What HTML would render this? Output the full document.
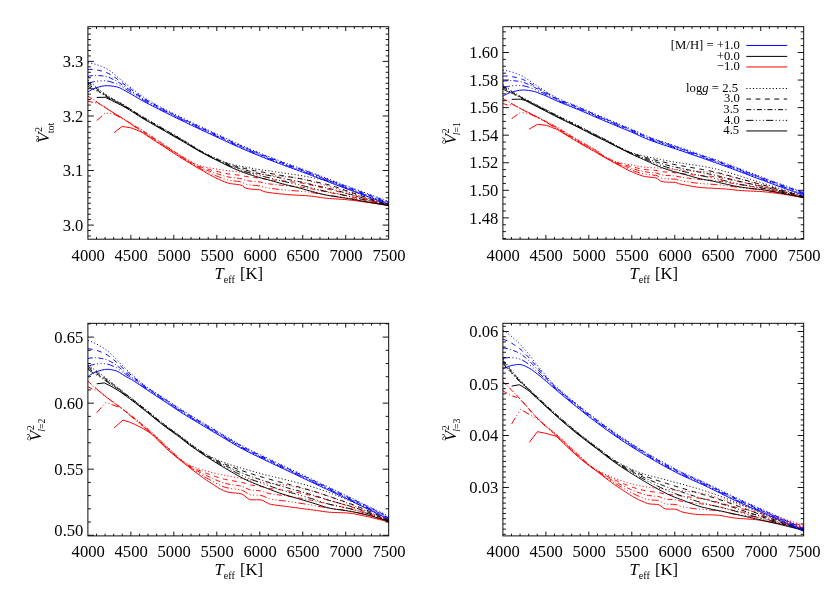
<!DOCTYPE html>
<html><head><meta charset="utf-8"><title>V2</title>
<style>html,body{margin:0;padding:0;background:#fff}svg{display:block;will-change:transform}text{font-family:"Liberation Serif",serif;fill:#000}</style></head><body>
<svg width="830" height="592" viewBox="0 0 830 592">
<rect width="830" height="592" fill="#fff"/>
<defs>
<clipPath id="clip1"><rect x="87.90" y="26.70" width="301.40" height="212.50"/></clipPath>
<clipPath id="clip2"><rect x="502.90" y="26.70" width="301.40" height="212.50"/></clipPath>
<clipPath id="clip3"><rect x="87.90" y="323.30" width="301.40" height="212.60"/></clipPath>
<clipPath id="clip4"><rect x="502.90" y="323.30" width="301.40" height="212.60"/></clipPath>
</defs>
<g clip-path="url(#clip1)" stroke-linejoin="round">
<path d="M87.90 95.93 L89.40 96.94 L90.90 97.94 L92.40 98.94 L93.90 99.94 L95.40 100.93 L96.90 101.92 L98.40 102.90 L99.90 103.88 L101.40 104.86 L102.90 105.83 L104.40 106.80 L105.90 107.76 L107.40 108.72 L108.90 109.68 L110.40 110.63 L111.90 111.58 L113.40 112.53 L114.90 113.47 L116.40 114.41 L117.90 115.34 L119.40 116.28 L120.90 117.21 L122.40 118.14 L123.90 119.06 L125.40 119.98 L126.90 120.89 L128.40 121.80 L129.90 122.69 L131.40 123.59 L132.90 124.48 L134.40 125.38 L135.90 126.27 L137.40 127.18 L138.90 128.08 L140.40 129.00 L141.90 129.93 L143.40 130.86 L144.90 131.81 L146.40 132.77 L147.90 133.75 L149.40 134.72 L150.90 135.71 L152.40 136.70 L153.90 137.69 L155.40 138.69 L156.90 139.68 L158.40 140.68 L159.90 141.67 L161.40 142.65 L162.90 143.63 L164.40 144.61 L165.90 145.60 L167.40 146.58 L168.90 147.57 L170.40 148.56 L171.90 149.55 L173.40 150.53 L174.90 151.51 L176.40 152.48 L177.90 153.44 L179.40 154.39 L180.90 155.32 L182.40 156.25 L183.90 157.19 L185.40 158.14 L186.90 159.09 L188.40 160.03 L189.90 160.94 L191.40 161.80 L192.90 162.60 L194.40 163.33 L195.90 163.98 L197.40 164.60 L198.90 165.17 L200.40 165.69 L201.90 166.16 L203.40 166.57 L204.90 166.93 L206.40 167.26 L207.90 167.56 L209.40 167.84 L210.90 168.10 L212.40 168.36 L213.90 168.60 L215.40 168.84 L216.90 169.08 L218.40 169.33 L219.90 169.57 L221.40 169.82 L222.90 170.05 L224.40 170.28 L225.90 170.50 L227.40 170.71 L228.90 170.90 L230.40 171.09 L231.90 171.26 L233.40 171.41 L234.90 171.56 L236.40 171.70 L237.90 171.83 L239.40 171.97 L240.90 172.10 L242.40 172.24 L243.90 172.39 L245.40 172.54 L246.90 172.70 L248.40 172.86 L249.90 173.02 L251.40 173.19 L252.90 173.35 L254.40 173.52 L255.90 173.69 L257.40 173.86 L258.90 174.03 L260.40 174.20 L261.90 174.37 L263.40 174.54 L264.90 174.71 L266.40 174.88 L267.90 175.05 L269.40 175.22 L270.90 175.39 L272.40 175.55 L273.90 175.71 L275.40 175.86 L276.90 176.00 L278.40 176.14 L279.90 176.28 L281.40 176.42 L282.90 176.56 L284.40 176.70 L285.90 176.84 L287.40 176.99 L288.90 177.15 L290.40 177.31 L291.90 177.48 L293.40 177.66 L294.90 177.85 L296.40 178.05 L297.90 178.27 L299.40 178.50 L300.90 178.76 L302.40 179.09 L303.90 179.47 L305.40 179.88 L306.90 180.29 L308.40 180.68 L309.90 181.08 L311.40 181.48 L312.90 181.88 L314.40 182.28 L315.90 182.69 L317.40 183.10 L318.90 183.52 L320.40 183.94 L321.90 184.36 L323.40 184.78 L324.90 185.21 L326.40 185.64 L327.90 186.07 L329.40 186.51 L330.90 186.94 L332.40 187.38 L333.90 187.82 L335.40 188.27 L336.90 188.71 L338.40 189.16 L339.90 189.61 L341.40 190.06 L342.90 190.51 L344.40 190.96 L345.90 191.42 L347.40 191.87 L348.90 192.33 L350.40 192.79 L351.90 193.25 L353.40 193.72 L354.90 194.18 L356.40 194.65 L357.90 195.12 L359.40 195.60 L360.90 196.07 L362.40 196.55 L363.90 197.03 L365.40 197.51 L366.90 198.00 L368.40 198.48 L369.90 198.97 L371.40 199.46 L372.90 199.95 L374.40 200.45 L375.90 200.95 L377.40 201.44 L378.90 201.95 L380.40 202.45 L381.90 202.95 L383.40 203.46 L384.90 203.97 L386.40 204.48 L387.90 204.99 L388.70 205.27" stroke="#ff0000" stroke-width="1.00" fill="none" stroke-dasharray="1.1 2.2"/>
<path d="M87.90 96.08 L89.40 97.09 L90.90 98.09 L92.40 99.09 L93.90 100.09 L95.40 101.08 L96.90 102.07 L98.40 103.05 L99.90 104.03 L101.40 105.01 L102.90 105.98 L104.40 106.95 L105.90 107.91 L107.40 108.87 L108.90 109.82 L110.40 110.77 L111.90 111.71 L113.40 112.65 L114.90 113.59 L116.40 114.53 L117.90 115.46 L119.40 116.40 L120.90 117.33 L122.40 118.27 L123.90 119.21 L125.40 120.15 L126.90 121.09 L128.40 122.03 L129.90 122.97 L131.40 123.90 L132.90 124.84 L134.40 125.78 L135.90 126.72 L137.40 127.66 L138.90 128.60 L140.40 129.55 L141.90 130.51 L143.40 131.46 L144.90 132.43 L146.40 133.40 L147.90 134.38 L149.40 135.36 L150.90 136.34 L152.40 137.33 L153.90 138.32 L155.40 139.31 L156.90 140.30 L158.40 141.28 L159.90 142.27 L161.40 143.25 L162.90 144.23 L164.40 145.21 L165.90 146.19 L167.40 147.18 L168.90 148.17 L170.40 149.16 L171.90 150.14 L173.40 151.12 L174.90 152.10 L176.40 153.07 L177.90 154.03 L179.40 154.98 L180.90 155.92 L182.40 156.85 L183.90 157.78 L185.40 158.73 L186.90 159.68 L188.40 160.61 L189.90 161.52 L191.40 162.39 L192.90 163.22 L194.40 163.99 L195.90 164.70 L197.40 165.38 L198.90 166.02 L200.40 166.64 L201.90 167.20 L203.40 167.72 L204.90 168.20 L206.40 168.66 L207.90 169.10 L209.40 169.52 L210.90 169.93 L212.40 170.32 L213.90 170.70 L215.40 171.07 L216.90 171.43 L218.40 171.78 L219.90 172.13 L221.40 172.48 L222.90 172.82 L224.40 173.15 L225.90 173.46 L227.40 173.74 L228.90 173.99 L230.40 174.21 L231.90 174.40 L233.40 174.56 L234.90 174.71 L236.40 174.86 L237.90 175.02 L239.40 175.18 L240.90 175.37 L242.40 175.63 L243.90 176.04 L245.40 176.40 L246.90 176.63 L248.40 176.83 L249.90 177.01 L251.40 177.17 L252.90 177.33 L254.40 177.48 L255.90 177.64 L257.40 177.80 L258.90 177.97 L260.40 178.16 L261.90 178.44 L263.40 178.75 L264.90 178.99 L266.40 179.19 L267.90 179.38 L269.40 179.56 L270.90 179.74 L272.40 179.91 L273.90 180.07 L275.40 180.23 L276.90 180.38 L278.40 180.53 L279.90 180.67 L281.40 180.82 L282.90 180.96 L284.40 181.09 L285.90 181.24 L287.40 181.38 L288.90 181.52 L290.40 181.67 L291.90 181.83 L293.40 181.99 L294.90 182.16 L296.40 182.33 L297.90 182.52 L299.40 182.72 L300.90 182.93 L302.40 183.20 L303.90 183.50 L305.40 183.82 L306.90 184.15 L308.40 184.48 L309.90 184.81 L311.40 185.15 L312.90 185.50 L314.40 185.85 L315.90 186.21 L317.40 186.58 L318.90 186.95 L320.40 187.32 L321.90 187.69 L323.40 188.06 L324.90 188.43 L326.40 188.79 L327.90 189.15 L329.40 189.51 L330.90 189.86 L332.40 190.22 L333.90 190.57 L335.40 190.93 L336.90 191.29 L338.40 191.65 L339.90 192.01 L341.40 192.37 L342.90 192.73 L344.40 193.10 L345.90 193.47 L347.40 193.85 L348.90 194.23 L350.40 194.62 L351.90 195.01 L353.40 195.40 L354.90 195.80 L356.40 196.20 L357.90 196.61 L359.40 197.02 L360.90 197.43 L362.40 197.84 L363.90 198.25 L365.40 198.66 L366.90 199.08 L368.40 199.50 L369.90 199.92 L371.40 200.34 L372.90 200.76 L374.40 201.19 L375.90 201.62 L377.40 202.05 L378.90 202.48 L380.40 202.91 L381.90 203.35 L383.40 203.79 L384.90 204.23 L386.40 204.68 L387.90 205.12 L388.70 205.36" stroke="#ff0000" stroke-width="1.00" fill="none" stroke-dasharray="4.8 4.55"/>
<path d="M88.00 101.20 L93.00 102.40 L98.60 103.33 L100.10 104.31 L101.60 105.29 L103.10 106.26 L104.60 107.23 L106.10 108.19 L107.60 109.14 L109.10 110.09 L110.60 111.03 L112.10 111.97 L113.60 112.90 L115.10 113.83 L116.60 114.77 L118.10 115.70 L119.60 116.64 L121.10 117.59 L122.60 118.54 L124.10 119.49 L125.60 120.45 L127.10 121.42 L128.60 122.39 L130.10 123.37 L131.60 124.34 L133.10 125.32 L134.60 126.31 L136.10 127.29 L137.60 128.27 L139.10 129.25 L140.60 130.24 L142.10 131.22 L143.60 132.20 L145.10 133.18 L146.60 134.16 L148.10 135.14 L149.60 136.12 L151.10 137.11 L152.60 138.09 L154.10 139.07 L155.60 140.06 L157.10 141.04 L158.60 142.02 L160.10 143.00 L161.60 143.98 L163.10 144.96 L164.60 145.94 L166.10 146.92 L167.60 147.91 L169.10 148.90 L170.60 149.88 L172.10 150.87 L173.60 151.85 L175.10 152.82 L176.60 153.79 L178.10 154.75 L179.60 155.70 L181.10 156.64 L182.60 157.57 L184.10 158.51 L185.60 159.45 L187.10 160.39 L188.60 161.31 L190.10 162.22 L191.60 163.10 L193.10 163.94 L194.60 164.75 L196.10 165.51 L197.60 166.26 L199.10 166.98 L200.60 167.67 L202.10 168.32 L203.60 168.94 L205.10 169.54 L206.60 170.13 L208.10 170.71 L209.60 171.27 L211.10 171.82 L212.60 172.36 L214.10 172.87 L215.60 173.36 L217.10 173.83 L218.60 174.29 L220.10 174.76 L221.60 175.21 L223.10 175.66 L224.60 176.08 L226.10 176.46 L227.60 176.81 L229.10 177.12 L230.60 177.36 L232.10 177.56 L233.60 177.72 L235.10 177.88 L236.60 178.05 L238.10 178.23 L239.60 178.42 L241.10 178.67 L242.60 179.11 L244.10 179.79 L245.60 180.30 L247.10 180.59 L248.60 180.82 L250.10 181.01 L251.60 181.18 L253.10 181.33 L254.60 181.46 L256.10 181.60 L257.60 181.75 L259.10 181.93 L260.60 182.15 L262.10 182.56 L263.60 183.02 L265.10 183.30 L266.60 183.52 L268.10 183.72 L269.60 183.92 L271.10 184.11 L272.60 184.29 L274.10 184.46 L275.60 184.63 L277.10 184.79 L278.60 184.94 L280.10 185.09 L281.60 185.23 L283.10 185.37 L284.60 185.51 L286.10 185.65 L287.60 185.78 L289.10 185.92 L290.60 186.06 L292.10 186.20 L293.60 186.34 L295.10 186.49 L296.60 186.64 L298.10 186.79 L299.60 186.96 L301.10 187.13 L302.60 187.34 L304.10 187.56 L305.60 187.80 L307.10 188.05 L308.60 188.30 L310.10 188.57 L311.60 188.85 L313.10 189.15 L314.60 189.46 L316.10 189.78 L317.60 190.10 L319.10 190.42 L320.60 190.74 L322.10 191.06 L323.60 191.38 L325.10 191.68 L326.60 191.98 L328.10 192.26 L329.60 192.54 L331.10 192.82 L332.60 193.09 L334.10 193.36 L335.60 193.63 L337.10 193.90 L338.60 194.17 L340.10 194.44 L341.60 194.72 L343.10 195.00 L344.60 195.28 L346.10 195.57 L347.60 195.87 L349.10 196.18 L350.60 196.49 L352.10 196.81 L353.60 197.13 L355.10 197.47 L356.60 197.80 L358.10 198.14 L359.60 198.48 L361.10 198.82 L362.60 199.17 L364.10 199.51 L365.60 199.86 L367.10 200.21 L368.60 200.56 L370.10 200.91 L371.60 201.26 L373.10 201.62 L374.60 201.97 L376.10 202.33 L377.60 202.70 L379.10 203.06 L380.60 203.43 L382.10 203.80 L383.60 204.17 L385.10 204.54 L386.60 204.92 L388.10 205.30 L388.70 205.45" stroke="#ff0000" stroke-width="1.00" fill="none" stroke-dasharray="5 2.3 1 2.3"/>
<path d="M96.70 120.60 L105.40 112.90 L114.00 114.20 L122.00 118.50 L129.70 123.37 L131.20 124.39 L132.70 125.41 L134.20 126.44 L135.70 127.46 L137.20 128.49 L138.70 129.51 L140.20 130.52 L141.70 131.53 L143.20 132.53 L144.70 133.53 L146.20 134.52 L147.70 135.51 L149.20 136.49 L150.70 137.48 L152.20 138.46 L153.70 139.44 L155.20 140.42 L156.70 141.39 L158.20 142.37 L159.70 143.35 L161.20 144.32 L162.70 145.30 L164.20 146.28 L165.70 147.26 L167.20 148.25 L168.70 149.23 L170.20 150.21 L171.70 151.20 L173.20 152.18 L174.70 153.15 L176.20 154.12 L177.70 155.09 L179.20 156.04 L180.70 156.99 L182.20 157.92 L183.70 158.86 L185.20 159.79 L186.70 160.72 L188.20 161.64 L189.70 162.56 L191.20 163.45 L192.70 164.33 L194.20 165.19 L195.70 166.02 L197.20 166.83 L198.70 167.63 L200.20 168.42 L201.70 169.17 L203.20 169.91 L204.70 170.63 L206.20 171.35 L207.70 172.07 L209.20 172.78 L210.70 173.48 L212.20 174.16 L213.70 174.82 L215.20 175.45 L216.70 176.04 L218.20 176.60 L219.70 177.18 L221.20 177.75 L222.70 178.30 L224.20 178.82 L225.70 179.31 L227.20 179.75 L228.70 180.12 L230.20 180.42 L231.70 180.65 L233.20 180.82 L234.70 180.98 L236.20 181.17 L237.70 181.36 L239.20 181.58 L240.70 181.85 L242.20 182.32 L243.70 183.22 L245.20 184.04 L246.70 184.44 L248.20 184.72 L249.70 184.95 L251.20 185.13 L252.70 185.27 L254.20 185.39 L255.70 185.51 L257.20 185.65 L258.70 185.82 L260.20 186.03 L261.70 186.48 L263.20 187.11 L264.70 187.50 L266.20 187.77 L267.70 187.99 L269.20 188.20 L270.70 188.41 L272.20 188.60 L273.70 188.78 L275.20 188.96 L276.70 189.13 L278.20 189.29 L279.70 189.44 L281.20 189.59 L282.70 189.73 L284.20 189.87 L285.70 190.00 L287.20 190.13 L288.70 190.26 L290.20 190.39 L291.70 190.51 L293.20 190.64 L294.70 190.76 L296.20 190.88 L297.70 191.01 L299.20 191.13 L300.70 191.26 L302.20 191.40 L303.70 191.54 L305.20 191.70 L306.70 191.86 L308.20 192.04 L309.70 192.23 L311.20 192.46 L312.70 192.70 L314.20 192.95 L315.70 193.22 L317.20 193.49 L318.70 193.77 L320.20 194.04 L321.70 194.32 L323.20 194.58 L324.70 194.83 L326.20 195.06 L327.70 195.28 L329.20 195.48 L330.70 195.67 L332.20 195.86 L333.70 196.05 L335.20 196.23 L336.70 196.41 L338.20 196.59 L339.70 196.78 L341.20 196.96 L342.70 197.15 L344.20 197.35 L345.70 197.56 L347.20 197.78 L348.70 198.01 L350.20 198.24 L351.70 198.49 L353.20 198.74 L354.70 199.00 L356.20 199.27 L357.70 199.54 L359.20 199.82 L360.70 200.09 L362.20 200.37 L363.70 200.65 L365.20 200.93 L366.70 201.21 L368.20 201.48 L369.70 201.77 L371.20 202.05 L372.70 202.34 L374.20 202.63 L375.70 202.92 L377.20 203.21 L378.70 203.51 L380.20 203.81 L381.70 204.11 L383.20 204.41 L384.70 204.72 L386.20 205.02 L387.70 205.33 L388.70 205.54" stroke="#ff0000" stroke-width="1.00" fill="none" stroke-dasharray="7.2 2.4 1 2.5 1 2.5 1 2.15"/>
<path d="M114.10 132.70 L122.20 126.40 L131.60 128.00 L136.70 130.00 L142.00 132.32 L143.50 133.33 L145.00 134.34 L146.50 135.34 L148.00 136.34 L149.50 137.32 L151.00 138.31 L152.50 139.28 L154.00 140.26 L155.50 141.23 L157.00 142.20 L158.50 143.17 L160.00 144.15 L161.50 145.12 L163.00 146.10 L164.50 147.07 L166.00 148.06 L167.50 149.04 L169.00 150.02 L170.50 151.01 L172.00 151.99 L173.50 152.97 L175.00 153.94 L176.50 154.91 L178.00 155.87 L179.50 156.83 L181.00 157.77 L182.50 158.71 L184.00 159.64 L185.50 160.57 L187.00 161.49 L188.50 162.41 L190.00 163.32 L191.50 164.22 L193.00 165.12 L194.50 166.01 L196.00 166.90 L197.50 167.78 L199.00 168.65 L200.50 169.52 L202.00 170.36 L203.50 171.20 L205.00 172.04 L206.50 172.90 L208.00 173.76 L209.50 174.61 L211.00 175.45 L212.50 176.27 L214.00 177.06 L215.50 177.80 L217.00 178.50 L218.50 179.18 L220.00 179.86 L221.50 180.53 L223.00 181.19 L224.50 181.80 L226.00 182.37 L227.50 182.86 L229.00 183.28 L230.50 183.60 L232.00 183.82 L233.50 184.00 L235.00 184.16 L236.50 184.37 L238.00 184.59 L239.50 184.84 L241.00 185.19 L242.50 185.88 L244.00 187.08 L245.50 188.00 L247.00 188.43 L248.50 188.74 L250.00 188.97 L251.50 189.14 L253.00 189.27 L254.50 189.38 L256.00 189.48 L257.50 189.61 L259.00 189.79 L260.50 190.04 L262.00 190.68 L263.50 191.43 L265.00 191.84 L266.50 192.12 L268.00 192.36 L269.50 192.58 L271.00 192.79 L272.50 193.00 L274.00 193.19 L275.50 193.37 L277.00 193.54 L278.50 193.71 L280.00 193.86 L281.50 194.01 L283.00 194.15 L284.50 194.29 L286.00 194.42 L287.50 194.55 L289.00 194.66 L290.50 194.78 L292.00 194.89 L293.50 194.99 L295.00 195.09 L296.50 195.19 L298.00 195.28 L299.50 195.37 L301.00 195.46 L302.50 195.53 L304.00 195.60 L305.50 195.67 L307.00 195.75 L308.50 195.86 L310.00 196.00 L311.50 196.17 L313.00 196.36 L314.50 196.57 L316.00 196.79 L317.50 197.02 L319.00 197.25 L320.50 197.48 L322.00 197.70 L323.50 197.90 L325.00 198.09 L326.50 198.25 L328.00 198.39 L329.50 198.51 L331.00 198.63 L332.50 198.73 L334.00 198.83 L335.50 198.92 L337.00 199.02 L338.50 199.11 L340.00 199.20 L341.50 199.30 L343.00 199.41 L344.50 199.53 L346.00 199.65 L347.50 199.80 L349.00 199.95 L350.50 200.11 L352.00 200.29 L353.50 200.48 L355.00 200.67 L356.50 200.87 L358.00 201.08 L359.50 201.28 L361.00 201.50 L362.50 201.71 L364.00 201.92 L365.50 202.13 L367.00 202.34 L368.50 202.55 L370.00 202.76 L371.50 202.98 L373.00 203.20 L374.50 203.42 L376.00 203.64 L377.50 203.87 L379.00 204.10 L380.50 204.33 L382.00 204.56 L383.50 204.80 L385.00 205.03 L386.50 205.28 L388.00 205.52 L388.70 205.63" stroke="#ff0000" stroke-width="1.00" fill="none"/>
<path d="M87.90 79.91 L89.40 81.25 L90.90 82.57 L92.40 83.87 L93.90 85.16 L95.40 86.42 L96.90 87.67 L98.40 88.91 L99.90 90.16 L101.40 91.37 L102.90 92.53 L104.40 93.60 L105.90 94.60 L107.40 95.55 L108.90 96.46 L110.40 97.34 L111.90 98.19 L113.40 99.02 L114.90 99.84 L116.40 100.65 L117.90 101.47 L119.40 102.29 L120.90 103.12 L122.40 103.98 L123.90 104.86 L125.40 105.77 L126.90 106.68 L128.40 107.61 L129.90 108.55 L131.40 109.49 L132.90 110.44 L134.40 111.39 L135.90 112.33 L137.40 113.28 L138.90 114.21 L140.40 115.14 L141.90 116.06 L143.40 116.96 L144.90 117.85 L146.40 118.74 L147.90 119.61 L149.40 120.48 L150.90 121.35 L152.40 122.21 L153.90 123.07 L155.40 123.92 L156.90 124.78 L158.40 125.64 L159.90 126.49 L161.40 127.35 L162.90 128.22 L164.40 129.08 L165.90 129.93 L167.40 130.79 L168.90 131.64 L170.40 132.50 L171.90 133.35 L173.40 134.20 L174.90 135.06 L176.40 135.93 L177.90 136.79 L179.40 137.67 L180.90 138.55 L182.40 139.44 L183.90 140.35 L185.40 141.27 L186.90 142.21 L188.40 143.16 L189.90 144.12 L191.40 145.07 L192.90 146.02 L194.40 146.97 L195.90 147.90 L197.40 148.81 L198.90 149.71 L200.40 150.58 L201.90 151.42 L203.40 152.24 L204.90 153.03 L206.40 153.81 L207.90 154.57 L209.40 155.31 L210.90 156.03 L212.40 156.74 L213.90 157.43 L215.40 158.11 L216.90 158.76 L218.40 159.39 L219.90 160.00 L221.40 160.59 L222.90 161.18 L224.40 161.76 L225.90 162.35 L227.40 162.95 L228.90 163.50 L230.40 163.97 L231.90 164.37 L233.40 164.73 L234.90 165.06 L236.40 165.37 L237.90 165.66 L239.40 165.94 L240.90 166.22 L242.40 166.49 L243.90 166.78 L245.40 167.07 L246.90 167.36 L248.40 167.65 L249.90 167.94 L251.40 168.22 L252.90 168.50 L254.40 168.76 L255.90 169.02 L257.40 169.27 L258.90 169.50 L260.40 169.73 L261.90 169.94 L263.40 170.15 L264.90 170.36 L266.40 170.56 L267.90 170.77 L269.40 170.97 L270.90 171.19 L272.40 171.40 L273.90 171.62 L275.40 171.84 L276.90 172.07 L278.40 172.29 L279.90 172.51 L281.40 172.73 L282.90 172.95 L284.40 173.17 L285.90 173.39 L287.40 173.60 L288.90 173.80 L290.40 174.01 L291.90 174.21 L293.40 174.42 L294.90 174.63 L296.40 174.85 L297.90 175.07 L299.40 175.30 L300.90 175.55 L302.40 175.81 L303.90 176.08 L305.40 176.36 L306.90 176.64 L308.40 176.94 L309.90 177.22 L311.40 177.51 L312.90 177.79 L314.40 178.08 L315.90 178.37 L317.40 178.66 L318.90 178.96 L320.40 179.27 L321.90 179.59 L323.40 179.93 L324.90 180.27 L326.40 180.64 L327.90 181.03 L329.40 181.43 L330.90 181.87 L332.40 182.36 L333.90 182.90 L335.40 183.48 L336.90 184.10 L338.40 184.73 L339.90 185.39 L341.40 186.04 L342.90 186.70 L344.40 187.34 L345.90 187.96 L347.40 188.56 L348.90 189.15 L350.40 189.74 L351.90 190.33 L353.40 190.93 L354.90 191.52 L356.40 192.11 L357.90 192.70 L359.40 193.29 L360.90 193.88 L362.40 194.47 L363.90 195.06 L365.40 195.64 L366.90 196.23 L368.40 196.82 L369.90 197.40 L371.40 197.99 L372.90 198.57 L374.40 199.15 L375.90 199.74 L377.40 200.32 L378.90 200.90 L380.40 201.48 L381.90 202.06 L383.40 202.64 L384.90 203.22 L386.40 203.79 L387.90 204.37 L388.70 204.68" stroke="#000000" stroke-width="1.00" fill="none" stroke-dasharray="1.1 2.2"/>
<path d="M87.90 82.05 L89.40 83.20 L90.90 84.35 L92.40 85.48 L93.90 86.60 L95.40 87.72 L96.90 88.82 L98.40 89.93 L99.90 91.04 L101.40 92.13 L102.90 93.19 L104.40 94.20 L105.90 95.17 L107.40 96.13 L108.90 97.05 L110.40 97.93 L111.90 98.78 L113.40 99.60 L114.90 100.40 L116.40 101.20 L117.90 101.99 L119.40 102.79 L120.90 103.60 L122.40 104.44 L123.90 105.31 L125.40 106.20 L126.90 107.11 L128.40 108.04 L129.90 108.97 L131.40 109.92 L132.90 110.86 L134.40 111.82 L135.90 112.77 L137.40 113.71 L138.90 114.65 L140.40 115.59 L141.90 116.51 L143.40 117.41 L144.90 118.30 L146.40 119.19 L147.90 120.06 L149.40 120.93 L150.90 121.80 L152.40 122.66 L153.90 123.52 L155.40 124.37 L156.90 125.23 L158.40 126.09 L159.90 126.94 L161.40 127.80 L162.90 128.67 L164.40 129.53 L165.90 130.39 L167.40 131.24 L168.90 132.10 L170.40 132.95 L171.90 133.81 L173.40 134.67 L174.90 135.52 L176.40 136.39 L177.90 137.25 L179.40 138.13 L180.90 139.00 L182.40 139.89 L183.90 140.79 L185.40 141.70 L186.90 142.63 L188.40 143.56 L189.90 144.50 L191.40 145.44 L192.90 146.38 L194.40 147.31 L195.90 148.22 L197.40 149.13 L198.90 150.02 L200.40 150.88 L201.90 151.72 L203.40 152.54 L204.90 153.34 L206.40 154.12 L207.90 154.88 L209.40 155.63 L210.90 156.36 L212.40 157.08 L213.90 157.79 L215.40 158.48 L216.90 159.16 L218.40 159.82 L219.90 160.46 L221.40 161.10 L222.90 161.72 L224.40 162.34 L225.90 162.98 L227.40 163.60 L228.90 164.19 L230.40 164.72 L231.90 165.18 L233.40 165.62 L234.90 166.03 L236.40 166.42 L237.90 166.80 L239.40 167.16 L240.90 167.52 L242.40 167.87 L243.90 168.23 L245.40 168.58 L246.90 168.93 L248.40 169.27 L249.90 169.61 L251.40 169.94 L252.90 170.27 L254.40 170.58 L255.90 170.89 L257.40 171.19 L258.90 171.47 L260.40 171.74 L261.90 172.01 L263.40 172.26 L264.90 172.52 L266.40 172.77 L267.90 173.02 L269.40 173.27 L270.90 173.53 L272.40 173.80 L273.90 174.07 L275.40 174.34 L276.90 174.61 L278.40 174.89 L279.90 175.16 L281.40 175.43 L282.90 175.70 L284.40 175.97 L285.90 176.22 L287.40 176.48 L288.90 176.72 L290.40 176.97 L291.90 177.21 L293.40 177.46 L294.90 177.70 L296.40 177.96 L297.90 178.22 L299.40 178.49 L300.90 178.77 L302.40 179.07 L303.90 179.37 L305.40 179.69 L306.90 180.01 L308.40 180.32 L309.90 180.64 L311.40 180.96 L312.90 181.27 L314.40 181.59 L315.90 181.91 L317.40 182.23 L318.90 182.55 L320.40 182.88 L321.90 183.21 L323.40 183.55 L324.90 183.90 L326.40 184.25 L327.90 184.61 L329.40 184.99 L330.90 185.38 L332.40 185.81 L333.90 186.27 L335.40 186.77 L336.90 187.28 L338.40 187.82 L339.90 188.36 L341.40 188.91 L342.90 189.46 L344.40 189.99 L345.90 190.52 L347.40 191.03 L348.90 191.54 L350.40 192.05 L351.90 192.56 L353.40 193.07 L354.90 193.57 L356.40 194.08 L357.90 194.59 L359.40 195.10 L360.90 195.61 L362.40 196.12 L363.90 196.62 L365.40 197.13 L366.90 197.64 L368.40 198.14 L369.90 198.65 L371.40 199.15 L372.90 199.65 L374.40 200.16 L375.90 200.66 L377.40 201.16 L378.90 201.66 L380.40 202.16 L381.90 202.66 L383.40 203.16 L384.90 203.66 L386.40 204.15 L387.90 204.65 L388.70 204.92" stroke="#000000" stroke-width="1.00" fill="none" stroke-dasharray="4.8 4.55"/>
<path d="M87.90 84.19 L89.40 85.15 L90.90 86.12 L92.40 87.09 L93.90 88.05 L95.40 89.02 L96.90 89.98 L98.40 90.95 L99.90 91.92 L101.40 92.90 L102.90 93.86 L104.40 94.80 L105.90 95.74 L107.40 96.70 L108.90 97.64 L110.40 98.53 L111.90 99.37 L113.40 100.17 L114.90 100.96 L116.40 101.74 L117.90 102.51 L119.40 103.29 L120.90 104.09 L122.40 104.91 L123.90 105.76 L125.40 106.64 L126.90 107.54 L128.40 108.46 L129.90 109.39 L131.40 110.34 L132.90 111.29 L134.40 112.24 L135.90 113.20 L137.40 114.15 L138.90 115.10 L140.40 116.03 L141.90 116.95 L143.40 117.86 L144.90 118.75 L146.40 119.64 L147.90 120.51 L149.40 121.38 L150.90 122.25 L152.40 123.11 L153.90 123.97 L155.40 124.82 L156.90 125.68 L158.40 126.54 L159.90 127.39 L161.40 128.25 L162.90 129.12 L164.40 129.98 L165.90 130.84 L167.40 131.70 L168.90 132.55 L170.40 133.41 L171.90 134.27 L173.40 135.13 L174.90 135.99 L176.40 136.85 L177.90 137.71 L179.40 138.58 L180.90 139.46 L182.40 140.34 L183.90 141.23 L185.40 142.13 L186.90 143.04 L188.40 143.96 L189.90 144.89 L191.40 145.81 L192.90 146.73 L194.40 147.65 L195.90 148.55 L197.40 149.44 L198.90 150.32 L200.40 151.18 L201.90 152.02 L203.40 152.84 L204.90 153.64 L206.40 154.43 L207.90 155.19 L209.40 155.95 L210.90 156.69 L212.40 157.42 L213.90 158.14 L215.40 158.85 L216.90 159.55 L218.40 160.24 L219.90 160.93 L221.40 161.60 L222.90 162.27 L224.40 162.93 L225.90 163.60 L227.40 164.26 L228.90 164.88 L230.40 165.46 L231.90 166.00 L233.40 166.51 L234.90 167.00 L236.40 167.48 L237.90 167.94 L239.40 168.38 L240.90 168.82 L242.40 169.25 L243.90 169.67 L245.40 170.09 L246.90 170.49 L248.40 170.89 L249.90 171.28 L251.40 171.67 L252.90 172.04 L254.40 172.40 L255.90 172.76 L257.40 173.10 L258.90 173.44 L260.40 173.76 L261.90 174.07 L263.40 174.37 L264.90 174.67 L266.40 174.97 L267.90 175.27 L269.40 175.57 L270.90 175.88 L272.40 176.20 L273.90 176.52 L275.40 176.84 L276.90 177.16 L278.40 177.49 L279.90 177.81 L281.40 178.13 L282.90 178.45 L284.40 178.76 L285.90 179.06 L287.40 179.36 L288.90 179.64 L290.40 179.93 L291.90 180.21 L293.40 180.49 L294.90 180.78 L296.40 181.07 L297.90 181.37 L299.40 181.67 L300.90 181.99 L302.40 182.33 L303.90 182.67 L305.40 183.02 L306.90 183.37 L308.40 183.71 L309.90 184.06 L311.40 184.40 L312.90 184.75 L314.40 185.10 L315.90 185.45 L317.40 185.79 L318.90 186.14 L320.40 186.49 L321.90 186.83 L323.40 187.18 L324.90 187.52 L326.40 187.86 L327.90 188.20 L329.40 188.54 L330.90 188.89 L332.40 189.26 L333.90 189.65 L335.40 190.05 L336.90 190.47 L338.40 190.90 L339.90 191.33 L341.40 191.77 L342.90 192.21 L344.40 192.65 L345.90 193.08 L347.40 193.50 L348.90 193.93 L350.40 194.35 L351.90 194.78 L353.40 195.20 L354.90 195.63 L356.40 196.06 L357.90 196.49 L359.40 196.91 L360.90 197.34 L362.40 197.77 L363.90 198.19 L365.40 198.62 L366.90 199.04 L368.40 199.47 L369.90 199.89 L371.40 200.31 L372.90 200.73 L374.40 201.16 L375.90 201.58 L377.40 202.00 L378.90 202.42 L380.40 202.84 L381.90 203.26 L383.40 203.68 L384.90 204.10 L386.40 204.52 L387.90 204.93 L388.70 205.16" stroke="#000000" stroke-width="1.00" fill="none" stroke-dasharray="5 2.3 1 2.3"/>
<path d="M87.90 86.32 L89.40 87.10 L90.90 87.89 L92.40 88.69 L93.90 89.50 L95.40 90.31 L96.90 91.13 L98.40 91.97 L99.90 92.81 L101.40 93.66 L102.90 94.53 L104.40 95.40 L105.90 96.32 L107.40 97.28 L108.90 98.23 L110.40 99.12 L111.90 99.95 L113.40 100.75 L114.90 101.52 L116.40 102.28 L117.90 103.04 L119.40 103.80 L120.90 104.57 L122.40 105.37 L123.90 106.21 L125.40 107.08 L126.90 107.97 L128.40 108.89 L129.90 109.82 L131.40 110.76 L132.90 111.71 L134.40 112.67 L135.90 113.63 L137.40 114.59 L138.90 115.54 L140.40 116.48 L141.90 117.40 L143.40 118.31 L144.90 119.20 L146.40 120.09 L147.90 120.96 L149.40 121.83 L150.90 122.70 L152.40 123.56 L153.90 124.42 L155.40 125.27 L156.90 126.13 L158.40 126.99 L159.90 127.84 L161.40 128.70 L162.90 129.57 L164.40 130.43 L165.90 131.29 L167.40 132.15 L168.90 133.01 L170.40 133.87 L171.90 134.73 L173.40 135.59 L174.90 136.45 L176.40 137.31 L177.90 138.17 L179.40 139.04 L180.90 139.91 L182.40 140.78 L183.90 141.67 L185.40 142.56 L186.90 143.46 L188.40 144.36 L189.90 145.27 L191.40 146.18 L192.90 147.08 L194.40 147.98 L195.90 148.88 L197.40 149.76 L198.90 150.63 L200.40 151.49 L201.90 152.32 L203.40 153.14 L204.90 153.95 L206.40 154.73 L207.90 155.51 L209.40 156.27 L210.90 157.02 L212.40 157.76 L213.90 158.50 L215.40 159.23 L216.90 159.95 L218.40 160.67 L219.90 161.39 L221.40 162.11 L222.90 162.82 L224.40 163.52 L225.90 164.22 L227.40 164.91 L228.90 165.58 L230.40 166.21 L231.90 166.81 L233.40 167.40 L234.90 167.97 L236.40 168.53 L237.90 169.08 L239.40 169.61 L240.90 170.12 L242.40 170.63 L243.90 171.12 L245.40 171.59 L246.90 172.06 L248.40 172.51 L249.90 172.96 L251.40 173.39 L252.90 173.81 L254.40 174.22 L255.90 174.63 L257.40 175.02 L258.90 175.41 L260.40 175.78 L261.90 176.14 L263.40 176.49 L264.90 176.83 L266.40 177.18 L267.90 177.52 L269.40 177.87 L270.90 178.23 L272.40 178.59 L273.90 178.96 L275.40 179.34 L276.90 179.71 L278.40 180.09 L279.90 180.46 L281.40 180.83 L282.90 181.20 L284.40 181.55 L285.90 181.90 L287.40 182.23 L288.90 182.56 L290.40 182.89 L291.90 183.21 L293.40 183.53 L294.90 183.85 L296.40 184.18 L297.90 184.52 L299.40 184.86 L300.90 185.22 L302.40 185.59 L303.90 185.96 L305.40 186.35 L306.90 186.73 L308.40 187.10 L309.90 187.47 L311.40 187.85 L312.90 188.23 L314.40 188.61 L315.90 188.99 L317.40 189.36 L318.90 189.73 L320.40 190.10 L321.90 190.46 L323.40 190.80 L324.90 191.14 L326.40 191.47 L327.90 191.79 L329.40 192.09 L330.90 192.40 L332.40 192.70 L333.90 193.02 L335.40 193.34 L336.90 193.66 L338.40 193.98 L339.90 194.31 L341.40 194.64 L342.90 194.97 L344.40 195.31 L345.90 195.64 L347.40 195.98 L348.90 196.32 L350.40 196.66 L351.90 197.00 L353.40 197.34 L354.90 197.69 L356.40 198.03 L357.90 198.38 L359.40 198.73 L360.90 199.07 L362.40 199.42 L363.90 199.76 L365.40 200.11 L366.90 200.45 L368.40 200.79 L369.90 201.13 L371.40 201.48 L372.90 201.82 L374.40 202.16 L375.90 202.50 L377.40 202.84 L378.90 203.18 L380.40 203.52 L381.90 203.86 L383.40 204.20 L384.90 204.54 L386.40 204.88 L387.90 205.21 L388.70 205.40" stroke="#000000" stroke-width="1.00" fill="none" stroke-dasharray="7.2 2.4 1 2.5 1 2.5 1 2.15"/>
<path d="M96.70 97.40 L105.20 97.30 L110.20 99.80 L111.50 100.32 L113.00 101.12 L114.50 101.88 L116.00 102.63 L117.50 103.36 L119.00 104.10 L120.50 104.85 L122.00 105.62 L123.50 106.43 L125.00 107.28 L126.50 108.16 L128.00 109.06 L129.50 109.99 L131.00 110.93 L132.50 111.88 L134.00 112.84 L135.50 113.81 L137.00 114.77 L138.50 115.73 L140.00 116.68 L141.50 117.61 L143.00 118.52 L144.50 119.41 L146.00 120.30 L147.50 121.18 L149.00 122.05 L150.50 122.92 L152.00 123.78 L153.50 124.64 L155.00 125.50 L156.50 126.35 L158.00 127.21 L159.50 128.06 L161.00 128.92 L162.50 129.78 L164.00 130.65 L165.50 131.51 L167.00 132.37 L168.50 133.24 L170.00 134.10 L171.50 134.96 L173.00 135.82 L174.50 136.68 L176.00 137.54 L177.50 138.40 L179.00 139.27 L180.50 140.13 L182.00 141.00 L183.50 141.87 L185.00 142.75 L186.50 143.64 L188.00 144.53 L189.50 145.42 L191.00 146.31 L192.50 147.20 L194.00 148.09 L195.50 148.97 L197.00 149.84 L198.50 150.71 L200.00 151.56 L201.50 152.40 L203.00 153.23 L204.50 154.04 L206.00 154.83 L207.50 155.61 L209.00 156.38 L210.50 157.15 L212.00 157.90 L213.50 158.65 L215.00 159.40 L216.50 160.15 L218.00 160.90 L219.50 161.66 L221.00 162.41 L222.50 163.16 L224.00 163.91 L225.50 164.65 L227.00 165.37 L228.50 166.08 L230.00 166.77 L231.50 167.45 L233.00 168.11 L234.50 168.77 L236.00 169.42 L237.50 170.05 L239.00 170.67 L240.50 171.27 L242.00 171.85 L243.50 172.42 L245.00 172.96 L246.50 173.49 L248.00 174.00 L249.50 174.50 L251.00 174.98 L252.50 175.46 L254.00 175.92 L255.50 176.38 L257.00 176.82 L258.50 177.26 L260.00 177.68 L261.50 178.09 L263.00 178.49 L264.50 178.88 L266.00 179.28 L267.50 179.67 L269.00 180.06 L270.50 180.46 L272.00 180.88 L273.50 181.30 L275.00 181.72 L276.50 182.15 L278.00 182.58 L279.50 183.00 L281.00 183.42 L282.50 183.84 L284.00 184.24 L285.50 184.63 L287.00 185.01 L288.50 185.39 L290.00 185.75 L291.50 186.11 L293.00 186.47 L294.50 186.83 L296.00 187.19 L297.50 187.56 L299.00 187.94 L300.50 188.33 L302.00 188.74 L303.50 189.15 L305.00 189.57 L306.50 189.98 L308.00 190.38 L309.50 190.78 L311.00 191.19 L312.50 191.60 L314.00 192.01 L315.50 192.42 L317.00 192.82 L318.50 193.22 L320.00 193.61 L321.50 193.98 L323.00 194.34 L324.50 194.68 L326.00 195.00 L327.50 195.30 L329.00 195.58 L330.50 195.84 L332.00 196.09 L333.50 196.33 L335.00 196.56 L336.50 196.78 L338.00 197.01 L339.50 197.23 L341.00 197.45 L342.50 197.67 L344.00 197.90 L345.50 198.14 L347.00 198.38 L348.50 198.64 L350.00 198.89 L351.50 199.15 L353.00 199.41 L354.50 199.67 L356.00 199.94 L357.50 200.20 L359.00 200.47 L360.50 200.73 L362.00 201.00 L363.50 201.26 L365.00 201.53 L366.50 201.79 L368.00 202.05 L369.50 202.31 L371.00 202.57 L372.50 202.83 L374.00 203.09 L375.50 203.35 L377.00 203.61 L378.50 203.87 L380.00 204.13 L381.50 204.39 L383.00 204.65 L384.50 204.91 L386.00 205.17 L387.50 205.43 L388.70 205.63" stroke="#000000" stroke-width="1.00" fill="none"/>
<path d="M87.90 62.79 L89.40 62.95 L90.90 63.18 L92.40 63.48 L93.90 63.85 L95.40 64.27 L96.90 64.74 L98.40 65.25 L99.90 65.80 L101.40 66.38 L102.90 66.98 L104.40 67.60 L105.90 68.30 L107.40 69.14 L108.90 70.09 L110.40 71.15 L111.90 72.29 L113.40 73.50 L114.90 74.75 L116.40 76.03 L117.90 77.33 L119.40 78.62 L120.90 79.89 L122.40 81.11 L123.90 82.28 L125.40 83.42 L126.90 84.59 L128.40 85.77 L129.90 86.96 L131.40 88.15 L132.90 89.33 L134.40 90.51 L135.90 91.67 L137.40 92.81 L138.90 93.93 L140.40 95.01 L141.90 96.06 L143.40 97.07 L144.90 98.03 L146.40 98.98 L147.90 99.90 L149.40 100.81 L150.90 101.69 L152.40 102.56 L153.90 103.41 L155.40 104.25 L156.90 105.08 L158.40 105.90 L159.90 106.70 L161.40 107.51 L162.90 108.31 L164.40 109.09 L165.90 109.87 L167.40 110.63 L168.90 111.37 L170.40 112.11 L171.90 112.84 L173.40 113.57 L174.90 114.29 L176.40 115.01 L177.90 115.73 L179.40 116.45 L180.90 117.17 L182.40 117.89 L183.90 118.62 L185.40 119.34 L186.90 120.06 L188.40 120.79 L189.90 121.50 L191.40 122.22 L192.90 122.94 L194.40 123.65 L195.90 124.36 L197.40 125.07 L198.90 125.78 L200.40 126.48 L201.90 127.19 L203.40 127.89 L204.90 128.59 L206.40 129.28 L207.90 129.97 L209.40 130.66 L210.90 131.35 L212.40 132.04 L213.90 132.73 L215.40 133.42 L216.90 134.11 L218.40 134.80 L219.90 135.49 L221.40 136.19 L222.90 136.89 L224.40 137.59 L225.90 138.30 L227.40 139.00 L228.90 139.70 L230.40 140.38 L231.90 141.06 L233.40 141.74 L234.90 142.41 L236.40 143.09 L237.90 143.75 L239.40 144.42 L240.90 145.08 L242.40 145.74 L243.90 146.39 L245.40 147.04 L246.90 147.68 L248.40 148.32 L249.90 148.96 L251.40 149.59 L252.90 150.21 L254.40 150.83 L255.90 151.45 L257.40 152.07 L258.90 152.67 L260.40 153.28 L261.90 153.88 L263.40 154.48 L264.90 155.07 L266.40 155.66 L267.90 156.25 L269.40 156.83 L270.90 157.41 L272.40 157.99 L273.90 158.56 L275.40 159.12 L276.90 159.68 L278.40 160.24 L279.90 160.80 L281.40 161.35 L282.90 161.91 L284.40 162.46 L285.90 163.00 L287.40 163.55 L288.90 164.10 L290.40 164.64 L291.90 165.19 L293.40 165.74 L294.90 166.28 L296.40 166.83 L297.90 167.38 L299.40 167.92 L300.90 168.48 L302.40 169.03 L303.90 169.58 L305.40 170.14 L306.90 170.70 L308.40 171.26 L309.90 171.83 L311.40 172.40 L312.90 172.97 L314.40 173.54 L315.90 174.11 L317.40 174.68 L318.90 175.26 L320.40 175.83 L321.90 176.41 L323.40 176.98 L324.90 177.56 L326.40 178.14 L327.90 178.72 L329.40 179.29 L330.90 179.87 L332.40 180.45 L333.90 181.02 L335.40 181.60 L336.90 182.17 L338.40 182.74 L339.90 183.31 L341.40 183.88 L342.90 184.45 L344.40 185.01 L345.90 185.58 L347.40 186.14 L348.90 186.70 L350.40 187.26 L351.90 187.81 L353.40 188.37 L354.90 188.93 L356.40 189.49 L357.90 190.04 L359.40 190.60 L360.90 191.15 L362.40 191.70 L363.90 192.26 L365.40 192.81 L366.90 193.36 L368.40 193.91 L369.90 194.46 L371.40 195.01 L372.90 195.55 L374.40 196.10 L375.90 196.65 L377.40 197.19 L378.90 197.74 L380.40 198.28 L381.90 198.82 L383.40 199.36 L384.90 199.91 L386.40 200.45 L387.90 200.98 L388.70 201.27" stroke="#0000ff" stroke-width="1.00" fill="none" stroke-dasharray="1.1 2.2"/>
<path d="M87.90 69.50 L89.40 69.41 L90.90 69.38 L92.40 69.43 L93.90 69.55 L95.40 69.73 L96.90 69.98 L98.40 70.28 L99.90 70.61 L101.40 70.97 L102.90 71.36 L104.40 71.79 L105.90 72.30 L107.40 72.95 L108.90 73.70 L110.40 74.54 L111.90 75.46 L113.40 76.44 L114.90 77.46 L116.40 78.50 L117.90 79.60 L119.40 80.72 L120.90 81.86 L122.40 82.98 L123.90 84.07 L125.40 85.15 L126.90 86.24 L128.40 87.33 L129.90 88.43 L131.40 89.54 L132.90 90.66 L134.40 91.77 L135.90 92.87 L137.40 93.96 L138.90 95.02 L140.40 96.06 L141.90 97.06 L143.40 98.03 L144.90 98.96 L146.40 99.87 L147.90 100.77 L149.40 101.64 L150.90 102.50 L152.40 103.35 L153.90 104.18 L155.40 105.00 L156.90 105.81 L158.40 106.62 L159.90 107.41 L161.40 108.21 L162.90 108.99 L164.40 109.77 L165.90 110.54 L167.40 111.30 L168.90 112.05 L170.40 112.79 L171.90 113.52 L173.40 114.25 L174.90 114.97 L176.40 115.69 L177.90 116.41 L179.40 117.14 L180.90 117.86 L182.40 118.58 L183.90 119.31 L185.40 120.03 L186.90 120.75 L188.40 121.48 L189.90 122.19 L191.40 122.91 L192.90 123.63 L194.40 124.34 L195.90 125.05 L197.40 125.76 L198.90 126.47 L200.40 127.17 L201.90 127.88 L203.40 128.58 L204.90 129.28 L206.40 129.97 L207.90 130.66 L209.40 131.35 L210.90 132.04 L212.40 132.73 L213.90 133.42 L215.40 134.11 L216.90 134.80 L218.40 135.49 L219.90 136.18 L221.40 136.88 L222.90 137.58 L224.40 138.28 L225.90 138.99 L227.40 139.69 L228.90 140.39 L230.40 141.07 L231.90 141.75 L233.40 142.43 L234.90 143.10 L236.40 143.78 L237.90 144.44 L239.40 145.11 L240.90 145.77 L242.40 146.43 L243.90 147.08 L245.40 147.73 L246.90 148.37 L248.40 149.01 L249.90 149.65 L251.40 150.28 L252.90 150.90 L254.40 151.52 L255.90 152.14 L257.40 152.76 L258.90 153.36 L260.40 153.97 L261.90 154.57 L263.40 155.17 L264.90 155.76 L266.40 156.35 L267.90 156.94 L269.40 157.52 L270.90 158.10 L272.40 158.68 L273.90 159.25 L275.40 159.81 L276.90 160.37 L278.40 160.93 L279.90 161.49 L281.40 162.04 L282.90 162.60 L284.40 163.15 L285.90 163.69 L287.40 164.24 L288.90 164.79 L290.40 165.33 L291.90 165.88 L293.40 166.43 L294.90 166.97 L296.40 167.52 L297.90 168.07 L299.40 168.61 L300.90 169.17 L302.40 169.72 L303.90 170.27 L305.40 170.83 L306.90 171.39 L308.40 171.95 L309.90 172.52 L311.40 173.09 L312.90 173.66 L314.40 174.23 L315.90 174.80 L317.40 175.37 L318.90 175.95 L320.40 176.52 L321.90 177.10 L323.40 177.67 L324.90 178.25 L326.40 178.83 L327.90 179.41 L329.40 179.98 L330.90 180.56 L332.40 181.14 L333.90 181.71 L335.40 182.29 L336.90 182.86 L338.40 183.43 L339.90 184.00 L341.40 184.57 L342.90 185.14 L344.40 185.70 L345.90 186.27 L347.40 186.83 L348.90 187.39 L350.40 187.95 L351.90 188.50 L353.40 189.06 L354.90 189.62 L356.40 190.18 L357.90 190.73 L359.40 191.29 L360.90 191.84 L362.40 192.39 L363.90 192.95 L365.40 193.50 L366.90 194.05 L368.40 194.60 L369.90 195.15 L371.40 195.70 L372.90 196.24 L374.40 196.79 L375.90 197.34 L377.40 197.88 L378.90 198.43 L380.40 198.97 L381.90 199.51 L383.40 200.05 L384.90 200.60 L386.40 201.14 L387.90 201.67 L388.70 201.96" stroke="#0000ff" stroke-width="1.00" fill="none" stroke-dasharray="4.8 4.55"/>
<path d="M87.90 76.50 L89.40 76.15 L90.90 75.86 L92.40 75.64 L93.90 75.49 L95.40 75.43 L96.90 75.46 L98.40 75.53 L99.90 75.63 L101.40 75.76 L102.90 75.94 L104.40 76.16 L105.90 76.48 L107.40 76.93 L108.90 77.47 L110.40 78.09 L111.90 78.77 L113.40 79.51 L114.90 80.28 L116.40 81.08 L117.90 81.96 L119.40 82.91 L120.90 83.91 L122.40 84.93 L123.90 85.94 L125.40 86.96 L126.90 87.97 L128.40 88.96 L129.90 89.97 L131.40 91.00 L132.90 92.04 L134.40 93.08 L135.90 94.12 L137.40 95.15 L138.90 96.16 L140.40 97.15 L141.90 98.11 L143.40 99.03 L144.90 99.93 L146.40 100.81 L147.90 101.67 L149.40 102.52 L150.90 103.35 L152.40 104.17 L153.90 104.99 L155.40 105.79 L156.90 106.58 L158.40 107.37 L159.90 108.16 L161.40 108.94 L162.90 109.71 L164.40 110.48 L165.90 111.25 L167.40 112.00 L168.90 112.75 L170.40 113.49 L171.90 114.22 L173.40 114.95 L174.90 115.68 L176.40 116.41 L177.90 117.13 L179.40 117.85 L180.90 118.58 L182.40 119.30 L183.90 120.03 L185.40 120.75 L186.90 121.47 L188.40 122.20 L189.90 122.91 L191.40 123.63 L192.90 124.35 L194.40 125.06 L195.90 125.77 L197.40 126.48 L198.90 127.19 L200.40 127.89 L201.90 128.60 L203.40 129.30 L204.90 130.00 L206.40 130.69 L207.90 131.38 L209.40 132.07 L210.90 132.76 L212.40 133.45 L213.90 134.14 L215.40 134.83 L216.90 135.52 L218.40 136.21 L219.90 136.90 L221.40 137.60 L222.90 138.30 L224.40 139.00 L225.90 139.71 L227.40 140.41 L228.90 141.11 L230.40 141.79 L231.90 142.47 L233.40 143.15 L234.90 143.82 L236.40 144.50 L237.90 145.16 L239.40 145.83 L240.90 146.49 L242.40 147.15 L243.90 147.80 L245.40 148.45 L246.90 149.09 L248.40 149.73 L249.90 150.37 L251.40 151.00 L252.90 151.62 L254.40 152.24 L255.90 152.86 L257.40 153.48 L258.90 154.08 L260.40 154.69 L261.90 155.29 L263.40 155.89 L264.90 156.48 L266.40 157.07 L267.90 157.66 L269.40 158.24 L270.90 158.82 L272.40 159.40 L273.90 159.97 L275.40 160.53 L276.90 161.09 L278.40 161.65 L279.90 162.21 L281.40 162.76 L282.90 163.32 L284.40 163.87 L285.90 164.41 L287.40 164.96 L288.90 165.51 L290.40 166.05 L291.90 166.60 L293.40 167.15 L294.90 167.69 L296.40 168.24 L297.90 168.79 L299.40 169.33 L300.90 169.89 L302.40 170.44 L303.90 170.99 L305.40 171.55 L306.90 172.11 L308.40 172.67 L309.90 173.24 L311.40 173.81 L312.90 174.38 L314.40 174.95 L315.90 175.52 L317.40 176.09 L318.90 176.67 L320.40 177.24 L321.90 177.82 L323.40 178.39 L324.90 178.97 L326.40 179.55 L327.90 180.13 L329.40 180.70 L330.90 181.28 L332.40 181.86 L333.90 182.43 L335.40 183.01 L336.90 183.58 L338.40 184.15 L339.90 184.72 L341.40 185.29 L342.90 185.86 L344.40 186.42 L345.90 186.99 L347.40 187.55 L348.90 188.11 L350.40 188.67 L351.90 189.22 L353.40 189.78 L354.90 190.34 L356.40 190.90 L357.90 191.45 L359.40 192.01 L360.90 192.56 L362.40 193.11 L363.90 193.67 L365.40 194.22 L366.90 194.77 L368.40 195.32 L369.90 195.87 L371.40 196.42 L372.90 196.96 L374.40 197.51 L375.90 198.06 L377.40 198.60 L378.90 199.15 L380.40 199.69 L381.90 200.23 L383.40 200.77 L384.90 201.32 L386.40 201.86 L387.90 202.39 L388.70 202.68" stroke="#0000ff" stroke-width="1.00" fill="none" stroke-dasharray="5 2.3 1 2.3"/>
<path d="M87.90 83.80 L89.40 83.17 L90.90 82.60 L92.40 82.10 L93.90 81.69 L95.40 81.37 L96.90 81.16 L98.40 81.00 L99.90 80.86 L101.40 80.75 L102.90 80.70 L104.40 80.72 L105.90 80.83 L107.40 81.07 L108.90 81.39 L110.40 81.78 L111.90 82.22 L113.40 82.71 L114.90 83.22 L116.40 83.77 L117.90 84.42 L119.40 85.19 L120.90 86.05 L122.40 86.96 L123.90 87.90 L125.40 88.84 L126.90 89.76 L128.40 90.66 L129.90 91.58 L131.40 92.52 L132.90 93.48 L134.40 94.45 L135.90 95.42 L137.40 96.39 L138.90 97.35 L140.40 98.29 L141.90 99.20 L143.40 100.08 L144.90 100.94 L146.40 101.78 L147.90 102.61 L149.40 103.43 L150.90 104.23 L152.40 105.03 L153.90 105.82 L155.40 106.61 L156.90 107.38 L158.40 108.16 L159.90 108.93 L161.40 109.70 L162.90 110.46 L164.40 111.22 L165.90 111.98 L167.40 112.73 L168.90 113.48 L170.40 114.22 L171.90 114.95 L173.40 115.69 L174.90 116.42 L176.40 117.15 L177.90 117.87 L179.40 118.60 L180.90 119.33 L182.40 120.05 L183.90 120.78 L185.40 121.50 L186.90 122.22 L188.40 122.95 L189.90 123.66 L191.40 124.38 L192.90 125.10 L194.40 125.81 L195.90 126.52 L197.40 127.23 L198.90 127.94 L200.40 128.64 L201.90 129.35 L203.40 130.05 L204.90 130.75 L206.40 131.44 L207.90 132.13 L209.40 132.82 L210.90 133.51 L212.40 134.20 L213.90 134.89 L215.40 135.58 L216.90 136.27 L218.40 136.96 L219.90 137.65 L221.40 138.35 L222.90 139.05 L224.40 139.75 L225.90 140.46 L227.40 141.16 L228.90 141.86 L230.40 142.54 L231.90 143.22 L233.40 143.90 L234.90 144.57 L236.40 145.25 L237.90 145.91 L239.40 146.58 L240.90 147.24 L242.40 147.90 L243.90 148.55 L245.40 149.20 L246.90 149.84 L248.40 150.48 L249.90 151.12 L251.40 151.75 L252.90 152.37 L254.40 152.99 L255.90 153.61 L257.40 154.23 L258.90 154.83 L260.40 155.44 L261.90 156.04 L263.40 156.64 L264.90 157.23 L266.40 157.82 L267.90 158.41 L269.40 158.99 L270.90 159.57 L272.40 160.15 L273.90 160.72 L275.40 161.28 L276.90 161.84 L278.40 162.40 L279.90 162.96 L281.40 163.51 L282.90 164.07 L284.40 164.62 L285.90 165.16 L287.40 165.71 L288.90 166.26 L290.40 166.80 L291.90 167.35 L293.40 167.90 L294.90 168.44 L296.40 168.99 L297.90 169.54 L299.40 170.08 L300.90 170.64 L302.40 171.19 L303.90 171.74 L305.40 172.30 L306.90 172.86 L308.40 173.42 L309.90 173.99 L311.40 174.56 L312.90 175.13 L314.40 175.70 L315.90 176.27 L317.40 176.84 L318.90 177.42 L320.40 177.99 L321.90 178.57 L323.40 179.14 L324.90 179.72 L326.40 180.30 L327.90 180.88 L329.40 181.45 L330.90 182.03 L332.40 182.61 L333.90 183.18 L335.40 183.76 L336.90 184.33 L338.40 184.90 L339.90 185.47 L341.40 186.04 L342.90 186.61 L344.40 187.17 L345.90 187.74 L347.40 188.30 L348.90 188.86 L350.40 189.42 L351.90 189.97 L353.40 190.53 L354.90 191.09 L356.40 191.65 L357.90 192.20 L359.40 192.76 L360.90 193.31 L362.40 193.86 L363.90 194.42 L365.40 194.97 L366.90 195.52 L368.40 196.07 L369.90 196.62 L371.40 197.17 L372.90 197.71 L374.40 198.26 L375.90 198.81 L377.40 199.35 L378.90 199.90 L380.40 200.44 L381.90 200.98 L383.40 201.52 L384.90 202.07 L386.40 202.61 L387.90 203.14 L388.70 203.43" stroke="#0000ff" stroke-width="1.00" fill="none" stroke-dasharray="7.2 2.4 1 2.5 1 2.5 1 2.15"/>
<path d="M87.90 91.96 L89.40 91.03 L90.90 90.15 L92.40 89.34 L93.90 88.63 L95.40 88.02 L96.90 87.54 L98.40 87.12 L99.90 86.71 L101.40 86.34 L102.90 86.04 L104.40 85.82 L105.90 85.71 L107.40 85.71 L108.90 85.79 L110.40 85.91 L111.90 86.08 L113.40 86.29 L114.90 86.52 L116.40 86.77 L117.90 87.18 L119.40 87.75 L120.90 88.45 L122.40 89.24 L123.90 90.08 L125.40 90.94 L126.90 91.78 L128.40 92.57 L129.90 93.38 L131.40 94.22 L132.90 95.09 L134.40 95.98 L135.90 96.88 L137.40 97.78 L138.90 98.68 L140.40 99.56 L141.90 100.42 L143.40 101.25 L144.90 102.07 L146.40 102.87 L147.90 103.66 L149.40 104.45 L150.90 105.22 L152.40 105.99 L153.90 106.76 L155.40 107.52 L156.90 108.28 L158.40 109.04 L159.90 109.79 L161.40 110.55 L162.90 111.30 L164.40 112.05 L165.90 112.80 L167.40 113.55 L168.90 114.29 L170.40 115.04 L171.90 115.77 L173.40 116.51 L174.90 117.25 L176.40 117.98 L177.90 118.71 L179.40 119.44 L180.90 120.17 L182.40 120.89 L183.90 121.62 L185.40 122.34 L186.90 123.06 L188.40 123.79 L189.90 124.50 L191.40 125.22 L192.90 125.94 L194.40 126.65 L195.90 127.36 L197.40 128.07 L198.90 128.78 L200.40 129.48 L201.90 130.19 L203.40 130.89 L204.90 131.59 L206.40 132.28 L207.90 132.97 L209.40 133.66 L210.90 134.35 L212.40 135.04 L213.90 135.73 L215.40 136.42 L216.90 137.11 L218.40 137.80 L219.90 138.49 L221.40 139.19 L222.90 139.89 L224.40 140.59 L225.90 141.30 L227.40 142.00 L228.90 142.70 L230.40 143.38 L231.90 144.06 L233.40 144.74 L234.90 145.41 L236.40 146.09 L237.90 146.75 L239.40 147.42 L240.90 148.08 L242.40 148.74 L243.90 149.39 L245.40 150.04 L246.90 150.68 L248.40 151.32 L249.90 151.96 L251.40 152.59 L252.90 153.21 L254.40 153.83 L255.90 154.45 L257.40 155.07 L258.90 155.67 L260.40 156.28 L261.90 156.88 L263.40 157.48 L264.90 158.07 L266.40 158.66 L267.90 159.25 L269.40 159.83 L270.90 160.41 L272.40 160.99 L273.90 161.56 L275.40 162.12 L276.90 162.68 L278.40 163.24 L279.90 163.80 L281.40 164.35 L282.90 164.91 L284.40 165.46 L285.90 166.00 L287.40 166.55 L288.90 167.10 L290.40 167.64 L291.90 168.19 L293.40 168.74 L294.90 169.28 L296.40 169.83 L297.90 170.38 L299.40 170.92 L300.90 171.48 L302.40 172.03 L303.90 172.58 L305.40 173.14 L306.90 173.70 L308.40 174.26 L309.90 174.83 L311.40 175.40 L312.90 175.97 L314.40 176.54 L315.90 177.11 L317.40 177.68 L318.90 178.26 L320.40 178.83 L321.90 179.41 L323.40 179.98 L324.90 180.56 L326.40 181.14 L327.90 181.72 L329.40 182.29 L330.90 182.87 L332.40 183.45 L333.90 184.02 L335.40 184.60 L336.90 185.17 L338.40 185.74 L339.90 186.31 L341.40 186.88 L342.90 187.45 L344.40 188.01 L345.90 188.58 L347.40 189.14 L348.90 189.70 L350.40 190.26 L351.90 190.81 L353.40 191.37 L354.90 191.93 L356.40 192.49 L357.90 193.04 L359.40 193.60 L360.90 194.15 L362.40 194.70 L363.90 195.26 L365.40 195.81 L366.90 196.36 L368.40 196.91 L369.90 197.46 L371.40 198.01 L372.90 198.55 L374.40 199.10 L375.90 199.65 L377.40 200.19 L378.90 200.74 L380.40 201.28 L381.90 201.82 L383.40 202.36 L384.90 202.91 L386.40 203.45 L387.90 203.98 L388.70 204.27" stroke="#0000ff" stroke-width="1.00" fill="none"/>
</g>
<g clip-path="url(#clip2)" stroke-linejoin="round">
<path d="M502.90 98.34 L504.40 99.24 L505.90 100.14 L507.40 101.02 L508.90 101.90 L510.40 102.76 L511.90 103.63 L513.40 104.48 L514.90 105.33 L516.40 106.16 L517.90 106.99 L519.40 107.80 L520.90 108.60 L522.40 109.38 L523.90 110.16 L525.40 110.93 L526.90 111.69 L528.40 112.45 L529.90 113.20 L531.40 113.96 L532.90 114.71 L534.40 115.46 L535.90 116.22 L537.40 116.98 L538.90 117.75 L540.40 118.52 L541.90 119.28 L543.40 120.04 L544.90 120.79 L546.40 121.55 L547.90 122.31 L549.40 123.07 L550.90 123.84 L552.40 124.62 L553.90 125.41 L555.40 126.21 L556.90 127.02 L558.40 127.86 L559.90 128.71 L561.40 129.59 L562.90 130.48 L564.40 131.40 L565.90 132.32 L567.40 133.25 L568.90 134.19 L570.40 135.13 L571.90 136.07 L573.40 137.00 L574.90 137.92 L576.40 138.83 L577.90 139.72 L579.40 140.58 L580.90 141.43 L582.40 142.25 L583.90 143.06 L585.40 143.87 L586.90 144.68 L588.40 145.50 L589.90 146.33 L591.40 147.18 L592.90 148.05 L594.40 148.95 L595.90 149.89 L597.40 150.87 L598.90 151.98 L600.40 153.18 L601.90 154.40 L603.40 155.54 L604.90 156.54 L606.40 157.39 L607.90 158.16 L609.40 158.87 L610.90 159.53 L612.40 160.17 L613.90 160.79 L615.40 161.38 L616.90 161.92 L618.40 162.37 L619.90 162.76 L621.40 163.12 L622.90 163.44 L624.40 163.74 L625.90 164.03 L627.40 164.30 L628.90 164.56 L630.40 164.82 L631.90 165.08 L633.40 165.35 L634.90 165.62 L636.40 165.88 L637.90 166.14 L639.40 166.39 L640.90 166.63 L642.40 166.84 L643.90 167.03 L645.40 167.19 L646.90 167.32 L648.40 167.44 L649.90 167.54 L651.40 167.63 L652.90 167.72 L654.40 167.80 L655.90 167.89 L657.40 167.99 L658.90 168.09 L660.40 168.21 L661.90 168.33 L663.40 168.45 L664.90 168.58 L666.40 168.71 L667.90 168.85 L669.40 168.98 L670.90 169.12 L672.40 169.26 L673.90 169.40 L675.40 169.54 L676.90 169.68 L678.40 169.82 L679.90 169.96 L681.40 170.10 L682.90 170.23 L684.40 170.36 L685.90 170.49 L687.40 170.61 L688.90 170.73 L690.40 170.83 L691.90 170.94 L693.40 171.03 L694.90 171.13 L696.40 171.22 L697.90 171.31 L699.40 171.41 L700.90 171.51 L702.40 171.61 L703.90 171.71 L705.40 171.83 L706.90 171.95 L708.40 172.08 L709.90 172.22 L711.40 172.37 L712.90 172.54 L714.40 172.72 L715.90 172.94 L717.40 173.24 L718.90 173.60 L720.40 174.00 L721.90 174.40 L723.40 174.77 L724.90 175.14 L726.40 175.51 L727.90 175.89 L729.40 176.26 L730.90 176.64 L732.40 177.02 L733.90 177.41 L735.40 177.80 L736.90 178.18 L738.40 178.57 L739.90 178.97 L741.40 179.36 L742.90 179.76 L744.40 180.16 L745.90 180.56 L747.40 180.96 L748.90 181.36 L750.40 181.77 L751.90 182.17 L753.40 182.58 L754.90 182.99 L756.40 183.40 L757.90 183.81 L759.40 184.22 L760.90 184.63 L762.40 185.05 L763.90 185.46 L765.40 185.88 L766.90 186.30 L768.40 186.72 L769.90 187.14 L771.40 187.57 L772.90 187.99 L774.40 188.42 L775.90 188.85 L777.40 189.27 L778.90 189.71 L780.40 190.14 L781.90 190.57 L783.40 191.01 L784.90 191.45 L786.40 191.89 L787.90 192.33 L789.40 192.77 L790.90 193.21 L792.40 193.66 L793.90 194.10 L795.40 194.55 L796.90 195.00 L798.40 195.45 L799.90 195.91 L801.40 196.36 L802.90 196.82 L803.70 197.06" stroke="#ff0000" stroke-width="1.00" fill="none" stroke-dasharray="1.1 2.2"/>
<path d="M502.90 98.49 L504.40 99.39 L505.90 100.28 L507.40 101.17 L508.90 102.05 L510.40 102.91 L511.90 103.78 L513.40 104.63 L514.90 105.48 L516.40 106.31 L517.90 107.14 L519.40 107.95 L520.90 108.75 L522.40 109.53 L523.90 110.30 L525.40 111.07 L526.90 111.83 L528.40 112.58 L529.90 113.33 L531.40 114.08 L532.90 114.83 L534.40 115.59 L535.90 116.35 L537.40 117.12 L538.90 117.90 L540.40 118.69 L541.90 119.48 L543.40 120.27 L544.90 121.06 L546.40 121.86 L547.90 122.66 L549.40 123.47 L550.90 124.28 L552.40 125.10 L553.90 125.93 L555.40 126.76 L556.90 127.60 L558.40 128.46 L559.90 129.33 L561.40 130.21 L562.90 131.12 L564.40 132.03 L565.90 132.96 L567.40 133.89 L568.90 134.82 L570.40 135.75 L571.90 136.68 L573.40 137.61 L574.90 138.52 L576.40 139.43 L577.90 140.32 L579.40 141.19 L580.90 142.03 L582.40 142.87 L583.90 143.69 L585.40 144.51 L586.90 145.33 L588.40 146.16 L589.90 146.99 L591.40 147.84 L592.90 148.70 L594.40 149.59 L595.90 150.51 L597.40 151.46 L598.90 152.51 L600.40 153.63 L601.90 154.76 L603.40 155.83 L604.90 156.79 L606.40 157.64 L607.90 158.43 L609.40 159.17 L610.90 159.88 L612.40 160.57 L613.90 161.24 L615.40 161.89 L616.90 162.50 L618.40 163.04 L619.90 163.53 L621.40 164.00 L622.90 164.44 L624.40 164.87 L625.90 165.28 L627.40 165.67 L628.90 166.05 L630.40 166.42 L631.90 166.78 L633.40 167.13 L634.90 167.49 L636.40 167.84 L637.90 168.19 L639.40 168.52 L640.90 168.83 L642.40 169.10 L643.90 169.34 L645.40 169.54 L646.90 169.69 L648.40 169.83 L649.90 169.94 L651.40 170.05 L652.90 170.17 L654.40 170.27 L655.90 170.39 L657.40 170.62 L658.90 171.03 L660.40 171.40 L661.90 171.61 L663.40 171.80 L664.90 171.94 L666.40 172.06 L667.90 172.17 L669.40 172.28 L670.90 172.39 L672.40 172.51 L673.90 172.63 L675.40 172.76 L676.90 172.99 L678.40 173.27 L679.90 173.47 L681.40 173.65 L682.90 173.82 L684.40 173.99 L685.90 174.16 L687.40 174.32 L688.90 174.48 L690.40 174.63 L691.90 174.78 L693.40 174.92 L694.90 175.05 L696.40 175.17 L697.90 175.29 L699.40 175.40 L700.90 175.51 L702.40 175.61 L703.90 175.72 L705.40 175.83 L706.90 175.95 L708.40 176.07 L709.90 176.19 L711.40 176.33 L712.90 176.48 L714.40 176.63 L715.90 176.82 L717.40 177.06 L718.90 177.35 L720.40 177.67 L721.90 177.99 L723.40 178.29 L724.90 178.60 L726.40 178.91 L727.90 179.22 L729.40 179.54 L730.90 179.87 L732.40 180.19 L733.90 180.52 L735.40 180.85 L736.90 181.18 L738.40 181.51 L739.90 181.84 L741.40 182.16 L742.90 182.48 L744.40 182.80 L745.90 183.12 L747.40 183.44 L748.90 183.76 L750.40 184.08 L751.90 184.40 L753.40 184.72 L754.90 185.05 L756.40 185.37 L757.90 185.70 L759.40 186.03 L760.90 186.37 L762.40 186.70 L763.90 187.05 L765.40 187.39 L766.90 187.74 L768.40 188.10 L769.90 188.46 L771.40 188.82 L772.90 189.19 L774.40 189.56 L775.90 189.93 L777.40 190.30 L778.90 190.68 L780.40 191.06 L781.90 191.44 L783.40 191.82 L784.90 192.20 L786.40 192.59 L787.90 192.98 L789.40 193.38 L790.90 193.78 L792.40 194.18 L793.90 194.58 L795.40 194.99 L796.90 195.39 L798.40 195.81 L799.90 196.22 L801.40 196.64 L802.90 197.06 L803.70 197.28" stroke="#ff0000" stroke-width="1.00" fill="none" stroke-dasharray="4.8 4.55"/>
<path d="M503.00 103.50 L508.00 105.20 L513.00 104.55 L514.50 105.40 L516.00 106.24 L517.50 107.07 L519.00 107.88 L520.50 108.69 L522.00 109.47 L523.50 110.25 L525.00 111.01 L526.50 111.76 L528.00 112.51 L529.50 113.26 L531.00 114.00 L532.50 114.75 L534.00 115.51 L535.50 116.27 L537.00 117.05 L538.50 117.84 L540.00 118.64 L541.50 119.46 L543.00 120.28 L544.50 121.11 L546.00 121.94 L547.50 122.79 L549.00 123.63 L550.50 124.49 L552.00 125.35 L553.50 126.21 L555.00 127.08 L556.50 127.95 L558.00 128.82 L559.50 129.71 L561.00 130.60 L562.50 131.51 L564.00 132.42 L565.50 133.34 L567.00 134.27 L568.50 135.20 L570.00 136.13 L571.50 137.05 L573.00 137.97 L574.50 138.89 L576.00 139.79 L577.50 140.68 L579.00 141.56 L580.50 142.42 L582.00 143.26 L583.50 144.10 L585.00 144.93 L586.50 145.76 L588.00 146.59 L589.50 147.43 L591.00 148.27 L592.50 149.13 L594.00 150.00 L595.50 150.89 L597.00 151.80 L598.50 152.77 L600.00 153.79 L601.50 154.84 L603.00 155.85 L604.50 156.81 L606.00 157.67 L607.50 158.49 L609.00 159.27 L610.50 160.04 L612.00 160.78 L613.50 161.51 L615.00 162.22 L616.50 162.90 L618.00 163.55 L619.50 164.15 L621.00 164.73 L622.50 165.30 L624.00 165.85 L625.50 166.39 L627.00 166.91 L628.50 167.41 L630.00 167.89 L631.50 168.35 L633.00 168.80 L634.50 169.24 L636.00 169.69 L637.50 170.12 L639.00 170.54 L640.50 170.93 L642.00 171.28 L643.50 171.58 L645.00 171.83 L646.50 172.02 L648.00 172.18 L649.50 172.31 L651.00 172.44 L652.50 172.58 L654.00 172.70 L655.50 172.85 L657.00 173.10 L658.50 173.77 L660.00 174.46 L661.50 174.82 L663.00 175.09 L664.50 175.27 L666.00 175.38 L667.50 175.48 L669.00 175.56 L670.50 175.64 L672.00 175.73 L673.50 175.83 L675.00 175.94 L676.50 176.18 L678.00 176.61 L679.50 176.92 L681.00 177.14 L682.50 177.35 L684.00 177.56 L685.50 177.77 L687.00 177.98 L688.50 178.18 L690.00 178.38 L691.50 178.57 L693.00 178.75 L694.50 178.93 L696.00 179.08 L697.50 179.23 L699.00 179.36 L700.50 179.48 L702.00 179.59 L703.50 179.70 L705.00 179.81 L706.50 179.92 L708.00 180.03 L709.50 180.14 L711.00 180.26 L712.50 180.38 L714.00 180.51 L715.50 180.65 L717.00 180.83 L718.50 181.04 L720.00 181.27 L721.50 181.51 L723.00 181.75 L724.50 181.99 L726.00 182.23 L727.50 182.49 L729.00 182.75 L730.50 183.02 L732.00 183.29 L733.50 183.56 L735.00 183.83 L736.50 184.11 L738.00 184.37 L739.50 184.64 L741.00 184.89 L742.50 185.14 L744.00 185.39 L745.50 185.63 L747.00 185.86 L748.50 186.10 L750.00 186.34 L751.50 186.57 L753.00 186.81 L754.50 187.04 L756.00 187.28 L757.50 187.53 L759.00 187.77 L760.50 188.03 L762.00 188.29 L763.50 188.55 L765.00 188.83 L766.50 189.11 L768.00 189.40 L769.50 189.70 L771.00 190.00 L772.50 190.31 L774.00 190.62 L775.50 190.93 L777.00 191.25 L778.50 191.57 L780.00 191.89 L781.50 192.21 L783.00 192.54 L784.50 192.87 L786.00 193.21 L787.50 193.55 L789.00 193.90 L790.50 194.25 L792.00 194.60 L793.50 194.96 L795.00 195.32 L796.50 195.69 L798.00 196.06 L799.50 196.43 L801.00 196.81 L802.50 197.19 L803.70 197.50" stroke="#ff0000" stroke-width="1.00" fill="none" stroke-dasharray="5 2.3 1 2.3"/>
<path d="M511.70 118.70 L520.40 112.30 L529.00 113.60 L537.00 117.30 L544.50 121.37 L546.00 122.24 L547.50 123.13 L549.00 124.02 L550.50 124.91 L552.00 125.82 L553.50 126.72 L555.00 127.62 L556.50 128.52 L558.00 129.42 L559.50 130.32 L561.00 131.23 L562.50 132.14 L564.00 133.06 L565.50 133.98 L567.00 134.90 L568.50 135.83 L570.00 136.75 L571.50 137.67 L573.00 138.58 L574.50 139.49 L576.00 140.39 L577.50 141.28 L579.00 142.16 L580.50 143.03 L582.00 143.88 L583.50 144.73 L585.00 145.57 L586.50 146.41 L588.00 147.25 L589.50 148.09 L591.00 148.93 L592.50 149.78 L594.00 150.64 L595.50 151.52 L597.00 152.40 L598.50 153.32 L600.00 154.26 L601.50 155.22 L603.00 156.16 L604.50 157.06 L606.00 157.92 L607.50 158.75 L609.00 159.57 L610.50 160.37 L612.00 161.16 L613.50 161.95 L615.00 162.72 L616.50 163.47 L618.00 164.19 L619.50 164.89 L621.00 165.58 L622.50 166.27 L624.00 166.95 L625.50 167.61 L627.00 168.25 L628.50 168.87 L630.00 169.46 L631.50 170.02 L633.00 170.56 L634.50 171.09 L636.00 171.63 L637.50 172.15 L639.00 172.64 L640.50 173.10 L642.00 173.52 L643.50 173.88 L645.00 174.17 L646.50 174.39 L648.00 174.56 L649.50 174.71 L651.00 174.86 L652.50 175.02 L654.00 175.16 L655.50 175.33 L657.00 175.68 L658.50 176.62 L660.00 177.60 L661.50 178.09 L663.00 178.43 L664.50 178.64 L666.00 178.73 L667.50 178.81 L669.00 178.87 L670.50 178.92 L672.00 178.98 L673.50 179.06 L675.00 179.16 L676.50 179.45 L678.00 180.02 L679.50 180.42 L681.00 180.68 L682.50 180.92 L684.00 181.17 L685.50 181.42 L687.00 181.68 L688.50 181.93 L690.00 182.17 L691.50 182.40 L693.00 182.63 L694.50 182.84 L696.00 183.03 L697.50 183.20 L699.00 183.35 L700.50 183.48 L702.00 183.60 L703.50 183.71 L705.00 183.82 L706.50 183.92 L708.00 184.02 L709.50 184.12 L711.00 184.22 L712.50 184.32 L714.00 184.43 L715.50 184.54 L717.00 184.67 L718.50 184.81 L720.00 184.96 L721.50 185.12 L723.00 185.28 L724.50 185.46 L726.00 185.64 L727.50 185.84 L729.00 186.05 L730.50 186.26 L732.00 186.47 L733.50 186.69 L735.00 186.91 L736.50 187.12 L738.00 187.32 L739.50 187.52 L741.00 187.71 L742.50 187.89 L744.00 188.05 L745.50 188.22 L747.00 188.37 L748.50 188.52 L750.00 188.67 L751.50 188.82 L753.00 188.97 L754.50 189.13 L756.00 189.28 L757.50 189.44 L759.00 189.61 L760.50 189.78 L762.00 189.96 L763.50 190.16 L765.00 190.36 L766.50 190.58 L768.00 190.80 L769.50 191.03 L771.00 191.28 L772.50 191.52 L774.00 191.78 L775.50 192.03 L777.00 192.29 L778.50 192.56 L780.00 192.83 L781.50 193.09 L783.00 193.37 L784.50 193.64 L786.00 193.93 L787.50 194.22 L789.00 194.52 L790.50 194.82 L792.00 195.13 L793.50 195.45 L795.00 195.77 L796.50 196.09 L798.00 196.42 L799.50 196.76 L801.00 197.10 L802.50 197.44 L803.70 197.72" stroke="#ff0000" stroke-width="1.00" fill="none" stroke-dasharray="7.2 2.4 1 2.5 1 2.5 1 2.15"/>
<path d="M529.10 129.20 L537.50 124.30 L546.60 125.40 L551.70 127.40 L557.00 129.40 L558.50 130.32 L560.00 131.24 L561.50 132.16 L563.00 133.08 L564.50 134.00 L566.00 134.92 L567.50 135.84 L569.00 136.76 L570.50 137.68 L572.00 138.59 L573.50 139.50 L575.00 140.40 L576.50 141.29 L578.00 142.18 L579.50 143.05 L581.00 143.92 L582.50 144.78 L584.00 145.64 L585.50 146.49 L587.00 147.34 L588.50 148.19 L590.00 149.03 L591.50 149.88 L593.00 150.73 L594.50 151.57 L596.00 152.43 L597.50 153.29 L599.00 154.15 L600.50 155.02 L602.00 155.88 L603.50 156.75 L605.00 157.60 L606.50 158.45 L608.00 159.30 L609.50 160.15 L611.00 160.99 L612.50 161.83 L614.00 162.66 L615.50 163.49 L617.00 164.30 L618.50 165.10 L620.00 165.90 L621.50 166.70 L623.00 167.51 L624.50 168.30 L626.00 169.08 L627.50 169.84 L629.00 170.57 L630.50 171.26 L632.00 171.90 L633.50 172.52 L635.00 173.15 L636.50 173.77 L638.00 174.37 L639.50 174.93 L641.00 175.45 L642.50 175.91 L644.00 176.30 L645.50 176.60 L647.00 176.83 L648.50 177.01 L650.00 177.17 L651.50 177.34 L653.00 177.52 L654.50 177.68 L656.00 177.91 L657.50 178.59 L659.00 179.95 L660.50 181.00 L662.00 181.51 L663.50 181.87 L665.00 182.03 L666.50 182.11 L668.00 182.16 L669.50 182.19 L671.00 182.21 L672.50 182.25 L674.00 182.32 L675.50 182.42 L677.00 182.94 L678.50 183.64 L680.00 184.03 L681.50 184.31 L683.00 184.59 L684.50 184.88 L686.00 185.18 L687.50 185.47 L689.00 185.77 L690.50 186.05 L692.00 186.33 L693.50 186.59 L695.00 186.83 L696.50 187.04 L698.00 187.23 L699.50 187.39 L701.00 187.52 L702.50 187.65 L704.00 187.76 L705.50 187.86 L707.00 187.95 L708.50 188.04 L710.00 188.12 L711.50 188.21 L713.00 188.29 L714.50 188.37 L716.00 188.45 L717.50 188.53 L719.00 188.60 L720.50 188.67 L722.00 188.76 L723.50 188.85 L725.00 188.97 L726.50 189.10 L728.00 189.24 L729.50 189.39 L731.00 189.55 L732.50 189.71 L734.00 189.87 L735.50 190.03 L737.00 190.18 L738.50 190.32 L740.00 190.45 L741.50 190.57 L743.00 190.66 L744.50 190.75 L746.00 190.83 L747.50 190.90 L749.00 190.97 L750.50 191.03 L752.00 191.10 L753.50 191.16 L755.00 191.23 L756.50 191.30 L758.00 191.38 L759.50 191.47 L761.00 191.56 L762.50 191.67 L764.00 191.80 L765.50 191.94 L767.00 192.09 L768.50 192.25 L770.00 192.43 L771.50 192.61 L773.00 192.80 L774.50 193.00 L776.00 193.20 L777.50 193.41 L779.00 193.62 L780.50 193.83 L782.00 194.04 L783.50 194.26 L785.00 194.49 L786.50 194.73 L788.00 194.97 L789.50 195.23 L791.00 195.49 L792.50 195.75 L794.00 196.02 L795.50 196.30 L797.00 196.59 L798.50 196.88 L800.00 197.18 L801.50 197.49 L803.00 197.80 L803.70 197.94" stroke="#ff0000" stroke-width="1.00" fill="none"/>
<path d="M502.90 84.42 L504.40 85.62 L505.90 86.80 L507.40 87.93 L508.90 89.04 L510.40 90.10 L511.90 91.14 L513.40 92.13 L514.90 93.09 L516.40 94.02 L517.90 94.93 L519.40 95.80 L520.90 96.65 L522.40 97.48 L523.90 98.29 L525.40 99.08 L526.90 99.86 L528.40 100.63 L529.90 101.40 L531.40 102.15 L532.90 102.91 L534.40 103.66 L535.90 104.42 L537.40 105.18 L538.90 105.95 L540.40 106.73 L541.90 107.50 L543.40 108.28 L544.90 109.05 L546.40 109.83 L547.90 110.60 L549.40 111.38 L550.90 112.15 L552.40 112.91 L553.90 113.68 L555.40 114.44 L556.90 115.20 L558.40 115.95 L559.90 116.70 L561.40 117.44 L562.90 118.18 L564.40 118.91 L565.90 119.64 L567.40 120.37 L568.90 121.09 L570.40 121.82 L571.90 122.55 L573.40 123.28 L574.90 124.01 L576.40 124.75 L577.90 125.50 L579.40 126.25 L580.90 127.01 L582.40 127.77 L583.90 128.54 L585.40 129.31 L586.90 130.08 L588.40 130.84 L589.90 131.61 L591.40 132.38 L592.90 133.14 L594.40 133.90 L595.90 134.65 L597.40 135.40 L598.90 136.12 L600.40 136.84 L601.90 137.56 L603.40 138.29 L604.90 139.05 L606.40 139.85 L607.90 140.68 L609.40 141.54 L610.90 142.41 L612.40 143.29 L613.90 144.17 L615.40 145.03 L616.90 145.86 L618.40 146.65 L619.90 147.40 L621.40 148.13 L622.90 148.84 L624.40 149.53 L625.90 150.21 L627.40 150.90 L628.90 151.58 L630.40 152.21 L631.90 152.77 L633.40 153.26 L634.90 153.72 L636.40 154.15 L637.90 154.56 L639.40 154.95 L640.90 155.32 L642.40 155.68 L643.90 156.03 L645.40 156.38 L646.90 156.71 L648.40 157.03 L649.90 157.34 L651.40 157.63 L652.90 157.92 L654.40 158.21 L655.90 158.50 L657.40 158.79 L658.90 159.08 L660.40 159.38 L661.90 159.69 L663.40 160.00 L664.90 160.31 L666.40 160.62 L667.90 160.92 L669.40 161.22 L670.90 161.50 L672.40 161.77 L673.90 162.02 L675.40 162.26 L676.90 162.48 L678.40 162.71 L679.90 162.92 L681.40 163.14 L682.90 163.35 L684.40 163.57 L685.90 163.79 L687.40 164.00 L688.90 164.22 L690.40 164.43 L691.90 164.64 L693.40 164.85 L694.90 165.07 L696.40 165.29 L697.90 165.52 L699.40 165.77 L700.90 166.02 L702.40 166.28 L703.90 166.55 L705.40 166.82 L706.90 167.11 L708.40 167.40 L709.90 167.70 L711.40 168.01 L712.90 168.33 L714.40 168.67 L715.90 169.01 L717.40 169.38 L718.90 169.76 L720.40 170.17 L721.90 170.58 L723.40 170.99 L724.90 171.42 L726.40 171.85 L727.90 172.28 L729.40 172.72 L730.90 173.17 L732.40 173.62 L733.90 174.08 L735.40 174.54 L736.90 175.00 L738.40 175.47 L739.90 175.94 L741.40 176.41 L742.90 176.89 L744.40 177.36 L745.90 177.84 L747.40 178.32 L748.90 178.80 L750.40 179.28 L751.90 179.76 L753.40 180.24 L754.90 180.72 L756.40 181.19 L757.90 181.67 L759.40 182.14 L760.90 182.61 L762.40 183.08 L763.90 183.55 L765.40 184.02 L766.90 184.49 L768.40 184.95 L769.90 185.42 L771.40 185.89 L772.90 186.36 L774.40 186.83 L775.90 187.30 L777.40 187.77 L778.90 188.24 L780.40 188.71 L781.90 189.18 L783.40 189.66 L784.90 190.13 L786.40 190.60 L787.90 191.07 L789.40 191.54 L790.90 192.02 L792.40 192.49 L793.90 192.96 L795.40 193.44 L796.90 193.91 L798.40 194.39 L799.90 194.86 L801.40 195.33 L802.90 195.81 L803.70 196.06" stroke="#000000" stroke-width="1.00" fill="none" stroke-dasharray="1.1 2.2"/>
<path d="M502.90 85.93 L504.40 87.01 L505.90 88.07 L507.40 89.10 L508.90 90.10 L510.40 91.06 L511.90 92.00 L513.40 92.89 L514.90 93.75 L516.40 94.59 L517.90 95.41 L519.40 96.22 L520.90 97.04 L522.40 97.86 L523.90 98.67 L525.40 99.46 L526.90 100.25 L528.40 101.02 L529.90 101.79 L531.40 102.55 L532.90 103.31 L534.40 104.07 L535.90 104.84 L537.40 105.60 L538.90 106.38 L540.40 107.15 L541.90 107.93 L543.40 108.70 L544.90 109.48 L546.40 110.26 L547.90 111.03 L549.40 111.80 L550.90 112.57 L552.40 113.34 L553.90 114.10 L555.40 114.86 L556.90 115.62 L558.40 116.38 L559.90 117.12 L561.40 117.86 L562.90 118.60 L564.40 119.33 L565.90 120.06 L567.40 120.79 L568.90 121.52 L570.40 122.24 L571.90 122.97 L573.40 123.70 L574.90 124.44 L576.40 125.18 L577.90 125.92 L579.40 126.68 L580.90 127.43 L582.40 128.20 L583.90 128.96 L585.40 129.73 L586.90 130.50 L588.40 131.27 L589.90 132.04 L591.40 132.80 L592.90 133.57 L594.40 134.32 L595.90 135.08 L597.40 135.82 L598.90 136.55 L600.40 137.27 L601.90 137.99 L603.40 138.72 L604.90 139.47 L606.40 140.26 L607.90 141.07 L609.40 141.91 L610.90 142.75 L612.40 143.60 L613.90 144.45 L615.40 145.28 L616.90 146.09 L618.40 146.87 L619.90 147.63 L621.40 148.36 L622.90 149.08 L624.40 149.79 L625.90 150.49 L627.40 151.19 L628.90 151.88 L630.40 152.54 L631.90 153.14 L633.40 153.68 L634.90 154.20 L636.40 154.70 L637.90 155.17 L639.40 155.63 L640.90 156.08 L642.40 156.51 L643.90 156.94 L645.40 157.37 L646.90 157.79 L648.40 158.21 L649.90 158.61 L651.40 159.01 L652.90 159.41 L654.40 159.79 L655.90 160.18 L657.40 160.55 L658.90 160.93 L660.40 161.30 L661.90 161.67 L663.40 162.04 L664.90 162.41 L666.40 162.77 L667.90 163.12 L669.40 163.46 L670.90 163.79 L672.40 164.11 L673.90 164.41 L675.40 164.69 L676.90 164.97 L678.40 165.23 L679.90 165.49 L681.40 165.75 L682.90 166.01 L684.40 166.27 L685.90 166.53 L687.40 166.80 L688.90 167.07 L690.40 167.34 L691.90 167.61 L693.40 167.88 L694.90 168.15 L696.40 168.42 L697.90 168.69 L699.40 168.96 L700.90 169.24 L702.40 169.51 L703.90 169.79 L705.40 170.06 L706.90 170.35 L708.40 170.63 L709.90 170.93 L711.40 171.23 L712.90 171.54 L714.40 171.87 L715.90 172.21 L717.40 172.57 L718.90 172.95 L720.40 173.34 L721.90 173.74 L723.40 174.13 L724.90 174.53 L726.40 174.94 L727.90 175.35 L729.40 175.76 L730.90 176.18 L732.40 176.60 L733.90 177.02 L735.40 177.44 L736.90 177.86 L738.40 178.28 L739.90 178.69 L741.40 179.11 L742.90 179.52 L744.40 179.93 L745.90 180.34 L747.40 180.74 L748.90 181.14 L750.40 181.54 L751.90 181.94 L753.40 182.34 L754.90 182.74 L756.40 183.14 L757.90 183.54 L759.40 183.94 L760.90 184.34 L762.40 184.74 L763.90 185.15 L765.40 185.56 L766.90 185.98 L768.40 186.40 L769.90 186.81 L771.40 187.24 L772.90 187.66 L774.40 188.08 L775.90 188.51 L777.40 188.93 L778.90 189.36 L780.40 189.78 L781.90 190.21 L783.40 190.63 L784.90 191.05 L786.40 191.48 L787.90 191.91 L789.40 192.33 L790.90 192.76 L792.40 193.19 L793.90 193.62 L795.40 194.05 L796.90 194.48 L798.40 194.91 L799.90 195.34 L801.40 195.77 L802.90 196.20 L803.70 196.43" stroke="#000000" stroke-width="1.00" fill="none" stroke-dasharray="4.8 4.55"/>
<path d="M502.90 87.43 L504.40 88.41 L505.90 89.35 L507.40 90.27 L508.90 91.16 L510.40 92.02 L511.90 92.86 L513.40 93.65 L514.90 94.41 L516.40 95.16 L517.90 95.90 L519.40 96.65 L520.90 97.44 L522.40 98.24 L523.90 99.05 L525.40 99.85 L526.90 100.63 L528.40 101.40 L529.90 102.18 L531.40 102.95 L532.90 103.72 L534.40 104.49 L535.90 105.26 L537.40 106.03 L538.90 106.80 L540.40 107.58 L541.90 108.35 L543.40 109.13 L544.90 109.91 L546.40 110.68 L547.90 111.45 L549.40 112.23 L550.90 113.00 L552.40 113.76 L553.90 114.53 L555.40 115.29 L556.90 116.05 L558.40 116.80 L559.90 117.55 L561.40 118.29 L562.90 119.03 L564.40 119.76 L565.90 120.49 L567.40 121.22 L568.90 121.94 L570.40 122.67 L571.90 123.40 L573.40 124.13 L574.90 124.86 L576.40 125.60 L577.90 126.35 L579.40 127.10 L580.90 127.86 L582.40 128.62 L583.90 129.39 L585.40 130.16 L586.90 130.93 L588.40 131.69 L589.90 132.46 L591.40 133.23 L592.90 133.99 L594.40 134.75 L595.90 135.50 L597.40 136.25 L598.90 136.98 L600.40 137.70 L601.90 138.42 L603.40 139.15 L604.90 139.90 L606.40 140.67 L607.90 141.46 L609.40 142.27 L610.90 143.09 L612.40 143.91 L613.90 144.72 L615.40 145.53 L616.90 146.33 L618.40 147.10 L619.90 147.85 L621.40 148.59 L622.90 149.33 L624.40 150.05 L625.90 150.77 L627.40 151.48 L628.90 152.19 L630.40 152.87 L631.90 153.51 L633.40 154.11 L634.90 154.68 L636.40 155.24 L637.90 155.78 L639.40 156.31 L640.90 156.83 L642.40 157.35 L643.90 157.86 L645.40 158.37 L646.90 158.88 L648.40 159.39 L649.90 159.89 L651.40 160.39 L652.90 160.89 L654.40 161.38 L655.90 161.85 L657.40 162.32 L658.90 162.77 L660.40 163.21 L661.90 163.65 L663.40 164.08 L664.90 164.50 L666.40 164.91 L667.90 165.32 L669.40 165.71 L670.90 166.09 L672.40 166.45 L673.90 166.80 L675.40 167.13 L676.90 167.45 L678.40 167.76 L679.90 168.06 L681.40 168.36 L682.90 168.66 L684.40 168.97 L685.90 169.28 L687.40 169.60 L688.90 169.92 L690.40 170.25 L691.90 170.57 L693.40 170.90 L694.90 171.22 L696.40 171.54 L697.90 171.86 L699.40 172.16 L700.90 172.45 L702.40 172.74 L703.90 173.02 L705.40 173.30 L706.90 173.58 L708.40 173.87 L709.90 174.15 L711.40 174.45 L712.90 174.75 L714.40 175.07 L715.90 175.40 L717.40 175.76 L718.90 176.14 L720.40 176.52 L721.90 176.90 L723.40 177.27 L724.90 177.65 L726.40 178.03 L727.90 178.42 L729.40 178.80 L730.90 179.19 L732.40 179.57 L733.90 179.96 L735.40 180.34 L736.90 180.72 L738.40 181.09 L739.90 181.45 L741.40 181.81 L742.90 182.16 L744.40 182.50 L745.90 182.83 L747.40 183.16 L748.90 183.48 L750.40 183.80 L751.90 184.12 L753.40 184.44 L754.90 184.76 L756.40 185.08 L757.90 185.40 L759.40 185.73 L760.90 186.06 L762.40 186.41 L763.90 186.75 L765.40 187.11 L766.90 187.47 L768.40 187.84 L769.90 188.21 L771.40 188.58 L772.90 188.96 L774.40 189.34 L775.90 189.71 L777.40 190.09 L778.90 190.47 L780.40 190.85 L781.90 191.23 L783.40 191.60 L784.90 191.98 L786.40 192.36 L787.90 192.74 L789.40 193.12 L790.90 193.50 L792.40 193.89 L793.90 194.27 L795.40 194.65 L796.90 195.04 L798.40 195.43 L799.90 195.82 L801.40 196.20 L802.90 196.59 L803.70 196.80" stroke="#000000" stroke-width="1.00" fill="none" stroke-dasharray="5 2.3 1 2.3"/>
<path d="M502.90 88.94 L504.40 89.80 L505.90 90.63 L507.40 91.44 L508.90 92.22 L510.40 92.98 L511.90 93.72 L513.40 94.42 L514.90 95.08 L516.40 95.72 L517.90 96.38 L519.40 97.08 L520.90 97.83 L522.40 98.63 L523.90 99.44 L525.40 100.23 L526.90 101.01 L528.40 101.79 L529.90 102.57 L531.40 103.34 L532.90 104.12 L534.40 104.90 L535.90 105.67 L537.40 106.45 L538.90 107.23 L540.40 108.00 L541.90 108.78 L543.40 109.56 L544.90 110.33 L546.40 111.11 L547.90 111.88 L549.40 112.65 L550.90 113.42 L552.40 114.19 L553.90 114.95 L555.40 115.71 L556.90 116.47 L558.40 117.23 L559.90 117.97 L561.40 118.71 L562.90 119.45 L564.40 120.18 L565.90 120.91 L567.40 121.64 L568.90 122.37 L570.40 123.09 L571.90 123.82 L573.40 124.55 L574.90 125.29 L576.40 126.03 L577.90 126.77 L579.40 127.53 L580.90 128.28 L582.40 129.05 L583.90 129.81 L585.40 130.58 L586.90 131.35 L588.40 132.12 L589.90 132.89 L591.40 133.65 L592.90 134.42 L594.40 135.17 L595.90 135.93 L597.40 136.67 L598.90 137.41 L600.40 138.13 L601.90 138.85 L603.40 139.58 L604.90 140.32 L606.40 141.08 L607.90 141.85 L609.40 142.64 L610.90 143.42 L612.40 144.21 L613.90 145.00 L615.40 145.79 L616.90 146.56 L618.40 147.32 L619.90 148.08 L621.40 148.83 L622.90 149.57 L624.40 150.31 L625.90 151.04 L627.40 151.78 L628.90 152.50 L630.40 153.20 L631.90 153.88 L633.40 154.53 L634.90 155.17 L636.40 155.79 L637.90 156.39 L639.40 156.99 L640.90 157.59 L642.40 158.18 L643.90 158.77 L645.40 159.36 L646.90 159.96 L648.40 160.56 L649.90 161.17 L651.40 161.77 L652.90 162.37 L654.40 162.96 L655.90 163.53 L657.40 164.09 L658.90 164.62 L660.40 165.13 L661.90 165.63 L663.40 166.12 L664.90 166.60 L666.40 167.06 L667.90 167.52 L669.40 167.96 L670.90 168.38 L672.40 168.80 L673.90 169.19 L675.40 169.57 L676.90 169.93 L678.40 170.29 L679.90 170.63 L681.40 170.98 L682.90 171.32 L684.40 171.67 L685.90 172.03 L687.40 172.39 L688.90 172.77 L690.40 173.16 L691.90 173.54 L693.40 173.93 L694.90 174.30 L696.40 174.67 L697.90 175.02 L699.40 175.36 L700.90 175.67 L702.40 175.97 L703.90 176.26 L705.40 176.54 L706.90 176.82 L708.40 177.10 L709.90 177.38 L711.40 177.66 L712.90 177.96 L714.40 178.27 L715.90 178.60 L717.40 178.95 L718.90 179.32 L720.40 179.69 L721.90 180.06 L723.40 180.41 L724.90 180.77 L726.40 181.13 L727.90 181.48 L729.40 181.84 L730.90 182.20 L732.40 182.55 L733.90 182.90 L735.40 183.24 L736.90 183.57 L738.40 183.90 L739.90 184.21 L741.40 184.51 L742.90 184.79 L744.40 185.07 L745.90 185.33 L747.40 185.58 L748.90 185.82 L750.40 186.06 L751.90 186.30 L753.40 186.54 L754.90 186.78 L756.40 187.02 L757.90 187.27 L759.40 187.52 L760.90 187.79 L762.40 188.07 L763.90 188.36 L765.40 188.66 L766.90 188.96 L768.40 189.28 L769.90 189.60 L771.40 189.92 L772.90 190.25 L774.40 190.59 L775.90 190.92 L777.40 191.25 L778.90 191.59 L780.40 191.92 L781.90 192.25 L783.40 192.58 L784.90 192.91 L786.40 193.24 L787.90 193.57 L789.40 193.91 L790.90 194.25 L792.40 194.58 L793.90 194.92 L795.40 195.26 L796.90 195.60 L798.40 195.95 L799.90 196.29 L801.40 196.64 L802.90 196.99 L803.70 197.17" stroke="#000000" stroke-width="1.00" fill="none" stroke-dasharray="7.2 2.4 1 2.5 1 2.5 1 2.15"/>
<path d="M511.70 99.30 L520.40 99.20 L525.00 100.30 L526.50 101.18 L528.00 101.96 L529.50 102.75 L531.00 103.53 L532.50 104.32 L534.00 105.10 L535.50 105.89 L537.00 106.67 L538.50 107.44 L540.00 108.22 L541.50 109.00 L543.00 109.77 L544.50 110.55 L546.00 111.33 L547.50 112.10 L549.00 112.87 L550.50 113.64 L552.00 114.41 L553.50 115.17 L555.00 115.94 L556.50 116.70 L558.00 117.45 L559.50 118.20 L561.00 118.94 L562.50 119.68 L564.00 120.41 L565.50 121.14 L567.00 121.87 L568.50 122.60 L570.00 123.33 L571.50 124.05 L573.00 124.78 L574.50 125.52 L576.00 126.26 L577.50 127.00 L579.00 127.75 L580.50 128.51 L582.00 129.27 L583.50 130.03 L585.00 130.80 L586.50 131.57 L588.00 132.34 L589.50 133.11 L591.00 133.87 L592.50 134.64 L594.00 135.40 L595.50 136.15 L597.00 136.90 L598.50 137.64 L600.00 138.37 L601.50 139.09 L603.00 139.82 L604.50 140.55 L606.00 141.30 L607.50 142.05 L609.00 142.80 L610.50 143.56 L612.00 144.32 L613.50 145.08 L615.00 145.84 L616.50 146.60 L618.00 147.35 L619.50 148.10 L621.00 148.86 L622.50 149.61 L624.00 150.37 L625.50 151.12 L627.00 151.87 L628.50 152.61 L630.00 153.34 L631.50 154.06 L633.00 154.77 L634.50 155.46 L636.00 156.15 L637.50 156.83 L639.00 157.50 L640.50 158.17 L642.00 158.83 L643.50 159.50 L645.00 160.17 L646.50 160.86 L648.00 161.55 L649.50 162.26 L651.00 162.97 L652.50 163.67 L654.00 164.36 L655.50 165.03 L657.00 165.68 L658.50 166.30 L660.00 166.89 L661.50 167.46 L663.00 168.01 L664.50 168.55 L666.00 169.07 L667.50 169.58 L669.00 170.07 L670.50 170.55 L672.00 171.02 L673.50 171.47 L675.00 171.90 L676.50 172.31 L678.00 172.71 L679.50 173.10 L681.00 173.49 L682.50 173.87 L684.00 174.26 L685.50 174.66 L687.00 175.08 L688.50 175.51 L690.00 175.95 L691.50 176.39 L693.00 176.83 L694.50 177.27 L696.00 177.69 L697.50 178.09 L699.00 178.46 L700.50 178.80 L702.00 179.12 L703.50 179.42 L705.00 179.71 L706.50 179.99 L708.00 180.26 L709.50 180.53 L711.00 180.80 L712.50 181.09 L714.00 181.39 L715.50 181.71 L717.00 182.05 L718.50 182.41 L720.00 182.77 L721.50 183.13 L723.00 183.47 L724.50 183.80 L726.00 184.13 L727.50 184.46 L729.00 184.80 L730.50 185.12 L732.00 185.44 L733.50 185.76 L735.00 186.06 L736.50 186.36 L738.00 186.64 L739.50 186.90 L741.00 187.15 L742.50 187.37 L744.00 187.58 L745.50 187.77 L747.00 187.95 L748.50 188.12 L750.00 188.28 L751.50 188.44 L753.00 188.60 L754.50 188.75 L756.00 188.92 L757.50 189.09 L759.00 189.27 L760.50 189.46 L762.00 189.67 L763.50 189.90 L765.00 190.14 L766.50 190.39 L768.00 190.65 L769.50 190.92 L771.00 191.19 L772.50 191.48 L774.00 191.76 L775.50 192.05 L777.00 192.34 L778.50 192.63 L780.00 192.91 L781.50 193.19 L783.00 193.48 L784.50 193.76 L786.00 194.04 L787.50 194.33 L789.00 194.62 L790.50 194.91 L792.00 195.20 L793.50 195.50 L795.00 195.79 L796.50 196.09 L798.00 196.39 L799.50 196.69 L801.00 196.99 L802.50 197.30 L803.70 197.54" stroke="#000000" stroke-width="1.00" fill="none"/>
<path d="M502.90 70.09 L504.40 70.29 L505.90 70.54 L507.40 70.85 L508.90 71.21 L510.40 71.61 L511.90 72.04 L513.40 72.51 L514.90 73.01 L516.40 73.54 L517.90 74.09 L519.40 74.66 L520.90 75.31 L522.40 76.07 L523.90 76.91 L525.40 77.83 L526.90 78.80 L528.40 79.83 L529.90 80.88 L531.40 81.95 L532.90 83.03 L534.40 84.09 L535.90 85.12 L537.40 86.12 L538.90 87.06 L540.40 87.98 L541.90 88.92 L543.40 89.86 L544.90 90.80 L546.40 91.73 L547.90 92.66 L549.40 93.58 L550.90 94.48 L552.40 95.36 L553.90 96.21 L555.40 97.02 L556.90 97.81 L558.40 98.55 L559.90 99.25 L561.40 99.92 L562.90 100.56 L564.40 101.18 L565.90 101.78 L567.40 102.37 L568.90 102.95 L570.40 103.52 L571.90 104.10 L573.40 104.68 L574.90 105.26 L576.40 105.86 L577.90 106.48 L579.40 107.12 L580.90 107.75 L582.40 108.39 L583.90 109.04 L585.40 109.69 L586.90 110.34 L588.40 110.99 L589.90 111.64 L591.40 112.29 L592.90 112.94 L594.40 113.59 L595.90 114.23 L597.40 114.87 L598.90 115.51 L600.40 116.14 L601.90 116.77 L603.40 117.40 L604.90 118.04 L606.40 118.66 L607.90 119.29 L609.40 119.92 L610.90 120.55 L612.40 121.18 L613.90 121.81 L615.40 122.44 L616.90 123.07 L618.40 123.70 L619.90 124.32 L621.40 124.94 L622.90 125.56 L624.40 126.19 L625.90 126.81 L627.40 127.43 L628.90 128.06 L630.40 128.69 L631.90 129.33 L633.40 129.97 L634.90 130.62 L636.40 131.28 L637.90 131.96 L639.40 132.67 L640.90 133.38 L642.40 134.07 L643.90 134.74 L645.40 135.36 L646.90 135.96 L648.40 136.55 L649.90 137.12 L651.40 137.68 L652.90 138.24 L654.40 138.78 L655.90 139.32 L657.40 139.84 L658.90 140.37 L660.40 140.88 L661.90 141.39 L663.40 141.89 L664.90 142.39 L666.40 142.89 L667.90 143.39 L669.40 143.88 L670.90 144.37 L672.40 144.87 L673.90 145.36 L675.40 145.86 L676.90 146.35 L678.40 146.86 L679.90 147.36 L681.40 147.87 L682.90 148.39 L684.40 148.91 L685.90 149.43 L687.40 149.95 L688.90 150.47 L690.40 150.99 L691.90 151.51 L693.40 152.03 L694.90 152.55 L696.40 153.06 L697.90 153.58 L699.40 154.10 L700.90 154.62 L702.40 155.14 L703.90 155.66 L705.40 156.18 L706.90 156.70 L708.40 157.22 L709.90 157.75 L711.40 158.27 L712.90 158.80 L714.40 159.33 L715.90 159.86 L717.40 160.40 L718.90 160.93 L720.40 161.47 L721.90 162.01 L723.40 162.55 L724.90 163.10 L726.40 163.65 L727.90 164.21 L729.40 164.76 L730.90 165.32 L732.40 165.89 L733.90 166.45 L735.40 167.02 L736.90 167.58 L738.40 168.15 L739.90 168.72 L741.40 169.30 L742.90 169.87 L744.40 170.44 L745.90 171.01 L747.40 171.58 L748.90 172.16 L750.40 172.73 L751.90 173.30 L753.40 173.86 L754.90 174.43 L756.40 175.00 L757.90 175.56 L759.40 176.12 L760.90 176.68 L762.40 177.23 L763.90 177.79 L765.40 178.34 L766.90 178.90 L768.40 179.45 L769.90 180.00 L771.40 180.55 L772.90 181.10 L774.40 181.65 L775.90 182.20 L777.40 182.75 L778.90 183.30 L780.40 183.85 L781.90 184.40 L783.40 184.94 L784.90 185.49 L786.40 186.03 L787.90 186.58 L789.40 187.12 L790.90 187.66 L792.40 188.21 L793.90 188.75 L795.40 189.29 L796.90 189.83 L798.40 190.37 L799.90 190.91 L801.40 191.45 L802.90 191.99 L803.70 192.27" stroke="#0000ff" stroke-width="1.00" fill="none" stroke-dasharray="1.1 2.2"/>
<path d="M502.90 76.11 L504.40 76.06 L505.90 76.06 L507.40 76.11 L508.90 76.23 L510.40 76.41 L511.90 76.64 L513.40 76.91 L514.90 77.21 L516.40 77.53 L517.90 77.88 L519.40 78.26 L520.90 78.72 L522.40 79.27 L523.90 79.92 L525.40 80.65 L526.90 81.43 L528.40 82.26 L529.90 83.13 L531.40 84.01 L532.90 84.90 L534.40 85.80 L535.90 86.71 L537.40 87.59 L538.90 88.45 L540.40 89.30 L541.90 90.15 L543.40 91.01 L544.90 91.87 L546.40 92.75 L547.90 93.62 L549.40 94.48 L550.90 95.34 L552.40 96.17 L553.90 96.99 L555.40 97.78 L556.90 98.54 L558.40 99.26 L559.90 99.95 L561.40 100.60 L562.90 101.24 L564.40 101.85 L565.90 102.45 L567.40 103.04 L568.90 103.62 L570.40 104.20 L571.90 104.78 L573.40 105.36 L574.90 105.95 L576.40 106.55 L577.90 107.17 L579.40 107.80 L580.90 108.44 L582.40 109.08 L583.90 109.73 L585.40 110.38 L586.90 111.03 L588.40 111.68 L589.90 112.33 L591.40 112.98 L592.90 113.63 L594.40 114.28 L595.90 114.92 L597.40 115.56 L598.90 116.20 L600.40 116.83 L601.90 117.46 L603.40 118.09 L604.90 118.73 L606.40 119.35 L607.90 119.98 L609.40 120.61 L610.90 121.24 L612.40 121.87 L613.90 122.50 L615.40 123.13 L616.90 123.76 L618.40 124.39 L619.90 125.01 L621.40 125.63 L622.90 126.25 L624.40 126.88 L625.90 127.50 L627.40 128.12 L628.90 128.75 L630.40 129.38 L631.90 130.02 L633.40 130.66 L634.90 131.31 L636.40 131.97 L637.90 132.65 L639.40 133.36 L640.90 134.07 L642.40 134.76 L643.90 135.43 L645.40 136.05 L646.90 136.65 L648.40 137.24 L649.90 137.81 L651.40 138.37 L652.90 138.93 L654.40 139.47 L655.90 140.01 L657.40 140.53 L658.90 141.06 L660.40 141.57 L661.90 142.08 L663.40 142.58 L664.90 143.08 L666.40 143.58 L667.90 144.08 L669.40 144.57 L670.90 145.06 L672.40 145.56 L673.90 146.05 L675.40 146.55 L676.90 147.04 L678.40 147.55 L679.90 148.05 L681.40 148.56 L682.90 149.08 L684.40 149.60 L685.90 150.12 L687.40 150.64 L688.90 151.16 L690.40 151.68 L691.90 152.20 L693.40 152.72 L694.90 153.24 L696.40 153.75 L697.90 154.27 L699.40 154.79 L700.90 155.31 L702.40 155.83 L703.90 156.35 L705.40 156.87 L706.90 157.39 L708.40 157.91 L709.90 158.44 L711.40 158.96 L712.90 159.49 L714.40 160.02 L715.90 160.55 L717.40 161.09 L718.90 161.62 L720.40 162.16 L721.90 162.70 L723.40 163.24 L724.90 163.79 L726.40 164.34 L727.90 164.90 L729.40 165.45 L730.90 166.01 L732.40 166.58 L733.90 167.14 L735.40 167.71 L736.90 168.27 L738.40 168.84 L739.90 169.41 L741.40 169.99 L742.90 170.56 L744.40 171.13 L745.90 171.70 L747.40 172.27 L748.90 172.85 L750.40 173.42 L751.90 173.99 L753.40 174.55 L754.90 175.12 L756.40 175.69 L757.90 176.25 L759.40 176.81 L760.90 177.37 L762.40 177.92 L763.90 178.48 L765.40 179.03 L766.90 179.59 L768.40 180.14 L769.90 180.69 L771.40 181.24 L772.90 181.79 L774.40 182.34 L775.90 182.89 L777.40 183.44 L778.90 183.99 L780.40 184.54 L781.90 185.09 L783.40 185.63 L784.90 186.18 L786.40 186.72 L787.90 187.27 L789.40 187.81 L790.90 188.35 L792.40 188.90 L793.90 189.44 L795.40 189.98 L796.90 190.52 L798.40 191.06 L799.90 191.60 L801.40 192.14 L802.90 192.68 L803.70 192.96" stroke="#0000ff" stroke-width="1.00" fill="none" stroke-dasharray="4.8 4.55"/>
<path d="M502.90 81.34 L504.40 81.07 L505.90 80.85 L507.40 80.69 L508.90 80.59 L510.40 80.58 L511.90 80.65 L513.40 80.74 L514.90 80.85 L516.40 81.00 L517.90 81.18 L519.40 81.39 L520.90 81.68 L522.40 82.07 L523.90 82.54 L525.40 83.10 L526.90 83.72 L528.40 84.38 L529.90 85.08 L531.40 85.80 L532.90 86.53 L534.40 87.29 L535.90 88.08 L537.40 88.88 L538.90 89.66 L540.40 90.44 L541.90 91.23 L543.40 92.01 L544.90 92.81 L546.40 93.62 L547.90 94.44 L549.40 95.26 L550.90 96.08 L552.40 96.89 L553.90 97.67 L555.40 98.44 L556.90 99.18 L558.40 99.88 L559.90 100.55 L561.40 101.20 L562.90 101.83 L564.40 102.44 L565.90 103.04 L567.40 103.63 L568.90 104.21 L570.40 104.79 L571.90 105.37 L573.40 105.96 L574.90 106.55 L576.40 107.15 L577.90 107.77 L579.40 108.40 L580.90 109.04 L582.40 109.68 L583.90 110.33 L585.40 110.97 L586.90 111.63 L588.40 112.28 L589.90 112.93 L591.40 113.58 L592.90 114.23 L594.40 114.88 L595.90 115.52 L597.40 116.16 L598.90 116.80 L600.40 117.43 L601.90 118.06 L603.40 118.69 L604.90 119.33 L606.40 119.95 L607.90 120.58 L609.40 121.21 L610.90 121.84 L612.40 122.47 L613.90 123.10 L615.40 123.73 L616.90 124.36 L618.40 124.99 L619.90 125.61 L621.40 126.23 L622.90 126.85 L624.40 127.48 L625.90 128.10 L627.40 128.72 L628.90 129.35 L630.40 129.98 L631.90 130.62 L633.40 131.26 L634.90 131.91 L636.40 132.57 L637.90 133.25 L639.40 133.96 L640.90 134.67 L642.40 135.36 L643.90 136.03 L645.40 136.65 L646.90 137.25 L648.40 137.84 L649.90 138.41 L651.40 138.97 L652.90 139.53 L654.40 140.07 L655.90 140.61 L657.40 141.13 L658.90 141.66 L660.40 142.17 L661.90 142.68 L663.40 143.18 L664.90 143.68 L666.40 144.18 L667.90 144.68 L669.40 145.17 L670.90 145.66 L672.40 146.16 L673.90 146.65 L675.40 147.15 L676.90 147.64 L678.40 148.15 L679.90 148.65 L681.40 149.16 L682.90 149.68 L684.40 150.20 L685.90 150.72 L687.40 151.24 L688.90 151.76 L690.40 152.28 L691.90 152.80 L693.40 153.32 L694.90 153.84 L696.40 154.35 L697.90 154.87 L699.40 155.39 L700.90 155.91 L702.40 156.43 L703.90 156.95 L705.40 157.47 L706.90 157.99 L708.40 158.51 L709.90 159.04 L711.40 159.56 L712.90 160.09 L714.40 160.62 L715.90 161.15 L717.40 161.69 L718.90 162.22 L720.40 162.76 L721.90 163.30 L723.40 163.84 L724.90 164.39 L726.40 164.94 L727.90 165.50 L729.40 166.05 L730.90 166.61 L732.40 167.18 L733.90 167.74 L735.40 168.31 L736.90 168.87 L738.40 169.44 L739.90 170.01 L741.40 170.59 L742.90 171.16 L744.40 171.73 L745.90 172.30 L747.40 172.87 L748.90 173.45 L750.40 174.02 L751.90 174.59 L753.40 175.15 L754.90 175.72 L756.40 176.29 L757.90 176.85 L759.40 177.41 L760.90 177.97 L762.40 178.52 L763.90 179.08 L765.40 179.63 L766.90 180.19 L768.40 180.74 L769.90 181.29 L771.40 181.84 L772.90 182.39 L774.40 182.94 L775.90 183.49 L777.40 184.04 L778.90 184.59 L780.40 185.14 L781.90 185.69 L783.40 186.23 L784.90 186.78 L786.40 187.32 L787.90 187.87 L789.40 188.41 L790.90 188.95 L792.40 189.50 L793.90 190.04 L795.40 190.58 L796.90 191.12 L798.40 191.66 L799.90 192.20 L801.40 192.74 L802.90 193.28 L803.70 193.56" stroke="#0000ff" stroke-width="1.00" fill="none" stroke-dasharray="5 2.3 1 2.3"/>
<path d="M502.90 88.15 L504.40 87.59 L505.90 87.08 L507.40 86.63 L508.90 86.27 L510.40 86.01 L511.90 85.85 L513.40 85.71 L514.90 85.59 L516.40 85.51 L517.90 85.46 L519.40 85.46 L520.90 85.53 L522.40 85.69 L523.90 85.95 L525.40 86.28 L526.90 86.68 L528.40 87.14 L529.90 87.62 L531.40 88.13 L532.90 88.65 L534.40 89.23 L535.90 89.87 L537.40 90.55 L538.90 91.23 L540.40 91.93 L541.90 92.62 L543.40 93.32 L544.90 94.03 L546.40 94.77 L547.90 95.52 L549.40 96.28 L550.90 97.05 L552.40 97.81 L553.90 98.56 L555.40 99.29 L556.90 100.00 L558.40 100.68 L559.90 101.34 L561.40 101.97 L562.90 102.59 L564.40 103.20 L565.90 103.79 L567.40 104.38 L568.90 104.97 L570.40 105.55 L571.90 106.14 L573.40 106.73 L574.90 107.33 L576.40 107.93 L577.90 108.55 L579.40 109.18 L580.90 109.82 L582.40 110.46 L583.90 111.10 L585.40 111.75 L586.90 112.40 L588.40 113.06 L589.90 113.71 L591.40 114.36 L592.90 115.01 L594.40 115.66 L595.90 116.30 L597.40 116.94 L598.90 117.58 L600.40 118.21 L601.90 118.84 L603.40 119.47 L604.90 120.11 L606.40 120.73 L607.90 121.36 L609.40 121.99 L610.90 122.62 L612.40 123.25 L613.90 123.88 L615.40 124.51 L616.90 125.14 L618.40 125.77 L619.90 126.39 L621.40 127.01 L622.90 127.63 L624.40 128.26 L625.90 128.88 L627.40 129.50 L628.90 130.13 L630.40 130.76 L631.90 131.40 L633.40 132.04 L634.90 132.69 L636.40 133.35 L637.90 134.03 L639.40 134.74 L640.90 135.45 L642.40 136.14 L643.90 136.81 L645.40 137.43 L646.90 138.03 L648.40 138.62 L649.90 139.19 L651.40 139.75 L652.90 140.31 L654.40 140.85 L655.90 141.39 L657.40 141.91 L658.90 142.44 L660.40 142.95 L661.90 143.46 L663.40 143.96 L664.90 144.46 L666.40 144.96 L667.90 145.46 L669.40 145.95 L670.90 146.44 L672.40 146.94 L673.90 147.43 L675.40 147.93 L676.90 148.42 L678.40 148.93 L679.90 149.43 L681.40 149.94 L682.90 150.46 L684.40 150.98 L685.90 151.50 L687.40 152.02 L688.90 152.54 L690.40 153.06 L691.90 153.58 L693.40 154.10 L694.90 154.62 L696.40 155.13 L697.90 155.65 L699.40 156.17 L700.90 156.69 L702.40 157.21 L703.90 157.73 L705.40 158.25 L706.90 158.77 L708.40 159.29 L709.90 159.82 L711.40 160.34 L712.90 160.87 L714.40 161.40 L715.90 161.93 L717.40 162.47 L718.90 163.00 L720.40 163.54 L721.90 164.08 L723.40 164.62 L724.90 165.17 L726.40 165.72 L727.90 166.28 L729.40 166.83 L730.90 167.39 L732.40 167.96 L733.90 168.52 L735.40 169.09 L736.90 169.65 L738.40 170.22 L739.90 170.79 L741.40 171.37 L742.90 171.94 L744.40 172.51 L745.90 173.08 L747.40 173.65 L748.90 174.23 L750.40 174.80 L751.90 175.37 L753.40 175.93 L754.90 176.50 L756.40 177.07 L757.90 177.63 L759.40 178.19 L760.90 178.75 L762.40 179.30 L763.90 179.86 L765.40 180.41 L766.90 180.97 L768.40 181.52 L769.90 182.07 L771.40 182.62 L772.90 183.17 L774.40 183.72 L775.90 184.27 L777.40 184.82 L778.90 185.37 L780.40 185.92 L781.90 186.47 L783.40 187.01 L784.90 187.56 L786.40 188.10 L787.90 188.65 L789.40 189.19 L790.90 189.73 L792.40 190.28 L793.90 190.82 L795.40 191.36 L796.90 191.90 L798.40 192.44 L799.90 192.98 L801.40 193.52 L802.90 194.06 L803.70 194.34" stroke="#0000ff" stroke-width="1.00" fill="none" stroke-dasharray="7.2 2.4 1 2.5 1 2.5 1 2.15"/>
<path d="M502.90 96.26 L504.40 95.36 L505.90 94.51 L507.40 93.72 L508.90 93.04 L510.40 92.48 L511.90 92.05 L513.40 91.64 L514.90 91.25 L516.40 90.89 L517.90 90.57 L519.40 90.31 L520.90 90.12 L522.40 90.02 L523.90 90.01 L525.40 90.08 L526.90 90.22 L528.40 90.42 L529.90 90.65 L531.40 90.90 L532.90 91.17 L534.40 91.55 L535.90 92.01 L537.40 92.53 L538.90 93.10 L540.40 93.70 L541.90 94.29 L543.40 94.87 L544.90 95.48 L546.40 96.13 L547.90 96.80 L549.40 97.50 L550.90 98.20 L552.40 98.91 L553.90 99.62 L555.40 100.31 L556.90 100.99 L558.40 101.64 L559.90 102.27 L561.40 102.89 L562.90 103.50 L564.40 104.10 L565.90 104.70 L567.40 105.29 L568.90 105.88 L570.40 106.47 L571.90 107.06 L573.40 107.65 L574.90 108.25 L576.40 108.86 L577.90 109.48 L579.40 110.11 L580.90 110.75 L582.40 111.39 L583.90 112.03 L585.40 112.68 L586.90 113.33 L588.40 113.98 L589.90 114.64 L591.40 115.29 L592.90 115.94 L594.40 116.59 L595.90 117.23 L597.40 117.87 L598.90 118.51 L600.40 119.14 L601.90 119.77 L603.40 120.40 L604.90 121.04 L606.40 121.66 L607.90 122.29 L609.40 122.92 L610.90 123.55 L612.40 124.18 L613.90 124.81 L615.40 125.44 L616.90 126.07 L618.40 126.70 L619.90 127.32 L621.40 127.94 L622.90 128.56 L624.40 129.19 L625.90 129.81 L627.40 130.43 L628.90 131.06 L630.40 131.69 L631.90 132.33 L633.40 132.97 L634.90 133.62 L636.40 134.28 L637.90 134.96 L639.40 135.67 L640.90 136.38 L642.40 137.07 L643.90 137.74 L645.40 138.36 L646.90 138.96 L648.40 139.55 L649.90 140.12 L651.40 140.68 L652.90 141.24 L654.40 141.78 L655.90 142.32 L657.40 142.84 L658.90 143.37 L660.40 143.88 L661.90 144.39 L663.40 144.89 L664.90 145.39 L666.40 145.89 L667.90 146.39 L669.40 146.88 L670.90 147.37 L672.40 147.87 L673.90 148.36 L675.40 148.86 L676.90 149.35 L678.40 149.86 L679.90 150.36 L681.40 150.87 L682.90 151.39 L684.40 151.91 L685.90 152.43 L687.40 152.95 L688.90 153.47 L690.40 153.99 L691.90 154.51 L693.40 155.03 L694.90 155.55 L696.40 156.06 L697.90 156.58 L699.40 157.10 L700.90 157.62 L702.40 158.14 L703.90 158.66 L705.40 159.18 L706.90 159.70 L708.40 160.22 L709.90 160.75 L711.40 161.27 L712.90 161.80 L714.40 162.33 L715.90 162.86 L717.40 163.40 L718.90 163.93 L720.40 164.47 L721.90 165.01 L723.40 165.55 L724.90 166.10 L726.40 166.65 L727.90 167.21 L729.40 167.76 L730.90 168.32 L732.40 168.89 L733.90 169.45 L735.40 170.02 L736.90 170.58 L738.40 171.15 L739.90 171.72 L741.40 172.30 L742.90 172.87 L744.40 173.44 L745.90 174.01 L747.40 174.58 L748.90 175.16 L750.40 175.73 L751.90 176.30 L753.40 176.86 L754.90 177.43 L756.40 178.00 L757.90 178.56 L759.40 179.12 L760.90 179.68 L762.40 180.23 L763.90 180.79 L765.40 181.34 L766.90 181.90 L768.40 182.45 L769.90 183.00 L771.40 183.55 L772.90 184.10 L774.40 184.65 L775.90 185.20 L777.40 185.75 L778.90 186.30 L780.40 186.85 L781.90 187.40 L783.40 187.94 L784.90 188.49 L786.40 189.03 L787.90 189.58 L789.40 190.12 L790.90 190.66 L792.40 191.21 L793.90 191.75 L795.40 192.29 L796.90 192.83 L798.40 193.37 L799.90 193.91 L801.40 194.45 L802.90 194.99 L803.70 195.27" stroke="#0000ff" stroke-width="1.00" fill="none"/>
</g>
<g clip-path="url(#clip3)" stroke-linejoin="round">
<path d="M87.90 381.01 L89.40 382.39 L90.90 383.75 L92.40 385.10 L93.90 386.43 L95.40 387.74 L96.90 389.04 L98.40 390.33 L99.90 391.60 L101.40 392.86 L102.90 394.09 L104.40 395.30 L105.90 396.48 L107.40 397.63 L108.90 398.77 L110.40 399.89 L111.90 401.01 L113.40 402.11 L114.90 403.21 L116.40 404.30 L117.90 405.40 L119.40 406.51 L120.90 407.62 L122.40 408.74 L123.90 409.88 L125.40 411.02 L126.90 412.16 L128.40 413.29 L129.90 414.43 L131.40 415.58 L132.90 416.72 L134.40 417.88 L135.90 419.04 L137.40 420.22 L138.90 421.41 L140.40 422.62 L141.90 423.84 L143.40 425.08 L144.90 426.35 L146.40 427.63 L147.90 428.93 L149.40 430.25 L150.90 431.59 L152.40 432.93 L153.90 434.29 L155.40 435.66 L156.90 437.04 L158.40 438.43 L159.90 439.82 L161.40 441.22 L162.90 442.62 L164.40 444.02 L165.90 445.43 L167.40 446.83 L168.90 448.23 L170.40 449.65 L171.90 451.13 L173.40 452.63 L174.90 454.14 L176.40 455.61 L177.90 457.01 L179.40 458.31 L180.90 459.51 L182.40 460.67 L183.90 461.78 L185.40 462.83 L186.90 463.77 L188.40 464.60 L189.90 465.32 L191.40 465.99 L192.90 466.62 L194.40 467.22 L195.90 467.78 L197.40 468.32 L198.90 468.83 L200.40 469.31 L201.90 469.78 L203.40 470.23 L204.90 470.66 L206.40 471.08 L207.90 471.49 L209.40 471.89 L210.90 472.28 L212.40 472.65 L213.90 473.01 L215.40 473.35 L216.90 473.68 L218.40 474.01 L219.90 474.33 L221.40 474.64 L222.90 474.94 L224.40 475.24 L225.90 475.54 L227.40 475.84 L228.90 476.14 L230.40 476.43 L231.90 476.71 L233.40 476.99 L234.90 477.26 L236.40 477.53 L237.90 477.79 L239.40 478.06 L240.90 478.32 L242.40 478.58 L243.90 478.85 L245.40 479.11 L246.90 479.38 L248.40 479.66 L249.90 479.94 L251.40 480.22 L252.90 480.51 L254.40 480.80 L255.90 481.08 L257.40 481.36 L258.90 481.64 L260.40 481.91 L261.90 482.17 L263.40 482.43 L264.90 482.66 L266.40 482.89 L267.90 483.09 L269.40 483.28 L270.90 483.46 L272.40 483.62 L273.90 483.78 L275.40 483.94 L276.90 484.09 L278.40 484.25 L279.90 484.41 L281.40 484.59 L282.90 484.77 L284.40 484.97 L285.90 485.18 L287.40 485.42 L288.90 485.67 L290.40 485.94 L291.90 486.22 L293.40 486.51 L294.90 486.82 L296.40 487.14 L297.90 487.47 L299.40 487.81 L300.90 488.17 L302.40 488.53 L303.90 488.90 L305.40 489.28 L306.90 489.66 L308.40 490.05 L309.90 490.45 L311.40 490.85 L312.90 491.25 L314.40 491.67 L315.90 492.09 L317.40 492.53 L318.90 492.98 L320.40 493.45 L321.90 493.92 L323.40 494.42 L324.90 494.92 L326.40 495.43 L327.90 495.95 L329.40 496.48 L330.90 497.02 L332.40 497.56 L333.90 498.11 L335.40 498.67 L336.90 499.23 L338.40 499.80 L339.90 500.37 L341.40 500.94 L342.90 501.51 L344.40 502.08 L345.90 502.65 L347.40 503.22 L348.90 503.80 L350.40 504.37 L351.90 504.95 L353.40 505.54 L354.90 506.13 L356.40 506.73 L357.90 507.32 L359.40 507.93 L360.90 508.54 L362.40 509.15 L363.90 509.77 L365.40 510.39 L366.90 511.01 L368.40 511.64 L369.90 512.28 L371.40 512.92 L372.90 513.56 L374.40 514.21 L375.90 514.86 L377.40 515.51 L378.90 516.17 L380.40 516.84 L381.90 517.51 L383.40 518.18 L384.90 518.86 L386.40 519.54 L387.90 520.22 L388.70 520.59" stroke="#ff0000" stroke-width="1.00" fill="none" stroke-dasharray="1.1 2.2"/>
<path d="M87.90 381.16 L89.40 382.54 L90.90 383.90 L92.40 385.24 L93.90 386.57 L95.40 387.89 L96.90 389.19 L98.40 390.48 L99.90 391.75 L101.40 393.01 L102.90 394.24 L104.40 395.45 L105.90 396.63 L107.40 397.78 L108.90 398.92 L110.40 400.04 L111.90 401.14 L113.40 402.24 L114.90 403.33 L116.40 404.43 L117.90 405.52 L119.40 406.63 L120.90 407.74 L122.40 408.88 L123.90 410.03 L125.40 411.19 L126.90 412.36 L128.40 413.54 L129.90 414.73 L131.40 415.92 L132.90 417.12 L134.40 418.33 L135.90 419.54 L137.40 420.76 L138.90 421.99 L140.40 423.22 L141.90 424.46 L143.40 425.71 L144.90 426.96 L146.40 428.21 L147.90 429.47 L149.40 430.76 L150.90 432.08 L152.40 433.43 L153.90 434.79 L155.40 436.18 L156.90 437.57 L158.40 438.98 L159.90 440.40 L161.40 441.82 L162.90 443.24 L164.40 444.66 L165.90 446.07 L167.40 447.47 L168.90 448.86 L170.40 450.26 L171.90 451.69 L173.40 453.14 L174.90 454.58 L176.40 455.99 L177.90 457.35 L179.40 458.63 L180.90 459.83 L182.40 461.00 L183.90 462.13 L185.40 463.21 L186.90 464.21 L188.40 465.12 L189.90 465.95 L191.40 466.74 L192.90 467.51 L194.40 468.25 L195.90 468.96 L197.40 469.65 L198.90 470.31 L200.40 470.95 L201.90 471.57 L203.40 472.18 L204.90 472.76 L206.40 473.33 L207.90 473.88 L209.40 474.42 L210.90 474.96 L212.40 475.48 L213.90 476.00 L215.40 476.51 L216.90 477.00 L218.40 477.48 L219.90 477.94 L221.40 478.38 L222.90 478.79 L224.40 479.18 L225.90 479.54 L227.40 479.86 L228.90 480.16 L230.40 480.44 L231.90 480.69 L233.40 480.94 L234.90 481.18 L236.40 481.42 L237.90 481.67 L239.40 481.92 L240.90 482.19 L242.40 482.52 L243.90 482.95 L245.40 483.46 L246.90 483.98 L248.40 484.46 L249.90 484.86 L251.40 485.12 L252.90 485.33 L254.40 485.55 L255.90 485.76 L257.40 485.97 L258.90 486.18 L260.40 486.40 L261.90 486.68 L263.40 487.03 L264.90 487.40 L266.40 487.78 L267.90 488.14 L269.40 488.44 L270.90 488.67 L272.40 488.87 L273.90 489.05 L275.40 489.22 L276.90 489.39 L278.40 489.56 L279.90 489.72 L281.40 489.90 L282.90 490.08 L284.40 490.27 L285.90 490.49 L287.40 490.71 L288.90 490.95 L290.40 491.21 L291.90 491.47 L293.40 491.74 L294.90 492.02 L296.40 492.31 L297.90 492.61 L299.40 492.92 L300.90 493.23 L302.40 493.55 L303.90 493.88 L305.40 494.21 L306.90 494.55 L308.40 494.89 L309.90 495.23 L311.40 495.58 L312.90 495.94 L314.40 496.29 L315.90 496.66 L317.40 497.05 L318.90 497.44 L320.40 497.85 L321.90 498.27 L323.40 498.69 L324.90 499.12 L326.40 499.55 L327.90 499.98 L329.40 500.41 L330.90 500.84 L332.40 501.27 L333.90 501.70 L335.40 502.13 L336.90 502.57 L338.40 503.00 L339.90 503.44 L341.40 503.88 L342.90 504.32 L344.40 504.77 L345.90 505.21 L347.40 505.66 L348.90 506.12 L350.40 506.60 L351.90 507.08 L353.40 507.58 L354.90 508.09 L356.40 508.61 L357.90 509.14 L359.40 509.67 L360.90 510.21 L362.40 510.75 L363.90 511.29 L365.40 511.84 L366.90 512.39 L368.40 512.94 L369.90 513.50 L371.40 514.06 L372.90 514.63 L374.40 515.21 L375.90 515.79 L377.40 516.38 L378.90 516.97 L380.40 517.56 L381.90 518.17 L383.40 518.77 L384.90 519.39 L386.40 520.00 L387.90 520.62 L388.70 520.96" stroke="#ff0000" stroke-width="1.00" fill="none" stroke-dasharray="4.8 4.55"/>
<path d="M88.00 386.70 L93.00 389.50 L98.60 390.80 L100.10 392.07 L101.60 393.32 L103.10 394.55 L104.60 395.76 L106.10 396.94 L107.60 398.09 L109.10 399.22 L110.60 400.33 L112.10 401.43 L113.60 402.52 L115.10 403.61 L116.60 404.70 L118.10 405.79 L119.60 406.90 L121.10 408.02 L122.60 409.17 L124.10 410.34 L125.60 411.53 L127.10 412.73 L128.60 413.96 L130.10 415.19 L131.60 416.43 L133.10 417.69 L134.60 418.95 L136.10 420.21 L137.60 421.47 L139.10 422.74 L140.60 424.00 L142.10 425.25 L143.60 426.50 L145.10 427.73 L146.60 428.95 L148.10 430.18 L149.60 431.45 L151.10 432.76 L152.60 434.10 L154.10 435.48 L155.60 436.88 L157.10 438.30 L158.60 439.73 L160.10 441.17 L161.60 442.61 L163.10 444.05 L164.60 445.48 L166.10 446.90 L167.60 448.30 L169.10 449.68 L170.60 451.04 L172.10 452.43 L173.60 453.82 L175.10 455.20 L176.60 456.56 L178.10 457.87 L179.60 459.12 L181.10 460.31 L182.60 461.49 L184.10 462.63 L185.60 463.74 L187.10 464.79 L188.60 465.77 L190.10 466.71 L191.60 467.62 L193.10 468.52 L194.60 469.39 L196.10 470.25 L197.60 471.09 L199.10 471.90 L200.60 472.70 L202.10 473.47 L203.60 474.23 L205.10 474.96 L206.60 475.67 L208.10 476.36 L209.60 477.04 L211.10 477.72 L212.60 478.41 L214.10 479.09 L215.60 479.76 L217.10 480.41 L218.60 481.04 L220.10 481.63 L221.60 482.19 L223.10 482.70 L224.60 483.17 L226.10 483.58 L227.60 483.93 L229.10 484.22 L230.60 484.48 L232.10 484.71 L233.60 484.93 L235.10 485.13 L236.60 485.35 L238.10 485.57 L239.60 485.82 L241.10 486.10 L242.60 486.52 L244.10 487.15 L245.60 487.91 L247.10 488.67 L248.60 489.35 L250.10 489.82 L251.60 490.03 L253.10 490.17 L254.60 490.32 L256.10 490.46 L257.60 490.60 L259.10 490.74 L260.60 490.91 L262.10 491.24 L263.60 491.69 L265.10 492.22 L266.60 492.75 L268.10 493.24 L269.60 493.64 L271.10 493.91 L272.60 494.14 L274.10 494.34 L275.60 494.53 L277.10 494.71 L278.60 494.89 L280.10 495.06 L281.60 495.23 L283.10 495.41 L284.60 495.60 L286.10 495.81 L287.60 496.04 L289.10 496.27 L290.60 496.51 L292.10 496.75 L293.60 497.00 L295.10 497.26 L296.60 497.52 L298.10 497.79 L299.60 498.06 L301.10 498.34 L302.60 498.61 L304.10 498.90 L305.60 499.18 L307.10 499.47 L308.60 499.77 L310.10 500.06 L311.60 500.36 L313.10 500.66 L314.60 500.96 L316.10 501.28 L317.60 501.61 L319.10 501.95 L320.60 502.30 L322.10 502.65 L323.60 503.01 L325.10 503.36 L326.60 503.71 L328.10 504.05 L329.60 504.39 L331.10 504.71 L332.60 505.02 L334.10 505.33 L335.60 505.64 L337.10 505.94 L338.60 506.25 L340.10 506.56 L341.60 506.86 L343.10 507.18 L344.60 507.49 L346.10 507.82 L347.60 508.15 L349.10 508.50 L350.60 508.87 L352.10 509.27 L353.60 509.68 L355.10 510.12 L356.60 510.56 L358.10 511.02 L359.60 511.48 L361.10 511.95 L362.60 512.42 L364.10 512.88 L365.60 513.35 L367.10 513.82 L368.60 514.30 L370.10 514.79 L371.60 515.28 L373.10 515.78 L374.60 516.28 L376.10 516.79 L377.60 517.31 L379.10 517.83 L380.60 518.36 L382.10 518.90 L383.60 519.44 L385.10 519.99 L386.60 520.54 L388.10 521.10 L388.70 521.33" stroke="#ff0000" stroke-width="1.00" fill="none" stroke-dasharray="5 2.3 1 2.3"/>
<path d="M96.70 412.80 L105.40 402.70 L113.00 405.00 L121.00 408.08 L122.50 409.23 L124.00 410.41 L125.50 411.62 L127.00 412.86 L128.50 414.13 L130.00 415.41 L131.50 416.70 L133.00 418.01 L134.50 419.32 L136.00 420.63 L137.50 421.93 L139.00 423.23 L140.50 424.52 L142.00 425.79 L143.50 427.04 L145.00 428.25 L146.50 429.44 L148.00 430.64 L149.50 431.87 L151.00 433.17 L152.50 434.51 L154.00 435.89 L155.50 437.30 L157.00 438.74 L158.50 440.19 L160.00 441.65 L161.50 443.12 L163.00 444.58 L164.50 446.02 L166.00 447.45 L167.50 448.85 L169.00 450.22 L170.50 451.56 L172.00 452.89 L173.50 454.23 L175.00 455.55 L176.50 456.85 L178.00 458.12 L179.50 459.36 L181.00 460.56 L182.50 461.74 L184.00 462.91 L185.50 464.05 L187.00 465.16 L188.50 466.24 L190.00 467.29 L191.50 468.33 L193.00 469.36 L194.50 470.37 L196.00 471.38 L197.50 472.37 L199.00 473.34 L200.50 474.29 L202.00 475.23 L203.50 476.14 L205.00 477.02 L206.50 477.88 L208.00 478.71 L209.50 479.53 L211.00 480.37 L212.50 481.21 L214.00 482.05 L215.50 482.89 L217.00 483.70 L218.50 484.48 L220.00 485.22 L221.50 485.90 L223.00 486.53 L224.50 487.08 L226.00 487.55 L227.50 487.93 L229.00 488.23 L230.50 488.47 L232.00 488.68 L233.50 488.87 L235.00 489.04 L236.50 489.23 L238.00 489.43 L239.50 489.67 L241.00 489.96 L242.50 490.42 L244.00 491.23 L245.50 492.22 L247.00 493.23 L248.50 494.12 L250.00 494.72 L251.50 494.91 L253.00 494.98 L254.50 495.05 L256.00 495.13 L257.50 495.20 L259.00 495.27 L260.50 495.38 L262.00 495.73 L263.50 496.27 L265.00 496.93 L266.50 497.62 L268.00 498.27 L269.50 498.78 L271.00 499.11 L272.50 499.37 L274.00 499.60 L275.50 499.81 L277.00 500.00 L278.50 500.18 L280.00 500.36 L281.50 500.53 L283.00 500.71 L284.50 500.90 L286.00 501.10 L287.50 501.32 L289.00 501.54 L290.50 501.76 L292.00 501.98 L293.50 502.21 L295.00 502.44 L296.50 502.68 L298.00 502.91 L299.50 503.14 L301.00 503.38 L302.50 503.62 L304.00 503.86 L305.50 504.10 L307.00 504.34 L308.50 504.58 L310.00 504.82 L311.50 505.07 L313.00 505.32 L314.50 505.57 L316.00 505.83 L317.50 506.11 L319.00 506.39 L320.50 506.68 L322.00 506.97 L323.50 507.25 L325.00 507.53 L326.50 507.80 L328.00 508.05 L329.50 508.29 L331.00 508.50 L332.50 508.70 L334.00 508.89 L335.50 509.07 L337.00 509.25 L338.50 509.42 L340.00 509.60 L341.50 509.78 L343.00 509.96 L344.50 510.15 L346.00 510.35 L347.50 510.56 L349.00 510.80 L350.50 511.07 L352.00 511.37 L353.50 511.70 L355.00 512.05 L356.50 512.41 L358.00 512.80 L359.50 513.19 L361.00 513.58 L362.50 513.98 L364.00 514.37 L365.50 514.76 L367.00 515.16 L368.50 515.56 L370.00 515.97 L371.50 516.39 L373.00 516.81 L374.50 517.25 L376.00 517.69 L377.50 518.13 L379.00 518.59 L380.50 519.05 L382.00 519.52 L383.50 519.99 L385.00 520.47 L386.50 520.96 L388.00 521.46 L388.70 521.69" stroke="#ff0000" stroke-width="1.00" fill="none" stroke-dasharray="7.2 2.4 1 2.5 1 2.5 1 2.15"/>
<path d="M114.10 427.90 L122.90 420.10 L129.40 422.00 L135.30 424.60 L143.60 428.90 L150.00 432.80 L151.50 434.10 L153.00 435.46 L154.50 436.86 L156.00 438.30 L157.50 439.76 L159.00 441.24 L160.50 442.73 L162.00 444.21 L163.50 445.69 L165.00 447.14 L166.50 448.56 L168.00 449.95 L169.50 451.29 L171.00 452.59 L172.50 453.88 L174.00 455.15 L175.50 456.40 L177.00 457.64 L178.50 458.87 L180.00 460.08 L181.50 461.28 L183.00 462.47 L184.50 463.65 L186.00 464.83 L187.50 465.99 L189.00 467.15 L190.50 468.32 L192.00 469.48 L193.50 470.64 L195.00 471.80 L196.50 472.95 L198.00 474.08 L199.50 475.21 L201.00 476.31 L202.50 477.39 L204.00 478.45 L205.50 479.47 L207.00 480.47 L208.50 481.43 L210.00 482.39 L211.50 483.39 L213.00 484.39 L214.50 485.40 L216.00 486.38 L217.50 487.34 L219.00 488.26 L220.50 489.12 L222.00 489.90 L223.50 490.61 L225.00 491.21 L226.50 491.70 L228.00 492.06 L229.50 492.33 L231.00 492.55 L232.50 492.72 L234.00 492.87 L235.50 493.01 L237.00 493.18 L238.50 493.37 L240.00 493.63 L241.50 493.95 L243.00 494.65 L244.50 495.74 L246.00 497.01 L247.50 498.24 L249.00 499.23 L250.50 499.76 L252.00 499.80 L253.50 499.80 L255.00 499.80 L256.50 499.80 L258.00 499.80 L259.50 499.80 L261.00 499.95 L262.50 500.43 L264.00 501.14 L265.50 501.97 L267.00 502.81 L268.50 503.55 L270.00 504.10 L271.50 504.43 L273.00 504.70 L274.50 504.95 L276.00 505.17 L277.50 505.36 L279.00 505.55 L280.50 505.72 L282.00 505.90 L283.50 506.08 L285.00 506.27 L286.50 506.47 L288.00 506.68 L289.50 506.89 L291.00 507.09 L292.50 507.30 L294.00 507.51 L295.50 507.71 L297.00 507.91 L298.50 508.11 L300.00 508.31 L301.50 508.51 L303.00 508.70 L304.50 508.90 L306.00 509.09 L307.50 509.29 L309.00 509.48 L310.50 509.67 L312.00 509.87 L313.50 510.06 L315.00 510.26 L316.50 510.48 L318.00 510.70 L319.50 510.93 L321.00 511.16 L322.50 511.38 L324.00 511.59 L325.50 511.79 L327.00 511.97 L328.50 512.13 L330.00 512.25 L331.50 512.35 L333.00 512.43 L334.50 512.49 L336.00 512.54 L337.50 512.59 L339.00 512.64 L340.50 512.68 L342.00 512.73 L343.50 512.79 L345.00 512.85 L346.50 512.93 L348.00 513.03 L349.50 513.17 L351.00 513.35 L352.50 513.57 L354.00 513.82 L355.50 514.10 L357.00 514.40 L358.50 514.71 L360.00 515.04 L361.50 515.36 L363.00 515.69 L364.50 516.00 L366.00 516.31 L367.50 516.63 L369.00 516.96 L370.50 517.30 L372.00 517.65 L373.50 518.00 L375.00 518.37 L376.50 518.74 L378.00 519.12 L379.50 519.51 L381.00 519.90 L382.50 520.31 L384.00 520.72 L385.50 521.14 L387.00 521.57 L388.50 522.00 L388.70 522.06" stroke="#ff0000" stroke-width="1.00" fill="none"/>
<path d="M87.90 364.93 L89.40 365.96 L90.90 367.01 L92.40 368.06 L93.90 369.12 L95.40 370.19 L96.90 371.26 L98.40 372.35 L99.90 373.45 L101.40 374.56 L102.90 375.67 L104.40 376.80 L105.90 377.94 L107.40 379.10 L108.90 380.27 L110.40 381.46 L111.90 382.65 L113.40 383.86 L114.90 385.07 L116.40 386.28 L117.90 387.49 L119.40 388.70 L120.90 389.90 L122.40 391.09 L123.90 392.28 L125.40 393.46 L126.90 394.63 L128.40 395.79 L129.90 396.96 L131.40 398.12 L132.90 399.28 L134.40 400.45 L135.90 401.61 L137.40 402.78 L138.90 403.94 L140.40 405.12 L141.90 406.29 L143.40 407.48 L144.90 408.67 L146.40 409.88 L147.90 411.10 L149.40 412.32 L150.90 413.54 L152.40 414.77 L153.90 415.99 L155.40 417.21 L156.90 418.42 L158.40 419.63 L159.90 420.82 L161.40 421.99 L162.90 423.15 L164.40 424.30 L165.90 425.42 L167.40 426.54 L168.90 427.64 L170.40 428.74 L171.90 429.83 L173.40 430.92 L174.90 432.00 L176.40 433.09 L177.90 434.18 L179.40 435.28 L180.90 436.38 L182.40 437.50 L183.90 438.64 L185.40 439.79 L186.90 440.95 L188.40 442.11 L189.90 443.26 L191.40 444.40 L192.90 445.51 L194.40 446.58 L195.90 447.62 L197.40 448.66 L198.90 449.69 L200.40 450.71 L201.90 451.70 L203.40 452.66 L204.90 453.59 L206.40 454.47 L207.90 455.29 L209.40 456.06 L210.90 456.81 L212.40 457.54 L213.90 458.24 L215.40 458.92 L216.90 459.57 L218.40 460.21 L219.90 460.83 L221.40 461.44 L222.90 462.02 L224.40 462.59 L225.90 463.15 L227.40 463.69 L228.90 464.22 L230.40 464.73 L231.90 465.23 L233.40 465.70 L234.90 466.17 L236.40 466.63 L237.90 467.07 L239.40 467.51 L240.90 467.95 L242.40 468.38 L243.90 468.81 L245.40 469.24 L246.90 469.67 L248.40 470.11 L249.90 470.54 L251.40 470.97 L252.90 471.40 L254.40 471.82 L255.90 472.24 L257.40 472.66 L258.90 473.07 L260.40 473.48 L261.90 473.89 L263.40 474.29 L264.90 474.68 L266.40 475.07 L267.90 475.46 L269.40 475.83 L270.90 476.19 L272.40 476.55 L273.90 476.91 L275.40 477.26 L276.90 477.61 L278.40 477.96 L279.90 478.31 L281.40 478.67 L282.90 479.03 L284.40 479.40 L285.90 479.77 L287.40 480.15 L288.90 480.53 L290.40 480.91 L291.90 481.29 L293.40 481.67 L294.90 482.05 L296.40 482.44 L297.90 482.82 L299.40 483.21 L300.90 483.61 L302.40 484.01 L303.90 484.42 L305.40 484.83 L306.90 485.25 L308.40 485.68 L309.90 486.12 L311.40 486.56 L312.90 487.02 L314.40 487.49 L315.90 487.97 L317.40 488.46 L318.90 488.95 L320.40 489.46 L321.90 489.98 L323.40 490.51 L324.90 491.05 L326.40 491.59 L327.90 492.14 L329.40 492.70 L330.90 493.27 L332.40 493.85 L333.90 494.43 L335.40 495.02 L336.90 495.61 L338.40 496.21 L339.90 496.82 L341.40 497.43 L342.90 498.05 L344.40 498.67 L345.90 499.29 L347.40 499.92 L348.90 500.55 L350.40 501.19 L351.90 501.83 L353.40 502.48 L354.90 503.14 L356.40 503.81 L357.90 504.48 L359.40 505.16 L360.90 505.85 L362.40 506.54 L363.90 507.24 L365.40 507.94 L366.90 508.66 L368.40 509.37 L369.90 510.10 L371.40 510.83 L372.90 511.57 L374.40 512.31 L375.90 513.06 L377.40 513.82 L378.90 514.58 L380.40 515.35 L381.90 516.12 L383.40 516.90 L384.90 517.69 L386.40 518.48 L387.90 519.28 L388.70 519.71" stroke="#000000" stroke-width="1.00" fill="none" stroke-dasharray="1.1 2.2"/>
<path d="M87.90 366.43 L89.40 367.45 L90.90 368.47 L92.40 369.50 L93.90 370.53 L95.40 371.57 L96.90 372.60 L98.40 373.64 L99.90 374.68 L101.40 375.72 L102.90 376.78 L104.40 377.85 L105.90 378.95 L107.40 380.08 L108.90 381.23 L110.40 382.39 L111.90 383.55 L113.40 384.71 L114.90 385.87 L116.40 387.03 L117.90 388.19 L119.40 389.35 L120.90 390.51 L122.40 391.67 L123.90 392.83 L125.40 393.98 L126.90 395.13 L128.40 396.29 L129.90 397.44 L131.40 398.59 L132.90 399.75 L134.40 400.91 L135.90 402.07 L137.40 403.23 L138.90 404.40 L140.40 405.57 L141.90 406.75 L143.40 407.93 L144.90 409.12 L146.40 410.32 L147.90 411.54 L149.40 412.76 L150.90 413.98 L152.40 415.21 L153.90 416.43 L155.40 417.66 L156.90 418.87 L158.40 420.07 L159.90 421.27 L161.40 422.44 L162.90 423.60 L164.40 424.74 L165.90 425.87 L167.40 426.98 L168.90 428.08 L170.40 429.18 L171.90 430.27 L173.40 431.35 L174.90 432.44 L176.40 433.52 L177.90 434.62 L179.40 435.72 L180.90 436.83 L182.40 437.95 L183.90 439.10 L185.40 440.27 L186.90 441.44 L188.40 442.61 L189.90 443.75 L191.40 444.88 L192.90 445.98 L194.40 447.05 L195.90 448.10 L197.40 449.13 L198.90 450.16 L200.40 451.18 L201.90 452.18 L203.40 453.15 L204.90 454.09 L206.40 454.99 L207.90 455.85 L209.40 456.68 L210.90 457.48 L212.40 458.26 L213.90 459.02 L215.40 459.76 L216.90 460.49 L218.40 461.20 L219.90 461.89 L221.40 462.57 L222.90 463.24 L224.40 463.89 L225.90 464.52 L227.40 465.15 L228.90 465.77 L230.40 466.37 L231.90 466.96 L233.40 467.53 L234.90 468.10 L236.40 468.65 L237.90 469.20 L239.40 469.74 L240.90 470.27 L242.40 470.79 L243.90 471.30 L245.40 471.81 L246.90 472.32 L248.40 472.81 L249.90 473.30 L251.40 473.79 L252.90 474.26 L254.40 474.73 L255.90 475.20 L257.40 475.65 L258.90 476.11 L260.40 476.56 L261.90 477.00 L263.40 477.45 L264.90 477.88 L266.40 478.32 L267.90 478.75 L269.40 479.18 L270.90 479.60 L272.40 480.02 L273.90 480.43 L275.40 480.83 L276.90 481.24 L278.40 481.63 L279.90 482.03 L281.40 482.42 L282.90 482.81 L284.40 483.20 L285.90 483.60 L287.40 484.00 L288.90 484.39 L290.40 484.78 L291.90 485.18 L293.40 485.57 L294.90 485.97 L296.40 486.37 L297.90 486.77 L299.40 487.17 L300.90 487.58 L302.40 487.99 L303.90 488.41 L305.40 488.83 L306.90 489.25 L308.40 489.68 L309.90 490.12 L311.40 490.57 L312.90 491.02 L314.40 491.49 L315.90 491.96 L317.40 492.45 L318.90 492.95 L320.40 493.46 L321.90 493.97 L323.40 494.49 L324.90 495.01 L326.40 495.53 L327.90 496.05 L329.40 496.56 L330.90 497.06 L332.40 497.57 L333.90 498.07 L335.40 498.56 L336.90 499.06 L338.40 499.56 L339.90 500.07 L341.40 500.57 L342.90 501.08 L344.40 501.60 L345.90 502.12 L347.40 502.65 L348.90 503.19 L350.40 503.74 L351.90 504.29 L353.40 504.85 L354.90 505.42 L356.40 505.99 L357.90 506.57 L359.40 507.16 L360.90 507.75 L362.40 508.36 L363.90 508.97 L365.40 509.59 L366.90 510.21 L368.40 510.85 L369.90 511.49 L371.40 512.14 L372.90 512.80 L374.40 513.46 L375.90 514.14 L377.40 514.82 L378.90 515.50 L380.40 516.20 L381.90 516.90 L383.40 517.61 L384.90 518.33 L386.40 519.05 L387.90 519.78 L388.70 520.17" stroke="#000000" stroke-width="1.00" fill="none" stroke-dasharray="4.8 4.55"/>
<path d="M87.90 367.93 L89.40 368.94 L90.90 369.94 L92.40 370.95 L93.90 371.95 L95.40 372.95 L96.90 373.94 L98.40 374.93 L99.90 375.90 L101.40 376.88 L102.90 377.88 L104.40 378.90 L105.90 379.96 L107.40 381.06 L108.90 382.18 L110.40 383.32 L111.90 384.44 L113.40 385.56 L114.90 386.67 L116.40 387.79 L117.90 388.90 L119.40 390.01 L120.90 391.13 L122.40 392.25 L123.90 393.38 L125.40 394.51 L126.90 395.64 L128.40 396.78 L129.90 397.92 L131.40 399.07 L132.90 400.22 L134.40 401.37 L135.90 402.53 L137.40 403.69 L138.90 404.86 L140.40 406.03 L141.90 407.20 L143.40 408.38 L144.90 409.57 L146.40 410.77 L147.90 411.98 L149.40 413.20 L150.90 414.43 L152.40 415.65 L153.90 416.88 L155.40 418.10 L156.90 419.32 L158.40 420.52 L159.90 421.72 L161.40 422.89 L162.90 424.05 L164.40 425.19 L165.90 426.32 L167.40 427.43 L168.90 428.53 L170.40 429.62 L171.90 430.70 L173.40 431.79 L174.90 432.87 L176.40 433.96 L177.90 435.05 L179.40 436.16 L180.90 437.27 L182.40 438.40 L183.90 439.57 L185.40 440.75 L186.90 441.94 L188.40 443.10 L189.90 444.24 L191.40 445.35 L192.90 446.45 L194.40 447.52 L195.90 448.57 L197.40 449.61 L198.90 450.63 L200.40 451.65 L201.90 452.65 L203.40 453.63 L204.90 454.59 L206.40 455.52 L207.90 456.42 L209.40 457.29 L210.90 458.14 L212.40 458.98 L213.90 459.80 L215.40 460.61 L216.90 461.41 L218.40 462.19 L219.90 462.95 L221.40 463.71 L222.90 464.45 L224.40 465.18 L225.90 465.90 L227.40 466.61 L228.90 467.31 L230.40 468.00 L231.90 468.69 L233.40 469.36 L234.90 470.03 L236.40 470.68 L237.90 471.33 L239.40 471.97 L240.90 472.59 L242.40 473.20 L243.90 473.80 L245.40 474.39 L246.90 474.96 L248.40 475.52 L249.90 476.07 L251.40 476.60 L252.90 477.13 L254.40 477.64 L255.90 478.15 L257.40 478.65 L258.90 479.14 L260.40 479.63 L261.90 480.12 L263.40 480.60 L264.90 481.08 L266.40 481.57 L267.90 482.05 L269.40 482.53 L270.90 483.01 L272.40 483.48 L273.90 483.95 L275.40 484.41 L276.90 484.86 L278.40 485.31 L279.90 485.74 L281.40 486.17 L282.90 486.59 L284.40 487.01 L285.90 487.42 L287.40 487.84 L288.90 488.25 L290.40 488.66 L291.90 489.06 L293.40 489.47 L294.90 489.88 L296.40 490.29 L297.90 490.71 L299.40 491.13 L300.90 491.55 L302.40 491.97 L303.90 492.40 L305.40 492.82 L306.90 493.25 L308.40 493.69 L309.90 494.13 L311.40 494.57 L312.90 495.03 L314.40 495.48 L315.90 495.96 L317.40 496.45 L318.90 496.95 L320.40 497.46 L321.90 497.96 L323.40 498.47 L324.90 498.98 L326.40 499.47 L327.90 499.95 L329.40 500.41 L330.90 500.86 L332.40 501.28 L333.90 501.70 L335.40 502.11 L336.90 502.51 L338.40 502.91 L339.90 503.31 L341.40 503.71 L342.90 504.12 L344.40 504.53 L345.90 504.96 L347.40 505.39 L348.90 505.84 L350.40 506.29 L351.90 506.75 L353.40 507.21 L354.90 507.69 L356.40 508.17 L357.90 508.66 L359.40 509.16 L360.90 509.66 L362.40 510.18 L363.90 510.70 L365.40 511.23 L366.90 511.77 L368.40 512.32 L369.90 512.88 L371.40 513.45 L372.90 514.03 L374.40 514.61 L375.90 515.21 L377.40 515.81 L378.90 516.43 L380.40 517.05 L381.90 517.68 L383.40 518.32 L384.90 518.96 L386.40 519.62 L387.90 520.28 L388.70 520.64" stroke="#000000" stroke-width="1.00" fill="none" stroke-dasharray="5 2.3 1 2.3"/>
<path d="M87.90 369.43 L89.40 370.43 L90.90 371.41 L92.40 372.39 L93.90 373.36 L95.40 374.33 L96.90 375.28 L98.40 376.21 L99.90 377.13 L101.40 378.04 L102.90 378.98 L104.40 379.95 L105.90 380.98 L107.40 382.05 L108.90 383.14 L110.40 384.24 L111.90 385.34 L113.40 386.41 L114.90 387.48 L116.40 388.54 L117.90 389.61 L119.40 390.67 L120.90 391.74 L122.40 392.83 L123.90 393.92 L125.40 395.03 L126.90 396.15 L128.40 397.27 L129.90 398.40 L131.40 399.54 L132.90 400.68 L134.40 401.83 L135.90 402.99 L137.40 404.15 L138.90 405.31 L140.40 406.48 L141.90 407.65 L143.40 408.83 L144.90 410.01 L146.40 411.21 L147.90 412.42 L149.40 413.64 L150.90 414.87 L152.40 416.10 L153.90 417.32 L155.40 418.55 L156.90 419.76 L158.40 420.97 L159.90 422.16 L161.40 423.34 L162.90 424.50 L164.40 425.64 L165.90 426.77 L167.40 427.87 L168.90 428.97 L170.40 430.06 L171.90 431.14 L173.40 432.22 L174.90 433.30 L176.40 434.39 L177.90 435.49 L179.40 436.59 L180.90 437.72 L182.40 438.86 L183.90 440.04 L185.40 441.24 L186.90 442.43 L188.40 443.60 L189.90 444.73 L191.40 445.83 L192.90 446.92 L194.40 447.99 L195.90 449.04 L197.40 450.08 L198.90 451.10 L200.40 452.12 L201.90 453.12 L203.40 454.11 L204.90 455.08 L206.40 456.04 L207.90 456.98 L209.40 457.90 L210.90 458.81 L212.40 459.70 L213.90 460.59 L215.40 461.46 L216.90 462.32 L218.40 463.17 L219.90 464.01 L221.40 464.84 L222.90 465.66 L224.40 466.47 L225.90 467.28 L227.40 468.07 L228.90 468.85 L230.40 469.64 L231.90 470.42 L233.40 471.19 L234.90 471.96 L236.40 472.71 L237.90 473.46 L239.40 474.19 L240.90 474.91 L242.40 475.62 L243.90 476.30 L245.40 476.97 L246.90 477.61 L248.40 478.23 L249.90 478.83 L251.40 479.42 L252.90 479.99 L254.40 480.55 L255.90 481.10 L257.40 481.64 L258.90 482.17 L260.40 482.70 L261.90 483.23 L263.40 483.76 L264.90 484.28 L266.40 484.81 L267.90 485.35 L269.40 485.88 L270.90 486.42 L272.40 486.94 L273.90 487.47 L275.40 487.98 L276.90 488.49 L278.40 488.98 L279.90 489.45 L281.40 489.92 L282.90 490.37 L284.40 490.81 L285.90 491.25 L287.40 491.68 L288.90 492.11 L290.40 492.53 L291.90 492.95 L293.40 493.37 L294.90 493.79 L296.40 494.22 L297.90 494.65 L299.40 495.09 L300.90 495.52 L302.40 495.95 L303.90 496.38 L305.40 496.82 L306.90 497.26 L308.40 497.69 L309.90 498.14 L311.40 498.58 L312.90 499.03 L314.40 499.48 L315.90 499.96 L317.40 500.45 L318.90 500.95 L320.40 501.45 L321.90 501.96 L323.40 502.45 L324.90 502.94 L326.40 503.41 L327.90 503.85 L329.40 504.27 L330.90 504.65 L332.40 505.00 L333.90 505.33 L335.40 505.65 L336.90 505.96 L338.40 506.26 L339.90 506.56 L341.40 506.86 L342.90 507.16 L344.40 507.47 L345.90 507.79 L347.40 508.13 L348.90 508.48 L350.40 508.84 L351.90 509.20 L353.40 509.58 L354.90 509.96 L356.40 510.35 L357.90 510.75 L359.40 511.15 L360.90 511.57 L362.40 511.99 L363.90 512.43 L365.40 512.87 L366.90 513.33 L368.40 513.80 L369.90 514.27 L371.40 514.76 L372.90 515.26 L374.40 515.77 L375.90 516.29 L377.40 516.81 L378.90 517.35 L380.40 517.90 L381.90 518.46 L383.40 519.03 L384.90 519.60 L386.40 520.19 L387.90 520.78 L388.70 521.11" stroke="#000000" stroke-width="1.00" fill="none" stroke-dasharray="7.2 2.4 1 2.5 1 2.5 1 2.15"/>
<path d="M96.70 383.80 L104.40 382.90 L112.00 386.80 L120.00 391.60 L125.00 395.27 L126.50 396.36 L128.00 397.47 L129.50 398.58 L131.00 399.71 L132.50 400.85 L134.00 401.99 L135.50 403.14 L137.00 404.30 L138.50 405.46 L140.00 406.63 L141.50 407.80 L143.00 408.97 L144.50 410.14 L146.00 411.34 L147.50 412.54 L149.00 413.76 L150.50 414.98 L152.00 416.21 L153.50 417.44 L155.00 418.67 L156.50 419.89 L158.00 421.10 L159.50 422.30 L161.00 423.48 L162.50 424.65 L164.00 425.79 L165.50 426.92 L167.00 428.02 L168.50 429.12 L170.00 430.21 L171.50 431.29 L173.00 432.37 L174.50 433.45 L176.00 434.53 L177.50 435.63 L179.00 436.74 L180.50 437.86 L182.00 439.00 L183.50 440.18 L185.00 441.39 L186.50 442.61 L188.00 443.79 L189.50 444.92 L191.00 446.02 L192.50 447.11 L194.00 448.18 L195.50 449.23 L197.00 450.27 L198.50 451.30 L200.00 452.32 L201.50 453.33 L203.00 454.33 L204.50 455.32 L206.00 456.30 L207.50 457.28 L209.00 458.25 L210.50 459.22 L212.00 460.17 L213.50 461.12 L215.00 462.06 L216.50 462.99 L218.00 463.92 L219.50 464.83 L221.00 465.74 L222.50 466.64 L224.00 467.53 L225.50 468.42 L227.00 469.29 L228.50 470.16 L230.00 471.04 L231.50 471.91 L233.00 472.79 L234.50 473.65 L236.00 474.52 L237.50 475.37 L239.00 476.20 L240.50 477.02 L242.00 477.82 L243.50 478.60 L245.00 479.35 L246.50 480.07 L248.00 480.76 L249.50 481.42 L251.00 482.07 L252.50 482.69 L254.00 483.30 L255.50 483.90 L257.00 484.48 L258.50 485.06 L260.00 485.63 L261.50 486.19 L263.00 486.76 L264.50 487.33 L266.00 487.91 L267.50 488.49 L269.00 489.08 L270.50 489.67 L272.00 490.25 L273.50 490.83 L275.00 491.40 L276.50 491.96 L278.00 492.51 L279.50 493.03 L281.00 493.53 L282.50 494.02 L284.00 494.49 L285.50 494.95 L287.00 495.40 L288.50 495.85 L290.00 496.28 L291.50 496.72 L293.00 497.15 L294.50 497.59 L296.00 498.03 L297.50 498.48 L299.00 498.93 L300.50 499.37 L302.00 499.81 L303.50 500.26 L305.00 500.70 L306.50 501.14 L308.00 501.58 L309.50 502.02 L311.00 502.47 L312.50 502.91 L314.00 503.36 L315.50 503.82 L317.00 504.31 L318.50 504.81 L320.00 505.31 L321.50 505.81 L323.00 506.31 L324.50 506.78 L326.00 507.23 L327.50 507.65 L329.00 508.03 L330.50 508.36 L332.00 508.65 L333.50 508.90 L335.00 509.14 L336.50 509.36 L338.00 509.56 L339.50 509.75 L341.00 509.95 L342.50 510.14 L344.00 510.35 L345.50 510.56 L347.00 510.80 L348.50 511.05 L350.00 511.32 L351.50 511.59 L353.00 511.87 L354.50 512.15 L356.00 512.45 L357.50 512.75 L359.00 513.06 L360.50 513.39 L362.00 513.72 L363.50 514.06 L365.00 514.42 L366.50 514.79 L368.00 515.17 L369.50 515.56 L371.00 515.96 L372.50 516.38 L374.00 516.80 L375.50 517.24 L377.00 517.69 L378.50 518.15 L380.00 518.62 L381.50 519.11 L383.00 519.60 L384.50 520.10 L386.00 520.62 L387.50 521.14 L388.70 521.57" stroke="#000000" stroke-width="1.00" fill="none"/>
<path d="M87.90 340.47 L89.40 340.93 L90.90 341.46 L92.40 342.05 L93.90 342.71 L95.40 343.42 L96.90 344.18 L98.40 344.98 L99.90 345.84 L101.40 346.72 L102.90 347.65 L104.40 348.60 L105.90 349.64 L107.40 350.80 L108.90 352.08 L110.40 353.45 L111.90 354.90 L113.40 356.40 L114.90 357.95 L116.40 359.52 L117.90 361.09 L119.40 362.65 L120.90 364.19 L122.40 365.67 L123.90 367.09 L125.40 368.48 L126.90 369.86 L128.40 371.23 L129.90 372.59 L131.40 373.95 L132.90 375.29 L134.40 376.63 L135.90 377.95 L137.40 379.29 L138.90 380.63 L140.40 381.94 L141.90 383.19 L143.40 384.38 L144.90 385.49 L146.40 386.57 L147.90 387.60 L149.40 388.61 L150.90 389.59 L152.40 390.56 L153.90 391.51 L155.40 392.45 L156.90 393.39 L158.40 394.33 L159.90 395.28 L161.40 396.25 L162.90 397.23 L164.40 398.23 L165.90 399.23 L167.40 400.24 L168.90 401.25 L170.40 402.26 L171.90 403.27 L173.40 404.27 L174.90 405.27 L176.40 406.27 L177.90 407.26 L179.40 408.23 L180.90 409.20 L182.40 410.15 L183.90 411.09 L185.40 412.02 L186.90 412.95 L188.40 413.86 L189.90 414.77 L191.40 415.67 L192.90 416.57 L194.40 417.46 L195.90 418.36 L197.40 419.25 L198.90 420.15 L200.40 421.04 L201.90 421.94 L203.40 422.84 L204.90 423.74 L206.40 424.63 L207.90 425.53 L209.40 426.42 L210.90 427.31 L212.40 428.20 L213.90 429.09 L215.40 429.98 L216.90 430.87 L218.40 431.76 L219.90 432.65 L221.40 433.54 L222.90 434.43 L224.40 435.33 L225.90 436.24 L227.40 437.15 L228.90 438.05 L230.40 438.96 L231.90 439.86 L233.40 440.75 L234.90 441.62 L236.40 442.49 L237.90 443.34 L239.40 444.17 L240.90 444.99 L242.40 445.79 L243.90 446.58 L245.40 447.35 L246.90 448.12 L248.40 448.88 L249.90 449.64 L251.40 450.38 L252.90 451.12 L254.40 451.86 L255.90 452.59 L257.40 453.31 L258.90 454.04 L260.40 454.76 L261.90 455.48 L263.40 456.20 L264.90 456.93 L266.40 457.65 L267.90 458.38 L269.40 459.09 L270.90 459.81 L272.40 460.52 L273.90 461.22 L275.40 461.93 L276.90 462.63 L278.40 463.33 L279.90 464.03 L281.40 464.74 L282.90 465.44 L284.40 466.14 L285.90 466.85 L287.40 467.56 L288.90 468.27 L290.40 468.98 L291.90 469.70 L293.40 470.41 L294.90 471.12 L296.40 471.83 L297.90 472.55 L299.40 473.26 L300.90 473.97 L302.40 474.69 L303.90 475.40 L305.40 476.11 L306.90 476.82 L308.40 477.54 L309.90 478.25 L311.40 478.96 L312.90 479.67 L314.40 480.38 L315.90 481.09 L317.40 481.80 L318.90 482.51 L320.40 483.22 L321.90 483.93 L323.40 484.63 L324.90 485.34 L326.40 486.05 L327.90 486.75 L329.40 487.46 L330.90 488.17 L332.40 488.87 L333.90 489.58 L335.40 490.29 L336.90 491.00 L338.40 491.71 L339.90 492.42 L341.40 493.14 L342.90 493.85 L344.40 494.57 L345.90 495.28 L347.40 496.00 L348.90 496.73 L350.40 497.45 L351.90 498.17 L353.40 498.90 L354.90 499.62 L356.40 500.35 L357.90 501.07 L359.40 501.80 L360.90 502.53 L362.40 503.26 L363.90 503.99 L365.40 504.72 L366.90 505.45 L368.40 506.19 L369.90 506.92 L371.40 507.65 L372.90 508.39 L374.40 509.13 L375.90 509.87 L377.40 510.60 L378.90 511.34 L380.40 512.08 L381.90 512.83 L383.40 513.57 L384.90 514.31 L386.40 515.06 L387.90 515.80 L388.70 516.20" stroke="#0000ff" stroke-width="1.00" fill="none" stroke-dasharray="1.1 2.2"/>
<path d="M87.90 348.77 L89.40 348.89 L90.90 349.06 L92.40 349.31 L93.90 349.62 L95.40 350.01 L96.90 350.47 L98.40 350.98 L99.90 351.53 L101.40 352.12 L102.90 352.75 L104.40 353.42 L105.90 354.17 L107.40 355.06 L108.90 356.06 L110.40 357.15 L111.90 358.33 L113.40 359.56 L114.90 360.84 L116.40 362.14 L117.90 363.50 L119.40 364.90 L120.90 366.31 L122.40 367.69 L123.90 368.99 L125.40 370.25 L126.90 371.51 L128.40 372.75 L129.90 373.99 L131.40 375.24 L132.90 376.48 L134.40 377.72 L135.90 378.97 L137.40 380.23 L138.90 381.49 L140.40 382.74 L141.90 383.95 L143.40 385.09 L144.90 386.17 L146.40 387.23 L147.90 388.26 L149.40 389.26 L150.90 390.25 L152.40 391.22 L153.90 392.17 L155.40 393.13 L156.90 394.08 L158.40 395.03 L159.90 395.99 L161.40 396.96 L162.90 397.95 L164.40 398.94 L165.90 399.94 L167.40 400.95 L168.90 401.96 L170.40 402.97 L171.90 403.98 L173.40 404.99 L174.90 405.99 L176.40 406.98 L177.90 407.97 L179.40 408.95 L180.90 409.91 L182.40 410.87 L183.90 411.81 L185.40 412.74 L186.90 413.66 L188.40 414.57 L189.90 415.48 L191.40 416.38 L192.90 417.28 L194.40 418.18 L195.90 419.07 L197.40 419.96 L198.90 420.86 L200.40 421.75 L201.90 422.65 L203.40 423.55 L204.90 424.45 L206.40 425.34 L207.90 426.24 L209.40 427.13 L210.90 428.02 L212.40 428.92 L213.90 429.81 L215.40 430.70 L216.90 431.58 L218.40 432.47 L219.90 433.36 L221.40 434.25 L222.90 435.15 L224.40 436.05 L225.90 436.95 L227.40 437.86 L228.90 438.77 L230.40 439.67 L231.90 440.57 L233.40 441.46 L234.90 442.34 L236.40 443.20 L237.90 444.05 L239.40 444.89 L240.90 445.70 L242.40 446.50 L243.90 447.29 L245.40 448.07 L246.90 448.84 L248.40 449.60 L249.90 450.35 L251.40 451.10 L252.90 451.84 L254.40 452.57 L255.90 453.30 L257.40 454.03 L258.90 454.75 L260.40 455.47 L261.90 456.20 L263.40 456.92 L264.90 457.64 L266.40 458.36 L267.90 459.09 L269.40 459.81 L270.90 460.52 L272.40 461.23 L273.90 461.94 L275.40 462.64 L276.90 463.34 L278.40 464.05 L279.90 464.75 L281.40 465.45 L282.90 466.15 L284.40 466.86 L285.90 467.57 L287.40 468.28 L288.90 468.99 L290.40 469.70 L291.90 470.41 L293.40 471.12 L294.90 471.83 L296.40 472.55 L297.90 473.26 L299.40 473.97 L300.90 474.69 L302.40 475.40 L303.90 476.11 L305.40 476.82 L306.90 477.54 L308.40 478.25 L309.90 478.96 L311.40 479.67 L312.90 480.39 L314.40 481.10 L315.90 481.81 L317.40 482.52 L318.90 483.23 L320.40 483.93 L321.90 484.64 L323.40 485.35 L324.90 486.05 L326.40 486.76 L327.90 487.47 L329.40 488.17 L330.90 488.88 L332.40 489.59 L333.90 490.29 L335.40 491.00 L336.90 491.71 L338.40 492.42 L339.90 493.13 L341.40 493.85 L342.90 494.56 L344.40 495.28 L345.90 496.00 L347.40 496.72 L348.90 497.44 L350.40 498.16 L351.90 498.88 L353.40 499.61 L354.90 500.33 L356.40 501.06 L357.90 501.79 L359.40 502.51 L360.90 503.24 L362.40 503.97 L363.90 504.70 L365.40 505.43 L366.90 506.17 L368.40 506.90 L369.90 507.63 L371.40 508.37 L372.90 509.10 L374.40 509.84 L375.90 510.58 L377.40 511.32 L378.90 512.06 L380.40 512.80 L381.90 513.54 L383.40 514.28 L384.90 515.02 L386.40 515.77 L387.90 516.51 L388.70 516.91" stroke="#0000ff" stroke-width="1.00" fill="none" stroke-dasharray="4.8 4.55"/>
<path d="M87.90 358.52 L89.40 358.22 L90.90 357.99 L92.40 357.83 L93.90 357.75 L95.40 357.75 L96.90 357.85 L98.40 358.02 L99.90 358.22 L101.40 358.46 L102.90 358.74 L104.40 359.07 L105.90 359.50 L107.40 360.05 L108.90 360.72 L110.40 361.50 L111.90 362.35 L113.40 363.27 L114.90 364.23 L116.40 365.22 L117.90 366.33 L119.40 367.54 L120.90 368.81 L122.40 370.05 L123.90 371.22 L125.40 372.34 L126.90 373.44 L128.40 374.54 L129.90 375.64 L131.40 376.75 L132.90 377.87 L134.40 379.00 L135.90 380.16 L137.40 381.33 L138.90 382.51 L140.40 383.68 L141.90 384.83 L143.40 385.92 L144.90 386.98 L146.40 388.01 L147.90 389.03 L149.40 390.02 L150.90 391.01 L152.40 391.99 L153.90 392.96 L155.40 393.92 L156.90 394.88 L158.40 395.85 L159.90 396.82 L161.40 397.79 L162.90 398.78 L164.40 399.78 L165.90 400.78 L167.40 401.79 L168.90 402.80 L170.40 403.81 L171.90 404.82 L173.40 405.82 L174.90 406.82 L176.40 407.82 L177.90 408.81 L179.40 409.78 L180.90 410.75 L182.40 411.70 L183.90 412.64 L185.40 413.57 L186.90 414.50 L188.40 415.41 L189.90 416.32 L191.40 417.22 L192.90 418.12 L194.40 419.01 L195.90 419.91 L197.40 420.80 L198.90 421.70 L200.40 422.59 L201.90 423.49 L203.40 424.39 L204.90 425.29 L206.40 426.18 L207.90 427.08 L209.40 427.97 L210.90 428.86 L212.40 429.75 L213.90 430.64 L215.40 431.53 L216.90 432.42 L218.40 433.31 L219.90 434.20 L221.40 435.09 L222.90 435.98 L224.40 436.88 L225.90 437.79 L227.40 438.70 L228.90 439.60 L230.40 440.51 L231.90 441.41 L233.40 442.30 L234.90 443.17 L236.40 444.04 L237.90 444.89 L239.40 445.72 L240.90 446.54 L242.40 447.34 L243.90 448.13 L245.40 448.90 L246.90 449.67 L248.40 450.43 L249.90 451.19 L251.40 451.93 L252.90 452.67 L254.40 453.41 L255.90 454.14 L257.40 454.86 L258.90 455.59 L260.40 456.31 L261.90 457.03 L263.40 457.75 L264.90 458.48 L266.40 459.20 L267.90 459.93 L269.40 460.64 L270.90 461.36 L272.40 462.07 L273.90 462.77 L275.40 463.48 L276.90 464.18 L278.40 464.88 L279.90 465.58 L281.40 466.29 L282.90 466.99 L284.40 467.69 L285.90 468.40 L287.40 469.11 L288.90 469.82 L290.40 470.53 L291.90 471.25 L293.40 471.96 L294.90 472.67 L296.40 473.38 L297.90 474.10 L299.40 474.81 L300.90 475.52 L302.40 476.24 L303.90 476.95 L305.40 477.66 L306.90 478.37 L308.40 479.09 L309.90 479.80 L311.40 480.51 L312.90 481.22 L314.40 481.93 L315.90 482.64 L317.40 483.35 L318.90 484.06 L320.40 484.77 L321.90 485.48 L323.40 486.18 L324.90 486.89 L326.40 487.60 L327.90 488.30 L329.40 489.01 L330.90 489.72 L332.40 490.42 L333.90 491.13 L335.40 491.84 L336.90 492.55 L338.40 493.26 L339.90 493.97 L341.40 494.69 L342.90 495.40 L344.40 496.12 L345.90 496.83 L347.40 497.55 L348.90 498.28 L350.40 499.00 L351.90 499.72 L353.40 500.45 L354.90 501.17 L356.40 501.90 L357.90 502.62 L359.40 503.35 L360.90 504.08 L362.40 504.81 L363.90 505.54 L365.40 506.27 L366.90 507.00 L368.40 507.74 L369.90 508.47 L371.40 509.20 L372.90 509.94 L374.40 510.68 L375.90 511.42 L377.40 512.15 L378.90 512.89 L380.40 513.63 L381.90 514.38 L383.40 515.12 L384.90 515.86 L386.40 516.61 L387.90 517.35 L388.70 517.75" stroke="#0000ff" stroke-width="1.00" fill="none" stroke-dasharray="5 2.3 1 2.3"/>
<path d="M87.90 366.46 L89.40 365.83 L90.90 365.26 L92.40 364.77 L93.90 364.36 L95.40 364.06 L96.90 363.87 L98.40 363.76 L99.90 363.67 L101.40 363.62 L102.90 363.62 L104.40 363.68 L105.90 363.84 L107.40 364.12 L108.90 364.53 L110.40 365.04 L111.90 365.63 L113.40 366.29 L114.90 366.99 L116.40 367.73 L117.90 368.63 L119.40 369.69 L120.90 370.84 L122.40 371.98 L123.90 373.04 L125.40 374.04 L126.90 375.02 L128.40 376.00 L129.90 376.98 L131.40 377.98 L132.90 379.00 L134.40 380.05 L135.90 381.13 L137.40 382.23 L138.90 383.34 L140.40 384.45 L141.90 385.54 L143.40 386.60 L144.90 387.63 L146.40 388.65 L147.90 389.65 L149.40 390.65 L150.90 391.63 L152.40 392.61 L153.90 393.59 L155.40 394.57 L156.90 395.54 L158.40 396.51 L159.90 397.49 L161.40 398.47 L162.90 399.46 L164.40 400.46 L165.90 401.46 L167.40 402.47 L168.90 403.48 L170.40 404.49 L171.90 405.50 L173.40 406.50 L174.90 407.51 L176.40 408.50 L177.90 409.49 L179.40 410.47 L180.90 411.43 L182.40 412.38 L183.90 413.33 L185.40 414.26 L186.90 415.18 L188.40 416.09 L189.90 417.00 L191.40 417.90 L192.90 418.80 L194.40 419.70 L195.90 420.59 L197.40 421.48 L198.90 422.38 L200.40 423.27 L201.90 424.17 L203.40 425.07 L204.90 425.97 L206.40 426.86 L207.90 427.76 L209.40 428.65 L210.90 429.54 L212.40 430.43 L213.90 431.32 L215.40 432.21 L216.90 433.10 L218.40 433.99 L219.90 434.88 L221.40 435.77 L222.90 436.66 L224.40 437.57 L225.90 438.47 L227.40 439.38 L228.90 440.29 L230.40 441.19 L231.90 442.09 L233.40 442.98 L234.90 443.86 L236.40 444.72 L237.90 445.57 L239.40 446.40 L240.90 447.22 L242.40 448.02 L243.90 448.81 L245.40 449.59 L246.90 450.36 L248.40 451.12 L249.90 451.87 L251.40 452.61 L252.90 453.35 L254.40 454.09 L255.90 454.82 L257.40 455.55 L258.90 456.27 L260.40 456.99 L261.90 457.71 L263.40 458.44 L264.90 459.16 L266.40 459.88 L267.90 460.61 L269.40 461.33 L270.90 462.04 L272.40 462.75 L273.90 463.46 L275.40 464.16 L276.90 464.86 L278.40 465.56 L279.90 466.27 L281.40 466.97 L282.90 467.67 L284.40 468.38 L285.90 469.08 L287.40 469.79 L288.90 470.51 L290.40 471.22 L291.90 471.93 L293.40 472.64 L294.90 473.35 L296.40 474.07 L297.90 474.78 L299.40 475.49 L300.90 476.20 L302.40 476.92 L303.90 477.63 L305.40 478.34 L306.90 479.06 L308.40 479.77 L309.90 480.48 L311.40 481.19 L312.90 481.91 L314.40 482.62 L315.90 483.33 L317.40 484.04 L318.90 484.74 L320.40 485.45 L321.90 486.16 L323.40 486.87 L324.90 487.57 L326.40 488.28 L327.90 488.98 L329.40 489.69 L330.90 490.40 L332.40 491.11 L333.90 491.81 L335.40 492.52 L336.90 493.23 L338.40 493.94 L339.90 494.65 L341.40 495.37 L342.90 496.08 L344.40 496.80 L345.90 497.52 L347.40 498.24 L348.90 498.96 L350.40 499.68 L351.90 500.40 L353.40 501.13 L354.90 501.85 L356.40 502.58 L357.90 503.30 L359.40 504.03 L360.90 504.76 L362.40 505.49 L363.90 506.22 L365.40 506.95 L366.90 507.68 L368.40 508.42 L369.90 509.15 L371.40 509.89 L372.90 510.62 L374.40 511.36 L375.90 512.10 L377.40 512.84 L378.90 513.58 L380.40 514.32 L381.90 515.06 L383.40 515.80 L384.90 516.54 L386.40 517.29 L387.90 518.03 L388.70 518.43" stroke="#0000ff" stroke-width="1.00" fill="none" stroke-dasharray="7.2 2.4 1 2.5 1 2.5 1 2.15"/>
<path d="M87.90 376.57 L89.40 375.52 L90.90 374.52 L92.40 373.60 L93.90 372.79 L95.40 372.09 L96.90 371.53 L98.40 371.06 L99.90 370.61 L101.40 370.19 L102.90 369.83 L104.40 369.54 L105.90 369.36 L107.40 369.30 L108.90 369.37 L110.40 369.54 L111.90 369.81 L113.40 370.14 L114.90 370.51 L116.40 370.92 L117.90 371.56 L119.40 372.43 L120.90 373.42 L122.40 374.43 L123.90 375.36 L125.40 376.20 L126.90 377.03 L128.40 377.85 L129.90 378.69 L131.40 379.55 L132.90 380.44 L134.40 381.38 L135.90 382.36 L137.40 383.37 L138.90 384.40 L140.40 385.43 L141.90 386.46 L143.40 387.47 L144.90 388.46 L146.40 389.46 L147.90 390.45 L149.40 391.44 L150.90 392.43 L152.40 393.41 L153.90 394.40 L155.40 395.39 L156.90 396.38 L158.40 397.36 L159.90 398.35 L161.40 399.34 L162.90 400.33 L164.40 401.33 L165.90 402.33 L167.40 403.34 L168.90 404.35 L170.40 405.36 L171.90 406.37 L173.40 407.37 L174.90 408.37 L176.40 409.37 L177.90 410.36 L179.40 411.33 L180.90 412.30 L182.40 413.25 L183.90 414.19 L185.40 415.12 L186.90 416.05 L188.40 416.96 L189.90 417.87 L191.40 418.77 L192.90 419.67 L194.40 420.56 L195.90 421.46 L197.40 422.35 L198.90 423.25 L200.40 424.14 L201.90 425.04 L203.40 425.94 L204.90 426.84 L206.40 427.73 L207.90 428.63 L209.40 429.52 L210.90 430.41 L212.40 431.30 L213.90 432.19 L215.40 433.08 L216.90 433.97 L218.40 434.86 L219.90 435.75 L221.40 436.64 L222.90 437.53 L224.40 438.43 L225.90 439.34 L227.40 440.25 L228.90 441.15 L230.40 442.06 L231.90 442.96 L233.40 443.85 L234.90 444.72 L236.40 445.59 L237.90 446.44 L239.40 447.27 L240.90 448.09 L242.40 448.89 L243.90 449.68 L245.40 450.45 L246.90 451.22 L248.40 451.98 L249.90 452.74 L251.40 453.48 L252.90 454.22 L254.40 454.96 L255.90 455.69 L257.40 456.41 L258.90 457.14 L260.40 457.86 L261.90 458.58 L263.40 459.30 L264.90 460.03 L266.40 460.75 L267.90 461.48 L269.40 462.19 L270.90 462.91 L272.40 463.62 L273.90 464.32 L275.40 465.03 L276.90 465.73 L278.40 466.43 L279.90 467.13 L281.40 467.84 L282.90 468.54 L284.40 469.24 L285.90 469.95 L287.40 470.66 L288.90 471.37 L290.40 472.08 L291.90 472.80 L293.40 473.51 L294.90 474.22 L296.40 474.93 L297.90 475.65 L299.40 476.36 L300.90 477.07 L302.40 477.79 L303.90 478.50 L305.40 479.21 L306.90 479.92 L308.40 480.64 L309.90 481.35 L311.40 482.06 L312.90 482.77 L314.40 483.48 L315.90 484.19 L317.40 484.90 L318.90 485.61 L320.40 486.32 L321.90 487.03 L323.40 487.73 L324.90 488.44 L326.40 489.15 L327.90 489.85 L329.40 490.56 L330.90 491.27 L332.40 491.97 L333.90 492.68 L335.40 493.39 L336.90 494.10 L338.40 494.81 L339.90 495.52 L341.40 496.24 L342.90 496.95 L344.40 497.67 L345.90 498.38 L347.40 499.10 L348.90 499.83 L350.40 500.55 L351.90 501.27 L353.40 502.00 L354.90 502.72 L356.40 503.45 L357.90 504.17 L359.40 504.90 L360.90 505.63 L362.40 506.36 L363.90 507.09 L365.40 507.82 L366.90 508.55 L368.40 509.29 L369.90 510.02 L371.40 510.75 L372.90 511.49 L374.40 512.23 L375.90 512.97 L377.40 513.70 L378.90 514.44 L380.40 515.18 L381.90 515.93 L383.40 516.67 L384.90 517.41 L386.40 518.16 L387.90 518.90 L388.70 519.30" stroke="#0000ff" stroke-width="1.00" fill="none"/>
</g>
<g clip-path="url(#clip4)" stroke-linejoin="round">
<path d="M502.90 381.50 L504.40 382.95 L505.90 384.41 L507.40 385.89 L508.90 387.37 L510.40 388.87 L511.90 390.38 L513.40 391.89 L514.90 393.42 L516.40 394.96 L517.90 396.52 L519.40 398.10 L520.90 399.72 L522.40 401.38 L523.90 403.07 L525.40 404.79 L526.90 406.52 L528.40 408.25 L529.90 409.98 L531.40 411.69 L532.90 413.36 L534.40 415.01 L535.90 416.60 L537.40 418.13 L538.90 419.60 L540.40 420.99 L541.90 422.34 L543.40 423.64 L544.90 424.90 L546.40 426.14 L547.90 427.35 L549.40 428.55 L550.90 429.75 L552.40 430.95 L553.90 432.16 L555.40 433.39 L556.90 434.65 L558.40 435.95 L559.90 437.28 L561.40 438.63 L562.90 440.00 L564.40 441.38 L565.90 442.78 L567.40 444.19 L568.90 445.60 L570.40 447.02 L571.90 448.45 L573.40 449.87 L574.90 451.29 L576.40 452.71 L577.90 454.12 L579.40 455.55 L580.90 457.02 L582.40 458.52 L583.90 460.01 L585.40 461.48 L586.90 462.89 L588.40 464.21 L589.90 465.42 L591.40 466.53 L592.90 467.58 L594.40 468.56 L595.90 469.48 L597.40 470.33 L598.90 471.15 L600.40 471.94 L601.90 472.71 L603.40 473.46 L604.90 474.18 L606.40 474.88 L607.90 475.56 L609.40 476.22 L610.90 476.86 L612.40 477.47 L613.90 478.06 L615.40 478.62 L616.90 479.16 L618.40 479.69 L619.90 480.21 L621.40 480.72 L622.90 481.22 L624.40 481.72 L625.90 482.19 L627.40 482.66 L628.90 483.10 L630.40 483.54 L631.90 483.95 L633.40 484.34 L634.90 484.71 L636.40 485.06 L637.90 485.39 L639.40 485.69 L640.90 485.96 L642.40 486.22 L643.90 486.47 L645.40 486.71 L646.90 486.94 L648.40 487.16 L649.90 487.37 L651.40 487.57 L652.90 487.77 L654.40 487.96 L655.90 488.14 L657.40 488.32 L658.90 488.49 L660.40 488.67 L661.90 488.84 L663.40 489.01 L664.90 489.17 L666.40 489.34 L667.90 489.51 L669.40 489.68 L670.90 489.86 L672.40 490.02 L673.90 490.18 L675.40 490.33 L676.90 490.47 L678.40 490.61 L679.90 490.74 L681.40 490.87 L682.90 491.00 L684.40 491.13 L685.90 491.26 L687.40 491.40 L688.90 491.54 L690.40 491.69 L691.90 491.85 L693.40 492.01 L694.90 492.19 L696.40 492.38 L697.90 492.59 L699.40 492.81 L700.90 493.05 L702.40 493.34 L703.90 493.67 L705.40 494.03 L706.90 494.43 L708.40 494.86 L709.90 495.32 L711.40 495.79 L712.90 496.28 L714.40 496.78 L715.90 497.29 L717.40 497.81 L718.90 498.32 L720.40 498.83 L721.90 499.32 L723.40 499.81 L724.90 500.27 L726.40 500.72 L727.90 501.17 L729.40 501.63 L730.90 502.08 L732.40 502.53 L733.90 502.99 L735.40 503.44 L736.90 503.90 L738.40 504.36 L739.90 504.82 L741.40 505.27 L742.90 505.73 L744.40 506.20 L745.90 506.66 L747.40 507.12 L748.90 507.59 L750.40 508.06 L751.90 508.53 L753.40 509.00 L754.90 509.47 L756.40 509.94 L757.90 510.42 L759.40 510.90 L760.90 511.38 L762.40 511.87 L763.90 512.36 L765.40 512.84 L766.90 513.33 L768.40 513.82 L769.90 514.31 L771.40 514.80 L772.90 515.29 L774.40 515.78 L775.90 516.27 L777.40 516.76 L778.90 517.25 L780.40 517.75 L781.90 518.24 L783.40 518.73 L784.90 519.22 L786.40 519.72 L787.90 520.21 L789.40 520.71 L790.90 521.21 L792.40 521.70 L793.90 522.20 L795.40 522.70 L796.90 523.20 L798.40 523.70 L799.90 524.20 L801.40 524.70 L802.90 525.20 L803.70 525.47" stroke="#ff0000" stroke-width="1.00" fill="none" stroke-dasharray="1.1 2.2"/>
<path d="M502.90 381.65 L504.40 383.10 L505.90 384.56 L507.40 386.04 L508.90 387.52 L510.40 389.02 L511.90 390.52 L513.40 392.04 L514.90 393.57 L516.40 395.11 L517.90 396.67 L519.40 398.25 L520.90 399.86 L522.40 401.52 L523.90 403.20 L525.40 404.91 L526.90 406.64 L528.40 408.36 L529.90 410.08 L531.40 411.79 L532.90 413.47 L534.40 415.12 L535.90 416.72 L537.40 418.26 L538.90 419.75 L540.40 421.17 L541.90 422.55 L543.40 423.88 L544.90 425.19 L546.40 426.46 L547.90 427.72 L549.40 428.96 L550.90 430.20 L552.40 431.45 L553.90 432.70 L555.40 433.96 L556.90 435.25 L558.40 436.57 L559.90 437.92 L561.40 439.29 L562.90 440.67 L564.40 442.07 L565.90 443.48 L567.40 444.89 L568.90 446.31 L570.40 447.74 L571.90 449.16 L573.40 450.57 L574.90 451.98 L576.40 453.38 L577.90 454.76 L579.40 456.14 L580.90 457.55 L582.40 458.98 L583.90 460.40 L585.40 461.79 L586.90 463.14 L588.40 464.41 L589.90 465.61 L591.40 466.72 L592.90 467.78 L594.40 468.80 L595.90 469.77 L597.40 470.69 L598.90 471.59 L600.40 472.47 L601.90 473.33 L603.40 474.18 L604.90 475.01 L606.40 475.82 L607.90 476.62 L609.40 477.39 L610.90 478.14 L612.40 478.87 L613.90 479.58 L615.40 480.27 L616.90 480.93 L618.40 481.58 L619.90 482.22 L621.40 482.86 L622.90 483.49 L624.40 484.11 L625.90 484.71 L627.40 485.30 L628.90 485.88 L630.40 486.44 L631.90 486.97 L633.40 487.49 L634.90 487.98 L636.40 488.44 L637.90 488.87 L639.40 489.27 L640.90 489.65 L642.40 490.02 L643.90 490.38 L645.40 490.71 L646.90 491.02 L648.40 491.29 L649.90 491.52 L651.40 491.71 L652.90 491.87 L654.40 492.03 L655.90 492.19 L657.40 492.36 L658.90 492.58 L660.40 492.93 L661.90 493.34 L663.40 493.74 L664.90 494.08 L666.40 494.28 L667.90 494.41 L669.40 494.54 L670.90 494.67 L672.40 494.79 L673.90 494.91 L675.40 495.04 L676.90 495.26 L678.40 495.53 L679.90 495.82 L681.40 496.09 L682.90 496.29 L684.40 496.47 L685.90 496.64 L687.40 496.82 L688.90 496.99 L690.40 497.17 L691.90 497.34 L693.40 497.52 L694.90 497.69 L696.40 497.88 L697.90 498.06 L699.40 498.25 L700.90 498.45 L702.40 498.67 L703.90 498.93 L705.40 499.21 L706.90 499.52 L708.40 499.85 L709.90 500.20 L711.40 500.56 L712.90 500.94 L714.40 501.33 L715.90 501.73 L717.40 502.14 L718.90 502.57 L720.40 503.00 L721.90 503.43 L723.40 503.86 L724.90 504.28 L726.40 504.69 L727.90 505.10 L729.40 505.51 L730.90 505.92 L732.40 506.32 L733.90 506.72 L735.40 507.11 L736.90 507.48 L738.40 507.86 L739.90 508.23 L741.40 508.60 L742.90 508.97 L744.40 509.34 L745.90 509.71 L747.40 510.09 L748.90 510.46 L750.40 510.84 L751.90 511.22 L753.40 511.61 L754.90 512.00 L756.40 512.40 L757.90 512.81 L759.40 513.23 L760.90 513.65 L762.40 514.08 L763.90 514.52 L765.40 514.95 L766.90 515.39 L768.40 515.83 L769.90 516.27 L771.40 516.70 L772.90 517.13 L774.40 517.56 L775.90 518.00 L777.40 518.43 L778.90 518.86 L780.40 519.30 L781.90 519.73 L783.40 520.17 L784.90 520.60 L786.40 521.04 L787.90 521.48 L789.40 521.91 L790.90 522.35 L792.40 522.79 L793.90 523.23 L795.40 523.67 L796.90 524.11 L798.40 524.55 L799.90 524.99 L801.40 525.43 L802.90 525.87 L803.70 526.11" stroke="#ff0000" stroke-width="1.00" fill="none" stroke-dasharray="4.8 4.55"/>
<path d="M503.00 390.90 L510.00 395.20 L519.40 398.40 L520.90 400.01 L522.40 401.66 L523.90 403.34 L525.40 405.04 L526.90 406.75 L528.40 408.47 L529.90 410.19 L531.40 411.89 L532.90 413.57 L534.40 415.22 L535.90 416.83 L537.40 418.40 L538.90 419.90 L540.40 421.35 L541.90 422.75 L543.40 424.13 L544.90 425.47 L546.40 426.79 L547.90 428.09 L549.40 429.37 L550.90 430.66 L552.40 431.94 L553.90 433.23 L555.40 434.53 L556.90 435.85 L558.40 437.19 L559.90 438.56 L561.40 439.94 L562.90 441.34 L564.40 442.76 L565.90 444.18 L567.40 445.60 L568.90 447.03 L570.40 448.45 L571.90 449.86 L573.40 451.27 L574.90 452.66 L576.40 454.04 L577.90 455.39 L579.40 456.74 L580.90 458.09 L582.40 459.44 L583.90 460.78 L585.40 462.10 L586.90 463.38 L588.40 464.62 L589.90 465.79 L591.40 466.90 L592.90 467.99 L594.40 469.04 L595.90 470.06 L597.40 471.05 L598.90 472.03 L600.40 473.00 L601.90 473.96 L603.40 474.90 L604.90 475.84 L606.40 476.76 L607.90 477.67 L609.40 478.56 L610.90 479.43 L612.40 480.28 L613.90 481.11 L615.40 481.92 L616.90 482.70 L618.40 483.47 L619.90 484.23 L621.40 485.00 L622.90 485.75 L624.40 486.50 L625.90 487.23 L627.40 487.95 L628.90 488.66 L630.40 489.34 L631.90 490.00 L633.40 490.63 L634.90 491.24 L636.40 491.81 L637.90 492.35 L639.40 492.86 L640.90 493.33 L642.40 493.81 L643.90 494.28 L645.40 494.71 L646.90 495.10 L648.40 495.43 L649.90 495.67 L651.40 495.84 L652.90 495.98 L654.40 496.11 L655.90 496.24 L657.40 496.39 L658.90 496.67 L660.40 497.19 L661.90 497.84 L663.40 498.48 L664.90 498.99 L666.40 499.22 L667.90 499.31 L669.40 499.39 L670.90 499.48 L672.40 499.56 L673.90 499.64 L675.40 499.76 L676.90 500.05 L678.40 500.45 L679.90 500.90 L681.40 501.30 L682.90 501.58 L684.40 501.81 L685.90 502.03 L687.40 502.24 L688.90 502.44 L690.40 502.64 L691.90 502.83 L693.40 503.02 L694.90 503.20 L696.40 503.37 L697.90 503.53 L699.40 503.69 L700.90 503.84 L702.40 504.01 L703.90 504.20 L705.40 504.40 L706.90 504.61 L708.40 504.84 L709.90 505.08 L711.40 505.33 L712.90 505.60 L714.40 505.87 L715.90 506.16 L717.40 506.48 L718.90 506.82 L720.40 507.17 L721.90 507.54 L723.40 507.91 L724.90 508.29 L726.40 508.66 L727.90 509.03 L729.40 509.40 L730.90 509.76 L732.40 510.11 L733.90 510.45 L735.40 510.77 L736.90 511.07 L738.40 511.36 L739.90 511.65 L741.40 511.93 L742.90 512.21 L744.40 512.49 L745.90 512.77 L747.40 513.05 L748.90 513.33 L750.40 513.62 L751.90 513.92 L753.40 514.22 L754.90 514.53 L756.40 514.85 L757.90 515.20 L759.40 515.55 L760.90 515.92 L762.40 516.29 L763.90 516.68 L765.40 517.06 L766.90 517.45 L768.40 517.84 L769.90 518.22 L771.40 518.60 L772.90 518.97 L774.40 519.35 L775.90 519.72 L777.40 520.10 L778.90 520.47 L780.40 520.85 L781.90 521.23 L783.40 521.60 L784.90 521.98 L786.40 522.36 L787.90 522.74 L789.40 523.12 L790.90 523.49 L792.40 523.87 L793.90 524.25 L795.40 524.64 L796.90 525.02 L798.40 525.40 L799.90 525.78 L801.40 526.16 L802.90 526.55 L803.70 526.75" stroke="#ff0000" stroke-width="1.00" fill="none" stroke-dasharray="5 2.3 1 2.3"/>
<path d="M511.70 423.90 L520.40 409.40 L529.50 414.50 L538.80 419.95 L540.30 421.43 L541.80 422.87 L543.30 424.28 L544.80 425.66 L546.30 427.02 L547.80 428.36 L549.30 429.70 L550.80 431.02 L552.30 432.34 L553.80 433.67 L555.30 435.00 L556.80 436.35 L558.30 437.72 L559.80 439.10 L561.30 440.50 L562.80 441.92 L564.30 443.35 L565.80 444.78 L567.30 446.21 L568.80 447.64 L570.30 449.07 L571.80 450.48 L573.30 451.88 L574.80 453.26 L576.30 454.61 L577.80 455.94 L579.30 457.24 L580.80 458.54 L582.30 459.82 L583.80 461.09 L585.30 462.33 L586.80 463.55 L588.30 464.74 L589.80 465.89 L591.30 467.02 L592.80 468.12 L594.30 469.21 L595.80 470.28 L597.30 471.34 L598.80 472.40 L600.30 473.46 L601.80 474.51 L603.30 475.56 L604.80 476.60 L606.30 477.63 L607.80 478.65 L609.30 479.66 L610.80 480.65 L612.30 481.62 L613.80 482.57 L615.30 483.50 L616.80 484.41 L618.30 485.29 L619.80 486.18 L621.30 487.07 L622.80 487.96 L624.30 488.83 L625.80 489.70 L627.30 490.55 L628.80 491.38 L630.30 492.19 L631.80 492.97 L633.30 493.73 L634.80 494.45 L636.30 495.14 L637.80 495.79 L639.30 496.41 L640.80 496.98 L642.30 497.57 L643.80 498.14 L645.30 498.68 L646.80 499.16 L648.30 499.54 L649.80 499.81 L651.30 499.97 L652.80 500.08 L654.30 500.18 L655.80 500.28 L657.30 500.42 L658.80 500.72 L660.30 501.40 L661.80 502.28 L663.30 503.17 L664.80 503.86 L666.30 504.16 L667.80 504.20 L669.30 504.24 L670.80 504.29 L672.30 504.33 L673.80 504.37 L675.30 504.45 L676.80 504.80 L678.30 505.34 L679.80 505.94 L681.30 506.48 L682.80 506.86 L684.30 507.13 L685.80 507.39 L687.30 507.64 L688.80 507.88 L690.30 508.10 L691.80 508.31 L693.30 508.51 L694.80 508.69 L696.30 508.85 L697.80 509.00 L699.30 509.12 L700.80 509.23 L702.30 509.34 L703.80 509.45 L705.30 509.57 L706.80 509.69 L708.30 509.82 L709.80 509.95 L711.30 510.09 L712.80 510.25 L714.30 510.41 L715.80 510.58 L717.30 510.80 L718.80 511.05 L720.30 511.33 L721.80 511.63 L723.30 511.95 L724.80 512.27 L726.30 512.61 L727.80 512.94 L729.30 513.27 L730.80 513.58 L732.30 513.88 L733.80 514.16 L735.30 514.41 L736.80 514.64 L738.30 514.85 L739.80 515.05 L741.30 515.25 L742.80 515.44 L744.30 515.62 L745.80 515.81 L747.30 516.00 L748.80 516.19 L750.30 516.39 L751.80 516.60 L753.30 516.81 L754.80 517.04 L756.30 517.29 L757.80 517.56 L759.30 517.86 L760.80 518.16 L762.30 518.48 L763.80 518.81 L765.30 519.15 L766.80 519.49 L768.30 519.82 L769.80 520.16 L771.30 520.48 L772.80 520.80 L774.30 521.11 L775.80 521.43 L777.30 521.75 L778.80 522.06 L780.30 522.38 L781.80 522.70 L783.30 523.02 L784.80 523.34 L786.30 523.66 L787.80 523.98 L789.30 524.30 L790.80 524.62 L792.30 524.94 L793.80 525.26 L795.30 525.58 L796.80 525.90 L798.30 526.23 L799.80 526.55 L801.30 526.87 L802.80 527.20 L803.70 527.39" stroke="#ff0000" stroke-width="1.00" fill="none" stroke-dasharray="7.2 2.4 1 2.5 1 2.5 1 2.15"/>
<path d="M529.30 442.30 L537.50 431.70 L545.20 433.20 L556.00 436.21 L557.50 437.59 L559.00 438.99 L560.50 440.40 L562.00 441.83 L563.50 443.26 L565.00 444.71 L566.50 446.15 L568.00 447.59 L569.50 449.02 L571.00 450.44 L572.50 451.84 L574.00 453.22 L575.50 454.57 L577.00 455.89 L578.50 457.17 L580.00 458.42 L581.50 459.64 L583.00 460.84 L584.50 462.02 L586.00 463.19 L587.50 464.34 L589.00 465.47 L590.50 466.60 L592.00 467.73 L593.50 468.85 L595.00 469.97 L596.50 471.09 L598.00 472.23 L599.50 473.37 L601.00 474.51 L602.50 475.66 L604.00 476.81 L605.50 477.96 L607.00 479.09 L608.50 480.22 L610.00 481.34 L611.50 482.44 L613.00 483.52 L614.50 484.59 L616.00 485.62 L617.50 486.64 L619.00 487.65 L620.50 488.66 L622.00 489.67 L623.50 490.68 L625.00 491.68 L626.50 492.67 L628.00 493.63 L629.50 494.58 L631.00 495.51 L632.50 496.40 L634.00 497.26 L635.50 498.09 L637.00 498.87 L638.50 499.61 L640.00 500.30 L641.50 500.98 L643.00 501.67 L644.50 502.34 L646.00 502.95 L647.50 503.46 L649.00 503.83 L650.50 504.04 L652.00 504.15 L653.50 504.23 L655.00 504.29 L656.50 504.39 L658.00 504.55 L659.50 505.15 L661.00 506.16 L662.50 507.31 L664.00 508.34 L665.50 509.00 L667.00 509.10 L668.50 509.10 L670.00 509.10 L671.50 509.10 L673.00 509.10 L674.50 509.10 L676.00 509.32 L677.50 509.88 L679.00 510.61 L680.50 511.35 L682.00 511.94 L683.50 512.29 L685.00 512.61 L686.50 512.90 L688.00 513.18 L689.50 513.45 L691.00 513.69 L692.50 513.90 L694.00 514.10 L695.50 514.27 L697.00 514.41 L698.50 514.52 L700.00 514.60 L701.50 514.66 L703.00 514.70 L704.50 514.74 L706.00 514.77 L707.50 514.80 L709.00 514.82 L710.50 514.85 L712.00 514.89 L713.50 514.93 L715.00 514.99 L716.50 515.07 L718.00 515.21 L719.50 515.39 L721.00 515.61 L722.50 515.86 L724.00 516.13 L725.50 516.42 L727.00 516.71 L728.50 517.00 L730.00 517.28 L731.50 517.55 L733.00 517.78 L734.50 517.99 L736.00 518.15 L737.50 518.29 L739.00 518.41 L740.50 518.53 L742.00 518.63 L743.50 518.73 L745.00 518.82 L746.50 518.92 L748.00 519.02 L749.50 519.12 L751.00 519.23 L752.50 519.36 L754.00 519.50 L755.50 519.66 L757.00 519.84 L758.50 520.06 L760.00 520.30 L761.50 520.56 L763.00 520.83 L764.50 521.11 L766.00 521.40 L767.50 521.69 L769.00 521.97 L770.50 522.24 L772.00 522.50 L773.50 522.76 L775.00 523.02 L776.50 523.28 L778.00 523.54 L779.50 523.80 L781.00 524.06 L782.50 524.32 L784.00 524.58 L785.50 524.84 L787.00 525.10 L788.50 525.36 L790.00 525.63 L791.50 525.89 L793.00 526.15 L794.50 526.41 L796.00 526.68 L797.50 526.94 L799.00 527.21 L800.50 527.47 L802.00 527.73 L803.50 528.00 L803.70 528.04" stroke="#ff0000" stroke-width="1.00" fill="none"/>
<path d="M502.90 358.86 L504.40 360.96 L505.90 363.02 L507.40 365.03 L508.90 366.98 L510.40 368.89 L511.90 370.74 L513.40 372.55 L514.90 374.31 L516.40 376.02 L517.90 377.68 L519.40 379.30 L520.90 380.88 L522.40 382.43 L523.90 383.95 L525.40 385.44 L526.90 386.92 L528.40 388.37 L529.90 389.81 L531.40 391.24 L532.90 392.65 L534.40 394.07 L535.90 395.47 L537.40 396.88 L538.90 398.29 L540.40 399.70 L541.90 401.11 L543.40 402.51 L544.90 403.90 L546.40 405.28 L547.90 406.66 L549.40 408.03 L550.90 409.40 L552.40 410.75 L553.90 412.10 L555.40 413.44 L556.90 414.77 L558.40 416.09 L559.90 417.40 L561.40 418.71 L562.90 420.01 L564.40 421.30 L565.90 422.59 L567.40 423.87 L568.90 425.14 L570.40 426.40 L571.90 427.66 L573.40 428.90 L574.90 430.13 L576.40 431.35 L577.90 432.56 L579.40 433.76 L580.90 434.94 L582.40 436.12 L583.90 437.28 L585.40 438.44 L586.90 439.59 L588.40 440.73 L589.90 441.86 L591.40 442.99 L592.90 444.12 L594.40 445.24 L595.90 446.36 L597.40 447.48 L598.90 448.60 L600.40 449.75 L601.90 450.90 L603.40 452.07 L604.90 453.23 L606.40 454.38 L607.90 455.52 L609.40 456.64 L610.90 457.72 L612.40 458.78 L613.90 459.78 L615.40 460.74 L616.90 461.64 L618.40 462.50 L619.90 463.34 L621.40 464.16 L622.90 464.96 L624.40 465.75 L625.90 466.51 L627.40 467.25 L628.90 467.97 L630.40 468.67 L631.90 469.35 L633.40 470.01 L634.90 470.64 L636.40 471.24 L637.90 471.83 L639.40 472.38 L640.90 472.92 L642.40 473.43 L643.90 473.92 L645.40 474.39 L646.90 474.85 L648.40 475.29 L649.90 475.71 L651.40 476.13 L652.90 476.54 L654.40 476.93 L655.90 477.33 L657.40 477.71 L658.90 478.10 L660.40 478.48 L661.90 478.86 L663.40 479.24 L664.90 479.63 L666.40 480.03 L667.90 480.43 L669.40 480.83 L670.90 481.25 L672.40 481.66 L673.90 482.07 L675.40 482.47 L676.90 482.88 L678.40 483.28 L679.90 483.67 L681.40 484.07 L682.90 484.47 L684.40 484.87 L685.90 485.28 L687.40 485.68 L688.90 486.09 L690.40 486.50 L691.90 486.92 L693.40 487.34 L694.90 487.78 L696.40 488.21 L697.90 488.66 L699.40 489.12 L700.90 489.58 L702.40 490.05 L703.90 490.53 L705.40 491.02 L706.90 491.52 L708.40 492.02 L709.90 492.53 L711.40 493.05 L712.90 493.57 L714.40 494.10 L715.90 494.64 L717.40 495.18 L718.90 495.73 L720.40 496.28 L721.90 496.84 L723.40 497.40 L724.90 497.96 L726.40 498.53 L727.90 499.12 L729.40 499.71 L730.90 500.30 L732.40 500.91 L733.90 501.52 L735.40 502.14 L736.90 502.77 L738.40 503.40 L739.90 504.03 L741.40 504.67 L742.90 505.31 L744.40 505.95 L745.90 506.60 L747.40 507.24 L748.90 507.89 L750.40 508.53 L751.90 509.18 L753.40 509.82 L754.90 510.46 L756.40 511.10 L757.90 511.75 L759.40 512.41 L760.90 513.07 L762.40 513.74 L763.90 514.40 L765.40 515.06 L766.90 515.71 L768.40 516.35 L769.90 516.98 L771.40 517.60 L772.90 518.21 L774.40 518.81 L775.90 519.41 L777.40 520.00 L778.90 520.59 L780.40 521.18 L781.90 521.76 L783.40 522.34 L784.90 522.91 L786.40 523.48 L787.90 524.05 L789.40 524.61 L790.90 525.16 L792.40 525.71 L793.90 526.26 L795.40 526.80 L796.90 527.33 L798.40 527.86 L799.90 528.38 L801.40 528.89 L802.90 529.40 L803.70 529.67" stroke="#000000" stroke-width="1.00" fill="none" stroke-dasharray="1.1 2.2"/>
<path d="M502.90 360.36 L504.40 362.37 L505.90 364.34 L507.40 366.25 L508.90 368.13 L510.40 369.95 L511.90 371.73 L513.40 373.47 L514.90 375.15 L516.40 376.80 L517.90 378.40 L519.40 379.98 L520.90 381.51 L522.40 383.02 L523.90 384.51 L525.40 385.98 L526.90 387.43 L528.40 388.87 L529.90 390.29 L531.40 391.71 L532.90 393.12 L534.40 394.53 L535.90 395.94 L537.40 397.34 L538.90 398.74 L540.40 400.15 L541.90 401.55 L543.40 402.94 L544.90 404.33 L546.40 405.72 L547.90 407.10 L549.40 408.47 L550.90 409.84 L552.40 411.20 L553.90 412.54 L555.40 413.89 L556.90 415.22 L558.40 416.54 L559.90 417.85 L561.40 419.16 L562.90 420.46 L564.40 421.75 L565.90 423.04 L567.40 424.32 L568.90 425.59 L570.40 426.85 L571.90 428.11 L573.40 429.35 L574.90 430.58 L576.40 431.80 L577.90 433.01 L579.40 434.21 L580.90 435.39 L582.40 436.57 L583.90 437.73 L585.40 438.88 L586.90 440.03 L588.40 441.17 L589.90 442.30 L591.40 443.43 L592.90 444.56 L594.40 445.68 L595.90 446.80 L597.40 447.93 L598.90 449.05 L600.40 450.20 L601.90 451.36 L603.40 452.52 L604.90 453.68 L606.40 454.83 L607.90 455.97 L609.40 457.09 L610.90 458.19 L612.40 459.26 L613.90 460.29 L615.40 461.28 L616.90 462.21 L618.40 463.12 L619.90 464.00 L621.40 464.87 L622.90 465.72 L624.40 466.55 L625.90 467.37 L627.40 468.16 L628.90 468.94 L630.40 469.70 L631.90 470.45 L633.40 471.17 L634.90 471.87 L636.40 472.56 L637.90 473.23 L639.40 473.87 L640.90 474.50 L642.40 475.11 L643.90 475.70 L645.40 476.28 L646.90 476.84 L648.40 477.39 L649.90 477.93 L651.40 478.46 L652.90 478.97 L654.40 479.48 L655.90 479.98 L657.40 480.48 L658.90 480.97 L660.40 481.46 L661.90 481.95 L663.40 482.43 L664.90 482.92 L666.40 483.40 L667.90 483.88 L669.40 484.36 L670.90 484.84 L672.40 485.31 L673.90 485.77 L675.40 486.22 L676.90 486.67 L678.40 487.11 L679.90 487.55 L681.40 487.98 L682.90 488.42 L684.40 488.87 L685.90 489.31 L687.40 489.76 L688.90 490.22 L690.40 490.67 L691.90 491.13 L693.40 491.59 L694.90 492.05 L696.40 492.51 L697.90 492.96 L699.40 493.42 L700.90 493.87 L702.40 494.32 L703.90 494.78 L705.40 495.23 L706.90 495.69 L708.40 496.15 L709.90 496.61 L711.40 497.08 L712.90 497.55 L714.40 498.02 L715.90 498.50 L717.40 498.98 L718.90 499.46 L720.40 499.95 L721.90 500.44 L723.40 500.94 L724.90 501.44 L726.40 501.96 L727.90 502.47 L729.40 503.00 L730.90 503.53 L732.40 504.07 L733.90 504.61 L735.40 505.16 L736.90 505.71 L738.40 506.26 L739.90 506.82 L741.40 507.39 L742.90 507.95 L744.40 508.52 L745.90 509.08 L747.40 509.65 L748.90 510.22 L750.40 510.79 L751.90 511.36 L753.40 511.92 L754.90 512.49 L756.40 513.06 L757.90 513.63 L759.40 514.21 L760.90 514.79 L762.40 515.38 L763.90 515.96 L765.40 516.54 L766.90 517.12 L768.40 517.69 L769.90 518.25 L771.40 518.80 L772.90 519.34 L774.40 519.89 L775.90 520.42 L777.40 520.96 L778.90 521.50 L780.40 522.03 L781.90 522.56 L783.40 523.08 L784.90 523.61 L786.40 524.13 L787.90 524.64 L789.40 525.16 L790.90 525.67 L792.40 526.17 L793.90 526.68 L795.40 527.18 L796.90 527.67 L798.40 528.16 L799.90 528.65 L801.40 529.13 L802.90 529.61 L803.70 529.86" stroke="#000000" stroke-width="1.00" fill="none" stroke-dasharray="4.8 4.55"/>
<path d="M502.90 361.87 L504.40 363.78 L505.90 365.65 L507.40 367.48 L508.90 369.27 L510.40 371.02 L511.90 372.72 L513.40 374.38 L514.90 376.00 L516.40 377.58 L517.90 379.13 L519.40 380.65 L520.90 382.15 L522.40 383.62 L523.90 385.08 L525.40 386.52 L526.90 387.94 L528.40 389.36 L529.90 390.78 L531.40 392.19 L532.90 393.59 L534.40 395.00 L535.90 396.40 L537.40 397.80 L538.90 399.19 L540.40 400.59 L541.90 401.99 L543.40 403.38 L544.90 404.77 L546.40 406.15 L547.90 407.54 L549.40 408.91 L550.90 410.28 L552.40 411.64 L553.90 412.99 L555.40 414.33 L556.90 415.67 L558.40 416.99 L559.90 418.30 L561.40 419.61 L562.90 420.91 L564.40 422.20 L565.90 423.49 L567.40 424.77 L568.90 426.04 L570.40 427.30 L571.90 428.56 L573.40 429.80 L574.90 431.03 L576.40 432.25 L577.90 433.46 L579.40 434.66 L580.90 435.84 L582.40 437.01 L583.90 438.17 L585.40 439.33 L586.90 440.47 L588.40 441.61 L589.90 442.74 L591.40 443.87 L592.90 445.00 L594.40 446.12 L595.90 447.25 L597.40 448.37 L598.90 449.51 L600.40 450.65 L601.90 451.81 L603.40 452.97 L604.90 454.13 L606.40 455.28 L607.90 456.42 L609.40 457.55 L610.90 458.66 L612.40 459.74 L613.90 460.79 L615.40 461.81 L616.90 462.79 L618.40 463.73 L619.90 464.66 L621.40 465.57 L622.90 466.47 L624.40 467.35 L625.90 468.22 L627.40 469.07 L628.90 469.91 L630.40 470.73 L631.90 471.54 L633.40 472.33 L634.90 473.11 L636.40 473.88 L637.90 474.62 L639.40 475.36 L640.90 476.08 L642.40 476.79 L643.90 477.48 L645.40 478.17 L646.90 478.84 L648.40 479.50 L649.90 480.15 L651.40 480.78 L652.90 481.41 L654.40 482.03 L655.90 482.64 L657.40 483.24 L658.90 483.84 L660.40 484.44 L661.90 485.03 L663.40 485.62 L664.90 486.20 L666.40 486.77 L667.90 487.34 L669.40 487.89 L670.90 488.43 L672.40 488.96 L673.90 489.47 L675.40 489.97 L676.90 490.46 L678.40 490.94 L679.90 491.42 L681.40 491.89 L682.90 492.37 L684.40 492.86 L685.90 493.35 L687.40 493.84 L688.90 494.34 L690.40 494.84 L691.90 495.34 L693.40 495.84 L694.90 496.32 L696.40 496.80 L697.90 497.27 L699.40 497.72 L700.90 498.16 L702.40 498.59 L703.90 499.02 L705.40 499.45 L706.90 499.86 L708.40 500.28 L709.90 500.70 L711.40 501.11 L712.90 501.52 L714.40 501.94 L715.90 502.35 L717.40 502.77 L718.90 503.19 L720.40 503.62 L721.90 504.05 L723.40 504.48 L724.90 504.93 L726.40 505.38 L727.90 505.83 L729.40 506.29 L730.90 506.76 L732.40 507.23 L733.90 507.70 L735.40 508.17 L736.90 508.65 L738.40 509.13 L739.90 509.62 L741.40 510.10 L742.90 510.59 L744.40 511.08 L745.90 511.57 L747.40 512.06 L748.90 512.55 L750.40 513.04 L751.90 513.54 L753.40 514.03 L754.90 514.52 L756.40 515.01 L757.90 515.51 L759.40 516.01 L760.90 516.51 L762.40 517.02 L763.90 517.52 L765.40 518.02 L766.90 518.52 L768.40 519.02 L769.90 519.51 L771.40 520.00 L772.90 520.48 L774.40 520.96 L775.90 521.44 L777.40 521.92 L778.90 522.40 L780.40 522.88 L781.90 523.35 L783.40 523.83 L784.90 524.30 L786.40 524.77 L787.90 525.24 L789.40 525.70 L790.90 526.17 L792.40 526.63 L793.90 527.09 L795.40 527.55 L796.90 528.01 L798.40 528.47 L799.90 528.92 L801.40 529.37 L802.90 529.82 L803.70 530.06" stroke="#000000" stroke-width="1.00" fill="none" stroke-dasharray="5 2.3 1 2.3"/>
<path d="M502.90 363.38 L504.40 365.19 L505.90 366.97 L507.40 368.71 L508.90 370.42 L510.40 372.09 L511.90 373.72 L513.40 375.30 L514.90 376.85 L516.40 378.36 L517.90 379.85 L519.40 381.32 L520.90 382.78 L522.40 384.22 L523.90 385.64 L525.40 387.05 L526.90 388.45 L528.40 389.86 L529.90 391.26 L531.40 392.66 L532.90 394.06 L534.40 395.46 L535.90 396.86 L537.40 398.25 L538.90 399.64 L540.40 401.03 L541.90 402.42 L543.40 403.81 L544.90 405.20 L546.40 406.59 L547.90 407.97 L549.40 409.35 L550.90 410.72 L552.40 412.08 L553.90 413.44 L555.40 414.78 L556.90 416.12 L558.40 417.44 L559.90 418.75 L561.40 420.06 L562.90 421.36 L564.40 422.65 L565.90 423.94 L567.40 425.22 L568.90 426.49 L570.40 427.75 L571.90 429.01 L573.40 430.25 L574.90 431.48 L576.40 432.70 L577.90 433.91 L579.40 435.11 L580.90 436.29 L582.40 437.46 L583.90 438.62 L585.40 439.77 L586.90 440.91 L588.40 442.05 L589.90 443.18 L591.40 444.31 L592.90 445.44 L594.40 446.57 L595.90 447.69 L597.40 448.82 L598.90 449.96 L600.40 451.11 L601.90 452.26 L603.40 453.42 L604.90 454.58 L606.40 455.73 L607.90 456.88 L609.40 458.01 L610.90 459.13 L612.40 460.22 L613.90 461.30 L615.40 462.34 L616.90 463.36 L618.40 464.35 L619.90 465.32 L621.40 466.28 L622.90 467.23 L624.40 468.16 L625.90 469.08 L627.40 469.98 L628.90 470.88 L630.40 471.76 L631.90 472.64 L633.40 473.50 L634.90 474.35 L636.40 475.19 L637.90 476.02 L639.40 476.85 L640.90 477.66 L642.40 478.47 L643.90 479.27 L645.40 480.06 L646.90 480.83 L648.40 481.60 L649.90 482.36 L651.40 483.11 L652.90 483.85 L654.40 484.57 L655.90 485.29 L657.40 486.00 L658.90 486.71 L660.40 487.42 L661.90 488.11 L663.40 488.80 L664.90 489.48 L666.40 490.15 L667.90 490.79 L669.40 491.42 L670.90 492.03 L672.40 492.61 L673.90 493.17 L675.40 493.72 L676.90 494.25 L678.40 494.77 L679.90 495.29 L681.40 495.81 L682.90 496.32 L684.40 496.85 L685.90 497.38 L687.40 497.93 L688.90 498.47 L690.40 499.01 L691.90 499.55 L693.40 500.08 L694.90 500.60 L696.40 501.10 L697.90 501.57 L699.40 502.03 L700.90 502.45 L702.40 502.87 L703.90 503.27 L705.40 503.66 L706.90 504.04 L708.40 504.41 L709.90 504.78 L711.40 505.14 L712.90 505.50 L714.40 505.85 L715.90 506.21 L717.40 506.57 L718.90 506.92 L720.40 507.29 L721.90 507.65 L723.40 508.03 L724.90 508.41 L726.40 508.80 L727.90 509.19 L729.40 509.59 L730.90 509.98 L732.40 510.38 L733.90 510.79 L735.40 511.19 L736.90 511.59 L738.40 512.00 L739.90 512.41 L741.40 512.82 L742.90 513.23 L744.40 513.64 L745.90 514.06 L747.40 514.47 L748.90 514.89 L750.40 515.30 L751.90 515.72 L753.40 516.13 L754.90 516.55 L756.40 516.96 L757.90 517.38 L759.40 517.81 L760.90 518.23 L762.40 518.65 L763.90 519.08 L765.40 519.50 L766.90 519.93 L768.40 520.35 L769.90 520.78 L771.40 521.20 L772.90 521.62 L774.40 522.04 L775.90 522.46 L777.40 522.88 L778.90 523.30 L780.40 523.73 L781.90 524.15 L783.40 524.57 L784.90 524.99 L786.40 525.41 L787.90 525.83 L789.40 526.25 L790.90 526.67 L792.40 527.09 L793.90 527.51 L795.40 527.93 L796.90 528.35 L798.40 528.77 L799.90 529.19 L801.40 529.61 L802.90 530.03 L803.70 530.26" stroke="#000000" stroke-width="1.00" fill="none" stroke-dasharray="7.2 2.4 1 2.5 1 2.5 1 2.15"/>
<path d="M511.70 386.10 L519.40 384.70 L524.00 387.50 L529.10 391.00 L530.60 392.39 L532.10 393.79 L533.60 395.18 L535.10 396.58 L536.60 397.97 L538.10 399.35 L539.60 400.74 L541.10 402.12 L542.60 403.51 L544.10 404.90 L545.60 406.29 L547.10 407.67 L548.60 409.05 L550.10 410.43 L551.60 411.80 L553.10 413.16 L554.60 414.51 L556.10 415.85 L557.60 417.18 L559.10 418.50 L560.60 419.81 L562.10 421.12 L563.60 422.42 L565.10 423.71 L566.60 424.99 L568.10 426.27 L569.60 427.53 L571.10 428.79 L572.60 430.04 L574.10 431.27 L575.60 432.50 L577.10 433.72 L578.60 434.92 L580.10 436.11 L581.60 437.28 L583.10 438.45 L584.60 439.60 L586.10 440.75 L587.60 441.89 L589.10 443.02 L590.60 444.15 L592.10 445.28 L593.60 446.41 L595.10 447.54 L596.60 448.67 L598.10 449.80 L599.60 450.95 L601.10 452.10 L602.60 453.25 L604.10 454.41 L605.60 455.57 L607.10 456.72 L608.60 457.86 L610.10 458.99 L611.60 460.12 L613.10 461.22 L614.60 462.31 L616.10 463.37 L617.60 464.41 L619.10 465.44 L620.60 466.45 L622.10 467.45 L623.60 468.44 L625.10 469.42 L626.60 470.38 L628.10 471.34 L629.60 472.29 L631.10 473.23 L632.60 474.17 L634.10 475.09 L635.60 476.02 L637.10 476.93 L638.60 477.85 L640.10 478.76 L641.60 479.67 L643.10 480.57 L644.60 481.47 L646.10 482.36 L647.60 483.24 L649.10 484.11 L650.60 484.98 L652.10 485.83 L653.60 486.68 L655.10 487.51 L656.60 488.33 L658.10 489.15 L659.60 489.96 L661.10 490.77 L662.60 491.57 L664.10 492.35 L665.60 493.12 L667.10 493.86 L668.60 494.58 L670.10 495.27 L671.60 495.92 L673.10 496.55 L674.60 497.15 L676.10 497.73 L677.60 498.30 L679.10 498.86 L680.60 499.42 L682.10 499.98 L683.60 500.54 L685.10 501.11 L686.60 501.69 L688.10 502.28 L689.60 502.87 L691.10 503.46 L692.60 504.03 L694.10 504.58 L695.60 505.12 L697.10 505.62 L698.60 506.09 L700.10 506.53 L701.60 506.93 L703.10 507.31 L704.60 507.68 L706.10 508.03 L707.60 508.36 L709.10 508.69 L710.60 509.00 L712.10 509.31 L713.60 509.61 L715.10 509.91 L716.60 510.20 L718.10 510.50 L719.60 510.79 L721.10 511.10 L722.60 511.40 L724.10 511.72 L725.60 512.04 L727.10 512.37 L728.60 512.70 L730.10 513.03 L731.60 513.36 L733.10 513.70 L734.60 514.03 L736.10 514.36 L737.60 514.69 L739.10 515.03 L740.60 515.36 L742.10 515.69 L743.60 516.03 L745.10 516.36 L746.60 516.70 L748.10 517.04 L749.60 517.38 L751.10 517.72 L752.60 518.05 L754.10 518.40 L755.60 518.74 L757.10 519.08 L758.60 519.42 L760.10 519.76 L761.60 520.11 L763.10 520.45 L764.60 520.80 L766.10 521.15 L767.60 521.50 L769.10 521.85 L770.60 522.21 L772.10 522.57 L773.60 522.93 L775.10 523.29 L776.60 523.65 L778.10 524.01 L779.60 524.38 L781.10 524.75 L782.60 525.11 L784.10 525.48 L785.60 525.85 L787.10 526.23 L788.60 526.60 L790.10 526.98 L791.60 527.35 L793.10 527.73 L794.60 528.11 L796.10 528.49 L797.60 528.88 L799.10 529.26 L800.60 529.65 L802.10 530.04 L803.60 530.43 L803.70 530.45" stroke="#000000" stroke-width="1.00" fill="none"/>
<path d="M502.90 330.14 L504.40 331.12 L505.90 332.16 L507.40 333.24 L508.90 334.38 L510.40 335.57 L511.90 336.80 L513.40 338.08 L514.90 339.40 L516.40 340.76 L517.90 342.16 L519.40 343.60 L520.90 345.11 L522.40 346.72 L523.90 348.41 L525.40 350.18 L526.90 352.01 L528.40 353.88 L529.90 355.78 L531.40 357.71 L532.90 359.63 L534.40 361.55 L535.90 363.45 L537.40 365.31 L538.90 367.12 L540.40 368.92 L541.90 370.76 L543.40 372.60 L544.90 374.43 L546.40 376.25 L547.90 378.03 L549.40 379.75 L550.90 381.42 L552.40 383.00 L553.90 384.49 L555.40 385.90 L556.90 387.25 L558.40 388.59 L559.90 389.91 L561.40 391.21 L562.90 392.49 L564.40 393.76 L565.90 395.02 L567.40 396.26 L568.90 397.49 L570.40 398.72 L571.90 399.93 L573.40 401.14 L574.90 402.35 L576.40 403.56 L577.90 404.76 L579.40 405.96 L580.90 407.16 L582.40 408.35 L583.90 409.53 L585.40 410.71 L586.90 411.88 L588.40 413.05 L589.90 414.21 L591.40 415.36 L592.90 416.51 L594.40 417.65 L595.90 418.78 L597.40 419.90 L598.90 421.01 L600.40 422.12 L601.90 423.23 L603.40 424.33 L604.90 425.42 L606.40 426.50 L607.90 427.58 L609.40 428.65 L610.90 429.71 L612.40 430.77 L613.90 431.81 L615.40 432.85 L616.90 433.87 L618.40 434.89 L619.90 435.90 L621.40 436.90 L622.90 437.89 L624.40 438.88 L625.90 439.86 L627.40 440.83 L628.90 441.79 L630.40 442.75 L631.90 443.71 L633.40 444.66 L634.90 445.60 L636.40 446.54 L637.90 447.47 L639.40 448.40 L640.90 449.32 L642.40 450.24 L643.90 451.16 L645.40 452.06 L646.90 452.97 L648.40 453.86 L649.90 454.75 L651.40 455.63 L652.90 456.51 L654.40 457.38 L655.90 458.24 L657.40 459.10 L658.90 459.94 L660.40 460.78 L661.90 461.61 L663.40 462.44 L664.90 463.25 L666.40 464.07 L667.90 464.87 L669.40 465.68 L670.90 466.48 L672.40 467.28 L673.90 468.08 L675.40 468.87 L676.90 469.64 L678.40 470.40 L679.90 471.14 L681.40 471.86 L682.90 472.57 L684.40 473.27 L685.90 473.96 L687.40 474.64 L688.90 475.31 L690.40 475.98 L691.90 476.65 L693.40 477.31 L694.90 477.97 L696.40 478.64 L697.90 479.31 L699.40 479.98 L700.90 480.66 L702.40 481.35 L703.90 482.05 L705.40 482.75 L706.90 483.47 L708.40 484.19 L709.90 484.91 L711.40 485.64 L712.90 486.38 L714.40 487.11 L715.90 487.85 L717.40 488.59 L718.90 489.33 L720.40 490.07 L721.90 490.82 L723.40 491.56 L724.90 492.30 L726.40 493.03 L727.90 493.77 L729.40 494.50 L730.90 495.23 L732.40 495.95 L733.90 496.66 L735.40 497.37 L736.90 498.07 L738.40 498.77 L739.90 499.46 L741.40 500.14 L742.90 500.82 L744.40 501.50 L745.90 502.17 L747.40 502.83 L748.90 503.50 L750.40 504.16 L751.90 504.82 L753.40 505.47 L754.90 506.13 L756.40 506.78 L757.90 507.44 L759.40 508.09 L760.90 508.75 L762.40 509.41 L763.90 510.07 L765.40 510.73 L766.90 511.39 L768.40 512.06 L769.90 512.73 L771.40 513.40 L772.90 514.08 L774.40 514.75 L775.90 515.43 L777.40 516.11 L778.90 516.79 L780.40 517.48 L781.90 518.16 L783.40 518.84 L784.90 519.53 L786.40 520.21 L787.90 520.90 L789.40 521.59 L790.90 522.28 L792.40 522.97 L793.90 523.66 L795.40 524.35 L796.90 525.04 L798.40 525.73 L799.90 526.43 L801.40 527.12 L802.90 527.82 L803.70 528.19" stroke="#0000ff" stroke-width="1.00" fill="none" stroke-dasharray="1.1 2.2"/>
<path d="M502.90 339.09 L504.40 339.65 L505.90 340.27 L507.40 340.95 L508.90 341.70 L510.40 342.51 L511.90 343.39 L513.40 344.30 L514.90 345.26 L516.40 346.27 L517.90 347.31 L519.40 348.41 L520.90 349.60 L522.40 350.93 L523.90 352.36 L525.40 353.88 L526.90 355.45 L528.40 357.05 L529.90 358.71 L531.40 360.41 L532.90 362.15 L534.40 363.89 L535.90 365.62 L537.40 367.33 L538.90 369.00 L540.40 370.66 L541.90 372.34 L543.40 374.05 L544.90 375.75 L546.40 377.45 L547.90 379.12 L549.40 380.75 L550.90 382.33 L552.40 383.85 L553.90 385.30 L555.40 386.69 L556.90 388.03 L558.40 389.35 L559.90 390.65 L561.40 391.94 L562.90 393.22 L564.40 394.48 L565.90 395.74 L567.40 396.98 L568.90 398.22 L570.40 399.44 L571.90 400.66 L573.40 401.88 L574.90 403.09 L576.40 404.29 L577.90 405.50 L579.40 406.70 L580.90 407.89 L582.40 409.08 L583.90 410.27 L585.40 411.45 L586.90 412.62 L588.40 413.79 L589.90 414.95 L591.40 416.10 L592.90 417.24 L594.40 418.38 L595.90 419.51 L597.40 420.63 L598.90 421.75 L600.40 422.86 L601.90 423.96 L603.40 425.06 L604.90 426.16 L606.40 427.24 L607.90 428.32 L609.40 429.39 L610.90 430.45 L612.40 431.50 L613.90 432.55 L615.40 433.58 L616.90 434.61 L618.40 435.63 L619.90 436.63 L621.40 437.64 L622.90 438.63 L624.40 439.61 L625.90 440.59 L627.40 441.56 L628.90 442.53 L630.40 443.49 L631.90 444.44 L633.40 445.39 L634.90 446.34 L636.40 447.27 L637.90 448.21 L639.40 449.14 L640.90 450.06 L642.40 450.98 L643.90 451.89 L645.40 452.80 L646.90 453.70 L648.40 454.60 L649.90 455.49 L651.40 456.37 L652.90 457.25 L654.40 458.12 L655.90 458.98 L657.40 459.83 L658.90 460.68 L660.40 461.52 L661.90 462.35 L663.40 463.17 L664.90 463.99 L666.40 464.80 L667.90 465.61 L669.40 466.42 L670.90 467.22 L672.40 468.02 L673.90 468.82 L675.40 469.60 L676.90 470.38 L678.40 471.14 L679.90 471.88 L681.40 472.60 L682.90 473.31 L684.40 474.01 L685.90 474.70 L687.40 475.38 L688.90 476.05 L690.40 476.72 L691.90 477.38 L693.40 478.05 L694.90 478.71 L696.40 479.37 L697.90 480.04 L699.40 480.72 L700.90 481.40 L702.40 482.08 L703.90 482.78 L705.40 483.49 L706.90 484.20 L708.40 484.92 L709.90 485.65 L711.40 486.38 L712.90 487.11 L714.40 487.85 L715.90 488.59 L717.40 489.33 L718.90 490.07 L720.40 490.81 L721.90 491.55 L723.40 492.29 L724.90 493.03 L726.40 493.77 L727.90 494.50 L729.40 495.23 L730.90 495.96 L732.40 496.68 L733.90 497.40 L735.40 498.11 L736.90 498.81 L738.40 499.51 L739.90 500.20 L741.40 500.88 L742.90 501.56 L744.40 502.23 L745.90 502.90 L747.40 503.57 L748.90 504.23 L750.40 504.89 L751.90 505.55 L753.40 506.21 L754.90 506.86 L756.40 507.52 L757.90 508.17 L759.40 508.83 L760.90 509.49 L762.40 510.14 L763.90 510.80 L765.40 511.46 L766.90 512.13 L768.40 512.79 L769.90 513.46 L771.40 514.14 L772.90 514.81 L774.40 515.49 L775.90 516.17 L777.40 516.85 L778.90 517.53 L780.40 518.21 L781.90 518.89 L783.40 519.58 L784.90 520.26 L786.40 520.95 L787.90 521.64 L789.40 522.32 L790.90 523.01 L792.40 523.70 L793.90 524.39 L795.40 525.08 L796.90 525.78 L798.40 526.47 L799.90 527.17 L801.40 527.86 L802.90 528.56 L803.70 528.93" stroke="#0000ff" stroke-width="1.00" fill="none" stroke-dasharray="4.8 4.55"/>
<path d="M502.90 348.04 L504.40 348.19 L505.90 348.39 L507.40 348.66 L508.90 349.01 L510.40 349.45 L511.90 349.97 L513.40 350.53 L514.90 351.12 L516.40 351.77 L517.90 352.46 L519.40 353.21 L520.90 354.09 L522.40 355.14 L523.90 356.31 L525.40 357.58 L526.90 358.89 L528.40 360.23 L529.90 361.64 L531.40 363.12 L532.90 364.66 L534.40 366.22 L535.90 367.80 L537.40 369.35 L538.90 370.87 L540.40 372.39 L541.90 373.93 L543.40 375.50 L544.90 377.07 L546.40 378.65 L547.90 380.21 L549.40 381.74 L550.90 383.25 L552.40 384.71 L553.90 386.12 L555.40 387.48 L556.90 388.80 L558.40 390.10 L559.90 391.39 L561.40 392.68 L562.90 393.95 L564.40 395.21 L565.90 396.46 L567.40 397.70 L568.90 398.94 L570.40 400.17 L571.90 401.39 L573.40 402.61 L574.90 403.82 L576.40 405.03 L577.90 406.23 L579.40 407.43 L580.90 408.63 L582.40 409.82 L583.90 411.00 L585.40 412.18 L586.90 413.35 L588.40 414.52 L589.90 415.68 L591.40 416.83 L592.90 417.98 L594.40 419.12 L595.90 420.25 L597.40 421.37 L598.90 422.49 L600.40 423.60 L601.90 424.70 L603.40 425.80 L604.90 426.89 L606.40 427.98 L607.90 429.05 L609.40 430.12 L610.90 431.19 L612.40 432.24 L613.90 433.28 L615.40 434.32 L616.90 435.34 L618.40 436.36 L619.90 437.37 L621.40 438.37 L622.90 439.36 L624.40 440.35 L625.90 441.33 L627.40 442.30 L628.90 443.27 L630.40 444.23 L631.90 445.18 L633.40 446.13 L634.90 447.07 L636.40 448.01 L637.90 448.94 L639.40 449.87 L640.90 450.80 L642.40 451.71 L643.90 452.63 L645.40 453.54 L646.90 454.44 L648.40 455.33 L649.90 456.22 L651.40 457.11 L652.90 457.98 L654.40 458.85 L655.90 459.71 L657.40 460.57 L658.90 461.42 L660.40 462.25 L661.90 463.08 L663.40 463.91 L664.90 464.73 L666.40 465.54 L667.90 466.35 L669.40 467.15 L670.90 467.95 L672.40 468.76 L673.90 469.55 L675.40 470.34 L676.90 471.12 L678.40 471.88 L679.90 472.61 L681.40 473.34 L682.90 474.05 L684.40 474.74 L685.90 475.43 L687.40 476.11 L688.90 476.78 L690.40 477.45 L691.90 478.12 L693.40 478.78 L694.90 479.44 L696.40 480.11 L697.90 480.78 L699.40 481.45 L700.90 482.13 L702.40 482.82 L703.90 483.52 L705.40 484.23 L706.90 484.94 L708.40 485.66 L709.90 486.38 L711.40 487.11 L712.90 487.85 L714.40 488.58 L715.90 489.32 L717.40 490.06 L718.90 490.80 L720.40 491.55 L721.90 492.29 L723.40 493.03 L724.90 493.77 L726.40 494.51 L727.90 495.24 L729.40 495.97 L730.90 496.70 L732.40 497.42 L733.90 498.13 L735.40 498.84 L736.90 499.55 L738.40 500.24 L739.90 500.93 L741.40 501.61 L742.90 502.29 L744.40 502.97 L745.90 503.64 L747.40 504.30 L748.90 504.97 L750.40 505.63 L751.90 506.29 L753.40 506.94 L754.90 507.60 L756.40 508.26 L757.90 508.91 L759.40 509.57 L760.90 510.22 L762.40 510.88 L763.90 511.54 L765.40 512.20 L766.90 512.86 L768.40 513.53 L769.90 514.20 L771.40 514.87 L772.90 515.55 L774.40 516.23 L775.90 516.91 L777.40 517.59 L778.90 518.27 L780.40 518.95 L781.90 519.63 L783.40 520.31 L784.90 521.00 L786.40 521.69 L787.90 522.37 L789.40 523.06 L790.90 523.75 L792.40 524.44 L793.90 525.13 L795.40 525.82 L796.90 526.51 L798.40 527.21 L799.90 527.90 L801.40 528.60 L802.90 529.29 L803.70 529.66" stroke="#0000ff" stroke-width="1.00" fill="none" stroke-dasharray="5 2.3 1 2.3"/>
<path d="M502.90 358.55 L504.40 358.20 L505.90 357.92 L507.40 357.71 L508.90 357.59 L510.40 357.59 L511.90 357.69 L513.40 357.83 L514.90 358.00 L516.40 358.22 L517.90 358.50 L519.40 358.86 L520.90 359.37 L522.40 360.08 L523.90 360.95 L525.40 361.92 L526.90 362.94 L528.40 363.96 L529.90 365.08 L531.40 366.30 L532.90 367.61 L534.40 368.97 L535.90 370.35 L537.40 371.73 L538.90 373.07 L540.40 374.42 L541.90 375.80 L543.40 377.20 L544.90 378.62 L546.40 380.05 L547.90 381.49 L549.40 382.91 L550.90 384.32 L552.40 385.71 L553.90 387.07 L555.40 388.40 L556.90 389.71 L558.40 390.99 L559.90 392.27 L561.40 393.54 L562.90 394.80 L564.40 396.05 L565.90 397.30 L567.40 398.55 L568.90 399.79 L570.40 401.02 L571.90 402.25 L573.40 403.47 L574.90 404.68 L576.40 405.89 L577.90 407.10 L579.40 408.29 L580.90 409.49 L582.40 410.68 L583.90 411.86 L585.40 413.04 L586.90 414.22 L588.40 415.38 L589.90 416.54 L591.40 417.70 L592.90 418.84 L594.40 419.98 L595.90 421.11 L597.40 422.23 L598.90 423.35 L600.40 424.46 L601.90 425.56 L603.40 426.66 L604.90 427.76 L606.40 428.84 L607.90 429.92 L609.40 430.99 L610.90 432.05 L612.40 433.10 L613.90 434.15 L615.40 435.18 L616.90 436.21 L618.40 437.23 L619.90 438.23 L621.40 439.24 L622.90 440.23 L624.40 441.21 L625.90 442.19 L627.40 443.16 L628.90 444.13 L630.40 445.09 L631.90 446.04 L633.40 446.99 L634.90 447.94 L636.40 448.87 L637.90 449.81 L639.40 450.74 L640.90 451.66 L642.40 452.58 L643.90 453.49 L645.40 454.40 L646.90 455.30 L648.40 456.20 L649.90 457.09 L651.40 457.97 L652.90 458.85 L654.40 459.72 L655.90 460.58 L657.40 461.43 L658.90 462.28 L660.40 463.12 L661.90 463.95 L663.40 464.77 L664.90 465.59 L666.40 466.40 L667.90 467.21 L669.40 468.02 L670.90 468.82 L672.40 469.62 L673.90 470.42 L675.40 471.20 L676.90 471.98 L678.40 472.74 L679.90 473.48 L681.40 474.20 L682.90 474.91 L684.40 475.61 L685.90 476.30 L687.40 476.98 L688.90 477.65 L690.40 478.32 L691.90 478.98 L693.40 479.65 L694.90 480.31 L696.40 480.97 L697.90 481.64 L699.40 482.32 L700.90 483.00 L702.40 483.68 L703.90 484.38 L705.40 485.09 L706.90 485.80 L708.40 486.52 L709.90 487.25 L711.40 487.98 L712.90 488.71 L714.40 489.45 L715.90 490.19 L717.40 490.93 L718.90 491.67 L720.40 492.41 L721.90 493.15 L723.40 493.89 L724.90 494.63 L726.40 495.37 L727.90 496.10 L729.40 496.83 L730.90 497.56 L732.40 498.28 L733.90 499.00 L735.40 499.71 L736.90 500.41 L738.40 501.11 L739.90 501.80 L741.40 502.48 L742.90 503.16 L744.40 503.83 L745.90 504.50 L747.40 505.17 L748.90 505.83 L750.40 506.49 L751.90 507.15 L753.40 507.81 L754.90 508.46 L756.40 509.12 L757.90 509.77 L759.40 510.43 L760.90 511.09 L762.40 511.74 L763.90 512.40 L765.40 513.06 L766.90 513.73 L768.40 514.39 L769.90 515.06 L771.40 515.74 L772.90 516.41 L774.40 517.09 L775.90 517.77 L777.40 518.45 L778.90 519.13 L780.40 519.81 L781.90 520.49 L783.40 521.18 L784.90 521.86 L786.40 522.55 L787.90 523.24 L789.40 523.92 L790.90 524.61 L792.40 525.30 L793.90 525.99 L795.40 526.68 L796.90 527.38 L798.40 528.07 L799.90 528.77 L801.40 529.46 L802.90 530.16 L803.70 530.53" stroke="#0000ff" stroke-width="1.00" fill="none" stroke-dasharray="7.2 2.4 1 2.5 1 2.5 1 2.15"/>
<path d="M502.90 369.06 L504.40 368.22 L505.90 367.45 L507.40 366.76 L508.90 366.18 L510.40 365.73 L511.90 365.42 L513.40 365.14 L514.90 364.88 L516.40 364.68 L517.90 364.55 L519.40 364.50 L520.90 364.64 L522.40 365.03 L523.90 365.59 L525.40 366.26 L526.90 366.98 L528.40 367.69 L529.90 368.52 L531.40 369.48 L532.90 370.56 L534.40 371.71 L535.90 372.90 L537.40 374.10 L538.90 375.28 L540.40 376.45 L541.90 377.67 L543.40 378.91 L544.90 380.17 L546.40 381.46 L547.90 382.77 L549.40 384.08 L550.90 385.40 L552.40 386.71 L553.90 388.03 L555.40 389.33 L556.90 390.62 L558.40 391.88 L559.90 393.14 L561.40 394.40 L562.90 395.65 L564.40 396.90 L565.90 398.15 L567.40 399.39 L568.90 400.64 L570.40 401.87 L571.90 403.10 L573.40 404.33 L574.90 405.55 L576.40 406.76 L577.90 407.96 L579.40 409.16 L580.90 410.35 L582.40 411.54 L583.90 412.73 L585.40 413.91 L586.90 415.08 L588.40 416.25 L589.90 417.41 L591.40 418.56 L592.90 419.71 L594.40 420.85 L595.90 421.98 L597.40 423.10 L598.90 424.21 L600.40 425.32 L601.90 426.43 L603.40 427.53 L604.90 428.62 L606.40 429.70 L607.90 430.78 L609.40 431.85 L610.90 432.91 L612.40 433.97 L613.90 435.01 L615.40 436.05 L616.90 437.07 L618.40 438.09 L619.90 439.10 L621.40 440.10 L622.90 441.09 L624.40 442.08 L625.90 443.06 L627.40 444.03 L628.90 444.99 L630.40 445.95 L631.90 446.91 L633.40 447.86 L634.90 448.80 L636.40 449.74 L637.90 450.67 L639.40 451.60 L640.90 452.52 L642.40 453.44 L643.90 454.36 L645.40 455.26 L646.90 456.17 L648.40 457.06 L649.90 457.95 L651.40 458.83 L652.90 459.71 L654.40 460.58 L655.90 461.44 L657.40 462.30 L658.90 463.14 L660.40 463.98 L661.90 464.81 L663.40 465.64 L664.90 466.45 L666.40 467.27 L667.90 468.07 L669.40 468.88 L670.90 469.68 L672.40 470.48 L673.90 471.28 L675.40 472.07 L676.90 472.84 L678.40 473.60 L679.90 474.34 L681.40 475.06 L682.90 475.77 L684.40 476.47 L685.90 477.16 L687.40 477.84 L688.90 478.51 L690.40 479.18 L691.90 479.85 L693.40 480.51 L694.90 481.17 L696.40 481.84 L697.90 482.51 L699.40 483.18 L700.90 483.86 L702.40 484.55 L703.90 485.25 L705.40 485.95 L706.90 486.67 L708.40 487.39 L709.90 488.11 L711.40 488.84 L712.90 489.58 L714.40 490.31 L715.90 491.05 L717.40 491.79 L718.90 492.53 L720.40 493.27 L721.90 494.02 L723.40 494.76 L724.90 495.50 L726.40 496.23 L727.90 496.97 L729.40 497.70 L730.90 498.43 L732.40 499.15 L733.90 499.86 L735.40 500.57 L736.90 501.27 L738.40 501.97 L739.90 502.66 L741.40 503.34 L742.90 504.02 L744.40 504.70 L745.90 505.37 L747.40 506.03 L748.90 506.70 L750.40 507.36 L751.90 508.02 L753.40 508.67 L754.90 509.33 L756.40 509.98 L757.90 510.64 L759.40 511.29 L760.90 511.95 L762.40 512.61 L763.90 513.27 L765.40 513.93 L766.90 514.59 L768.40 515.26 L769.90 515.93 L771.40 516.60 L772.90 517.28 L774.40 517.95 L775.90 518.63 L777.40 519.31 L778.90 519.99 L780.40 520.68 L781.90 521.36 L783.40 522.04 L784.90 522.73 L786.40 523.41 L787.90 524.10 L789.40 524.79 L790.90 525.48 L792.40 526.17 L793.90 526.86 L795.40 527.55 L796.90 528.24 L798.40 528.93 L799.90 529.63 L801.40 530.32 L802.90 531.02 L803.70 531.39" stroke="#0000ff" stroke-width="1.00" fill="none"/>
</g>
<rect x="87.90" y="26.70" width="300.80" height="212.50" fill="none" stroke="#000" stroke-width="0.95"/>
<path d="M96.49 239.20v-2.20M96.49 26.70v2.20M105.09 239.20v-2.20M105.09 26.70v2.20M113.68 239.20v-2.20M113.68 26.70v2.20M122.28 239.20v-2.20M122.28 26.70v2.20M130.87 239.20v-4.30M130.87 26.70v4.30M139.47 239.20v-2.20M139.47 26.70v2.20M148.06 239.20v-2.20M148.06 26.70v2.20M156.65 239.20v-2.20M156.65 26.70v2.20M165.25 239.20v-2.20M165.25 26.70v2.20M173.84 239.20v-4.30M173.84 26.70v4.30M182.44 239.20v-2.20M182.44 26.70v2.20M191.03 239.20v-2.20M191.03 26.70v2.20M199.63 239.20v-2.20M199.63 26.70v2.20M208.22 239.20v-2.20M208.22 26.70v2.20M216.81 239.20v-4.30M216.81 26.70v4.30M225.41 239.20v-2.20M225.41 26.70v2.20M234.00 239.20v-2.20M234.00 26.70v2.20M242.60 239.20v-2.20M242.60 26.70v2.20M251.19 239.20v-2.20M251.19 26.70v2.20M259.79 239.20v-4.30M259.79 26.70v4.30M268.38 239.20v-2.20M268.38 26.70v2.20M276.97 239.20v-2.20M276.97 26.70v2.20M285.57 239.20v-2.20M285.57 26.70v2.20M294.16 239.20v-2.20M294.16 26.70v2.20M302.76 239.20v-4.30M302.76 26.70v4.30M311.35 239.20v-2.20M311.35 26.70v2.20M319.95 239.20v-2.20M319.95 26.70v2.20M328.54 239.20v-2.20M328.54 26.70v2.20M337.13 239.20v-2.20M337.13 26.70v2.20M345.73 239.20v-4.30M345.73 26.70v4.30M354.32 239.20v-2.20M354.32 26.70v2.20M362.92 239.20v-2.20M362.92 26.70v2.20M371.51 239.20v-2.20M371.51 26.70v2.20M380.11 239.20v-2.20M380.11 26.70v2.20M87.90 236.01h3.00M388.70 236.01h-3.00M87.90 230.56h3.00M388.70 230.56h-3.00M87.90 225.10h6.00M388.70 225.10h-6.00M87.90 219.64h3.00M388.70 219.64h-3.00M87.90 214.19h3.00M388.70 214.19h-3.00M87.90 208.73h3.00M388.70 208.73h-3.00M87.90 203.27h3.00M388.70 203.27h-3.00M87.90 197.81h3.00M388.70 197.81h-3.00M87.90 192.36h3.00M388.70 192.36h-3.00M87.90 186.90h3.00M388.70 186.90h-3.00M87.90 181.44h3.00M388.70 181.44h-3.00M87.90 175.99h3.00M388.70 175.99h-3.00M87.90 170.53h6.00M388.70 170.53h-6.00M87.90 165.07h3.00M388.70 165.07h-3.00M87.90 159.62h3.00M388.70 159.62h-3.00M87.90 154.16h3.00M388.70 154.16h-3.00M87.90 148.70h3.00M388.70 148.70h-3.00M87.90 143.25h3.00M388.70 143.25h-3.00M87.90 137.79h3.00M388.70 137.79h-3.00M87.90 132.33h3.00M388.70 132.33h-3.00M87.90 126.87h3.00M388.70 126.87h-3.00M87.90 121.42h3.00M388.70 121.42h-3.00M87.90 115.96h6.00M388.70 115.96h-6.00M87.90 110.50h3.00M388.70 110.50h-3.00M87.90 105.05h3.00M388.70 105.05h-3.00M87.90 99.59h3.00M388.70 99.59h-3.00M87.90 94.13h3.00M388.70 94.13h-3.00M87.90 88.67h3.00M388.70 88.67h-3.00M87.90 83.22h3.00M388.70 83.22h-3.00M87.90 77.76h3.00M388.70 77.76h-3.00M87.90 72.30h3.00M388.70 72.30h-3.00M87.90 66.85h3.00M388.70 66.85h-3.00M87.90 61.39h6.00M388.70 61.39h-6.00M87.90 55.93h3.00M388.70 55.93h-3.00M87.90 50.48h3.00M388.70 50.48h-3.00M87.90 45.02h3.00M388.70 45.02h-3.00M87.90 39.56h3.00M388.70 39.56h-3.00M87.90 34.10h3.00M388.70 34.10h-3.00M87.90 28.65h3.00M388.70 28.65h-3.00" stroke="#000" stroke-width="0.92" fill="none"/>
<text x="83.40" y="67.00" text-anchor="end" font-size="16.60">3.3</text>
<text x="83.40" y="121.50" text-anchor="end" font-size="16.60">3.2</text>
<text x="83.40" y="176.10" text-anchor="end" font-size="16.60">3.1</text>
<text x="83.40" y="230.70" text-anchor="end" font-size="16.60">3.0</text>
<text x="88.20" y="260.60" text-anchor="middle" font-size="16.60">4000</text>
<text x="131.17" y="260.60" text-anchor="middle" font-size="16.60">4500</text>
<text x="174.14" y="260.60" text-anchor="middle" font-size="16.60">5000</text>
<text x="217.11" y="260.60" text-anchor="middle" font-size="16.60">5500</text>
<text x="260.09" y="260.60" text-anchor="middle" font-size="16.60">6000</text>
<text x="303.06" y="260.60" text-anchor="middle" font-size="16.60">6500</text>
<text x="346.03" y="260.60" text-anchor="middle" font-size="16.60">7000</text>
<text x="389.00" y="260.60" text-anchor="middle" font-size="16.60">7500</text>
<text x="214.50" y="278.60" font-size="16.60"><tspan font-style="italic">T</tspan><tspan font-size="10.10" dy="3.9" dx="0.1">eff</tspan><tspan dy="-3.9" dx="0.9"> [K]</tspan></text>
<g transform="translate(49.00 142.55) rotate(-90)">
<text x="-0.4" y="0" font-size="17.26" font-style="italic">V</text>
<text x="0.0" y="-7.4" font-size="13.28">~</text>
<text x="10.6" y="-7.1" font-size="10.10">2</text>
<text x="9.2" y="5.2" font-size="10.10">tot</text>
</g>
<rect x="502.90" y="26.70" width="300.80" height="212.50" fill="none" stroke="#000" stroke-width="0.95"/>
<path d="M511.49 239.20v-2.20M511.49 26.70v2.20M520.09 239.20v-2.20M520.09 26.70v2.20M528.68 239.20v-2.20M528.68 26.70v2.20M537.28 239.20v-2.20M537.28 26.70v2.20M545.87 239.20v-4.30M545.87 26.70v4.30M554.47 239.20v-2.20M554.47 26.70v2.20M563.06 239.20v-2.20M563.06 26.70v2.20M571.65 239.20v-2.20M571.65 26.70v2.20M580.25 239.20v-2.20M580.25 26.70v2.20M588.84 239.20v-4.30M588.84 26.70v4.30M597.44 239.20v-2.20M597.44 26.70v2.20M606.03 239.20v-2.20M606.03 26.70v2.20M614.63 239.20v-2.20M614.63 26.70v2.20M623.22 239.20v-2.20M623.22 26.70v2.20M631.81 239.20v-4.30M631.81 26.70v4.30M640.41 239.20v-2.20M640.41 26.70v2.20M649.00 239.20v-2.20M649.00 26.70v2.20M657.60 239.20v-2.20M657.60 26.70v2.20M666.19 239.20v-2.20M666.19 26.70v2.20M674.79 239.20v-4.30M674.79 26.70v4.30M683.38 239.20v-2.20M683.38 26.70v2.20M691.97 239.20v-2.20M691.97 26.70v2.20M700.57 239.20v-2.20M700.57 26.70v2.20M709.16 239.20v-2.20M709.16 26.70v2.20M717.76 239.20v-4.30M717.76 26.70v4.30M726.35 239.20v-2.20M726.35 26.70v2.20M734.95 239.20v-2.20M734.95 26.70v2.20M743.54 239.20v-2.20M743.54 26.70v2.20M752.13 239.20v-2.20M752.13 26.70v2.20M760.73 239.20v-4.30M760.73 26.70v4.30M769.32 239.20v-2.20M769.32 26.70v2.20M777.92 239.20v-2.20M777.92 26.70v2.20M786.51 239.20v-2.20M786.51 26.70v2.20M795.11 239.20v-2.20M795.11 26.70v2.20M502.90 238.53h3.00M803.70 238.53h-3.00M502.90 231.64h3.00M803.70 231.64h-3.00M502.90 224.75h3.00M803.70 224.75h-3.00M502.90 217.86h6.00M803.70 217.86h-6.00M502.90 210.97h3.00M803.70 210.97h-3.00M502.90 204.08h3.00M803.70 204.08h-3.00M502.90 197.19h3.00M803.70 197.19h-3.00M502.90 190.30h6.00M803.70 190.30h-6.00M502.90 183.41h3.00M803.70 183.41h-3.00M502.90 176.52h3.00M803.70 176.52h-3.00M502.90 169.63h3.00M803.70 169.63h-3.00M502.90 162.74h6.00M803.70 162.74h-6.00M502.90 155.85h3.00M803.70 155.85h-3.00M502.90 148.96h3.00M803.70 148.96h-3.00M502.90 142.07h3.00M803.70 142.07h-3.00M502.90 135.18h6.00M803.70 135.18h-6.00M502.90 128.29h3.00M803.70 128.29h-3.00M502.90 121.40h3.00M803.70 121.40h-3.00M502.90 114.51h3.00M803.70 114.51h-3.00M502.90 107.62h6.00M803.70 107.62h-6.00M502.90 100.73h3.00M803.70 100.73h-3.00M502.90 93.84h3.00M803.70 93.84h-3.00M502.90 86.95h3.00M803.70 86.95h-3.00M502.90 80.06h6.00M803.70 80.06h-6.00M502.90 73.17h3.00M803.70 73.17h-3.00M502.90 66.28h3.00M803.70 66.28h-3.00M502.90 59.39h3.00M803.70 59.39h-3.00M502.90 52.50h6.00M803.70 52.50h-6.00M502.90 45.61h3.00M803.70 45.61h-3.00M502.90 38.72h3.00M803.70 38.72h-3.00M502.90 31.83h3.00M803.70 31.83h-3.00" stroke="#000" stroke-width="0.92" fill="none"/>
<text x="498.40" y="58.10" text-anchor="end" font-size="16.60">1.60</text>
<text x="498.40" y="85.70" text-anchor="end" font-size="16.60">1.58</text>
<text x="498.40" y="113.20" text-anchor="end" font-size="16.60">1.56</text>
<text x="498.40" y="140.80" text-anchor="end" font-size="16.60">1.54</text>
<text x="498.40" y="168.30" text-anchor="end" font-size="16.60">1.52</text>
<text x="498.40" y="195.90" text-anchor="end" font-size="16.60">1.50</text>
<text x="498.40" y="223.50" text-anchor="end" font-size="16.60">1.48</text>
<text x="503.20" y="260.60" text-anchor="middle" font-size="16.60">4000</text>
<text x="546.17" y="260.60" text-anchor="middle" font-size="16.60">4500</text>
<text x="589.14" y="260.60" text-anchor="middle" font-size="16.60">5000</text>
<text x="632.11" y="260.60" text-anchor="middle" font-size="16.60">5500</text>
<text x="675.09" y="260.60" text-anchor="middle" font-size="16.60">6000</text>
<text x="718.06" y="260.60" text-anchor="middle" font-size="16.60">6500</text>
<text x="761.03" y="260.60" text-anchor="middle" font-size="16.60">7000</text>
<text x="804.00" y="260.60" text-anchor="middle" font-size="16.60">7500</text>
<text x="629.50" y="278.60" font-size="16.60"><tspan font-style="italic">T</tspan><tspan font-size="10.10" dy="3.9" dx="0.1">eff</tspan><tspan dy="-3.9" dx="0.9"> [K]</tspan></text>
<g transform="translate(455.70 144.15) rotate(-90)">
<text x="-0.4" y="0" font-size="17.26" font-style="italic">V</text>
<text x="0.0" y="-7.4" font-size="13.28">~</text>
<text x="10.6" y="-7.1" font-size="10.10">2</text>
<text x="9.0" y="4.3" font-size="9.80"><tspan font-style="italic">l</tspan>=1</text>
</g>
<rect x="87.90" y="323.30" width="300.80" height="212.60" fill="none" stroke="#000" stroke-width="0.95"/>
<path d="M96.49 535.90v-2.20M96.49 323.30v2.20M105.09 535.90v-2.20M105.09 323.30v2.20M113.68 535.90v-2.20M113.68 323.30v2.20M122.28 535.90v-2.20M122.28 323.30v2.20M130.87 535.90v-4.30M130.87 323.30v4.30M139.47 535.90v-2.20M139.47 323.30v2.20M148.06 535.90v-2.20M148.06 323.30v2.20M156.65 535.90v-2.20M156.65 323.30v2.20M165.25 535.90v-2.20M165.25 323.30v2.20M173.84 535.90v-4.30M173.84 323.30v4.30M182.44 535.90v-2.20M182.44 323.30v2.20M191.03 535.90v-2.20M191.03 323.30v2.20M199.63 535.90v-2.20M199.63 323.30v2.20M208.22 535.90v-2.20M208.22 323.30v2.20M216.81 535.90v-4.30M216.81 323.30v4.30M225.41 535.90v-2.20M225.41 323.30v2.20M234.00 535.90v-2.20M234.00 323.30v2.20M242.60 535.90v-2.20M242.60 323.30v2.20M251.19 535.90v-2.20M251.19 323.30v2.20M259.79 535.90v-4.30M259.79 323.30v4.30M268.38 535.90v-2.20M268.38 323.30v2.20M276.97 535.90v-2.20M276.97 323.30v2.20M285.57 535.90v-2.20M285.57 323.30v2.20M294.16 535.90v-2.20M294.16 323.30v2.20M302.76 535.90v-4.30M302.76 323.30v4.30M311.35 535.90v-2.20M311.35 323.30v2.20M319.95 535.90v-2.20M319.95 323.30v2.20M328.54 535.90v-2.20M328.54 323.30v2.20M337.13 535.90v-2.20M337.13 323.30v2.20M345.73 535.90v-4.30M345.73 323.30v4.30M354.32 535.90v-2.20M354.32 323.30v2.20M362.92 535.90v-2.20M362.92 323.30v2.20M371.51 535.90v-2.20M371.51 323.30v2.20M380.11 535.90v-2.20M380.11 323.30v2.20M87.90 535.25h6.00M388.70 535.25h-6.00M87.90 522.04h3.00M388.70 522.04h-3.00M87.90 508.83h3.00M388.70 508.83h-3.00M87.90 495.62h3.00M388.70 495.62h-3.00M87.90 482.41h3.00M388.70 482.41h-3.00M87.90 469.20h6.00M388.70 469.20h-6.00M87.90 455.99h3.00M388.70 455.99h-3.00M87.90 442.78h3.00M388.70 442.78h-3.00M87.90 429.57h3.00M388.70 429.57h-3.00M87.90 416.36h3.00M388.70 416.36h-3.00M87.90 403.15h6.00M388.70 403.15h-6.00M87.90 389.94h3.00M388.70 389.94h-3.00M87.90 376.73h3.00M388.70 376.73h-3.00M87.90 363.52h3.00M388.70 363.52h-3.00M87.90 350.31h3.00M388.70 350.31h-3.00M87.90 337.10h6.00M388.70 337.10h-6.00M87.90 323.89h3.00M388.70 323.89h-3.00" stroke="#000" stroke-width="0.92" fill="none"/>
<text x="83.40" y="342.80" text-anchor="end" font-size="16.60">0.65</text>
<text x="83.40" y="408.80" text-anchor="end" font-size="16.60">0.60</text>
<text x="83.40" y="474.80" text-anchor="end" font-size="16.60">0.55</text>
<text x="83.40" y="536.20" text-anchor="end" font-size="16.60">0.50</text>
<text x="88.20" y="557.30" text-anchor="middle" font-size="16.60">4000</text>
<text x="131.17" y="557.30" text-anchor="middle" font-size="16.60">4500</text>
<text x="174.14" y="557.30" text-anchor="middle" font-size="16.60">5000</text>
<text x="217.11" y="557.30" text-anchor="middle" font-size="16.60">5500</text>
<text x="260.09" y="557.30" text-anchor="middle" font-size="16.60">6000</text>
<text x="303.06" y="557.30" text-anchor="middle" font-size="16.60">6500</text>
<text x="346.03" y="557.30" text-anchor="middle" font-size="16.60">7000</text>
<text x="389.00" y="557.30" text-anchor="middle" font-size="16.60">7500</text>
<text x="214.50" y="575.30" font-size="16.60"><tspan font-style="italic">T</tspan><tspan font-size="10.10" dy="3.9" dx="0.1">eff</tspan><tspan dy="-3.9" dx="0.9"> [K]</tspan></text>
<g transform="translate(40.80 440.80) rotate(-90)">
<text x="-0.4" y="0" font-size="17.26" font-style="italic">V</text>
<text x="0.0" y="-7.4" font-size="13.28">~</text>
<text x="10.6" y="-7.1" font-size="10.10">2</text>
<text x="9.0" y="4.3" font-size="9.80"><tspan font-style="italic">l</tspan>=2</text>
</g>
<rect x="502.90" y="323.30" width="300.80" height="212.60" fill="none" stroke="#000" stroke-width="0.95"/>
<path d="M511.49 535.90v-2.20M511.49 323.30v2.20M520.09 535.90v-2.20M520.09 323.30v2.20M528.68 535.90v-2.20M528.68 323.30v2.20M537.28 535.90v-2.20M537.28 323.30v2.20M545.87 535.90v-4.30M545.87 323.30v4.30M554.47 535.90v-2.20M554.47 323.30v2.20M563.06 535.90v-2.20M563.06 323.30v2.20M571.65 535.90v-2.20M571.65 323.30v2.20M580.25 535.90v-2.20M580.25 323.30v2.20M588.84 535.90v-4.30M588.84 323.30v4.30M597.44 535.90v-2.20M597.44 323.30v2.20M606.03 535.90v-2.20M606.03 323.30v2.20M614.63 535.90v-2.20M614.63 323.30v2.20M623.22 535.90v-2.20M623.22 323.30v2.20M631.81 535.90v-4.30M631.81 323.30v4.30M640.41 535.90v-2.20M640.41 323.30v2.20M649.00 535.90v-2.20M649.00 323.30v2.20M657.60 535.90v-2.20M657.60 323.30v2.20M666.19 535.90v-2.20M666.19 323.30v2.20M674.79 535.90v-4.30M674.79 323.30v4.30M683.38 535.90v-2.20M683.38 323.30v2.20M691.97 535.90v-2.20M691.97 323.30v2.20M700.57 535.90v-2.20M700.57 323.30v2.20M709.16 535.90v-2.20M709.16 323.30v2.20M717.76 535.90v-4.30M717.76 323.30v4.30M726.35 535.90v-2.20M726.35 323.30v2.20M734.95 535.90v-2.20M734.95 323.30v2.20M743.54 535.90v-2.20M743.54 323.30v2.20M752.13 535.90v-2.20M752.13 323.30v2.20M760.73 535.90v-4.30M760.73 323.30v4.30M769.32 535.90v-2.20M769.32 323.30v2.20M777.92 535.90v-2.20M777.92 323.30v2.20M786.51 535.90v-2.20M786.51 323.30v2.20M795.11 535.90v-2.20M795.11 323.30v2.20M502.90 534.30h3.00M803.70 534.30h-3.00M502.90 529.10h3.00M803.70 529.10h-3.00M502.90 523.90h3.00M803.70 523.90h-3.00M502.90 518.70h3.00M803.70 518.70h-3.00M502.90 513.50h3.00M803.70 513.50h-3.00M502.90 508.30h3.00M803.70 508.30h-3.00M502.90 503.10h3.00M803.70 503.10h-3.00M502.90 497.90h3.00M803.70 497.90h-3.00M502.90 492.70h3.00M803.70 492.70h-3.00M502.90 487.50h6.00M803.70 487.50h-6.00M502.90 482.30h3.00M803.70 482.30h-3.00M502.90 477.10h3.00M803.70 477.10h-3.00M502.90 471.90h3.00M803.70 471.90h-3.00M502.90 466.70h3.00M803.70 466.70h-3.00M502.90 461.50h3.00M803.70 461.50h-3.00M502.90 456.30h3.00M803.70 456.30h-3.00M502.90 451.10h3.00M803.70 451.10h-3.00M502.90 445.90h3.00M803.70 445.90h-3.00M502.90 440.70h3.00M803.70 440.70h-3.00M502.90 435.50h6.00M803.70 435.50h-6.00M502.90 430.30h3.00M803.70 430.30h-3.00M502.90 425.10h3.00M803.70 425.10h-3.00M502.90 419.90h3.00M803.70 419.90h-3.00M502.90 414.70h3.00M803.70 414.70h-3.00M502.90 409.50h3.00M803.70 409.50h-3.00M502.90 404.30h3.00M803.70 404.30h-3.00M502.90 399.10h3.00M803.70 399.10h-3.00M502.90 393.90h3.00M803.70 393.90h-3.00M502.90 388.70h3.00M803.70 388.70h-3.00M502.90 383.50h6.00M803.70 383.50h-6.00M502.90 378.30h3.00M803.70 378.30h-3.00M502.90 373.10h3.00M803.70 373.10h-3.00M502.90 367.90h3.00M803.70 367.90h-3.00M502.90 362.70h3.00M803.70 362.70h-3.00M502.90 357.50h3.00M803.70 357.50h-3.00M502.90 352.30h3.00M803.70 352.30h-3.00M502.90 347.10h3.00M803.70 347.10h-3.00M502.90 341.90h3.00M803.70 341.90h-3.00M502.90 336.70h3.00M803.70 336.70h-3.00M502.90 331.50h6.00M803.70 331.50h-6.00M502.90 326.30h3.00M803.70 326.30h-3.00" stroke="#000" stroke-width="0.92" fill="none"/>
<text x="498.40" y="337.10" text-anchor="end" font-size="16.60">0.06</text>
<text x="498.40" y="389.50" text-anchor="end" font-size="16.60">0.05</text>
<text x="498.40" y="441.00" text-anchor="end" font-size="16.60">0.04</text>
<text x="498.40" y="493.10" text-anchor="end" font-size="16.60">0.03</text>
<text x="503.20" y="557.30" text-anchor="middle" font-size="16.60">4000</text>
<text x="546.17" y="557.30" text-anchor="middle" font-size="16.60">4500</text>
<text x="589.14" y="557.30" text-anchor="middle" font-size="16.60">5000</text>
<text x="632.11" y="557.30" text-anchor="middle" font-size="16.60">5500</text>
<text x="675.09" y="557.30" text-anchor="middle" font-size="16.60">6000</text>
<text x="718.06" y="557.30" text-anchor="middle" font-size="16.60">6500</text>
<text x="761.03" y="557.30" text-anchor="middle" font-size="16.60">7000</text>
<text x="804.00" y="557.30" text-anchor="middle" font-size="16.60">7500</text>
<text x="629.50" y="575.30" font-size="16.60"><tspan font-style="italic">T</tspan><tspan font-size="10.10" dy="3.9" dx="0.1">eff</tspan><tspan dy="-3.9" dx="0.9"> [K]</tspan></text>
<g transform="translate(455.80 440.80) rotate(-90)">
<text x="-0.4" y="0" font-size="17.26" font-style="italic">V</text>
<text x="0.0" y="-7.4" font-size="13.28">~</text>
<text x="10.6" y="-7.1" font-size="10.10">2</text>
<text x="9.0" y="4.3" font-size="9.80"><tspan font-style="italic">l</tspan>=3</text>
</g>
<path d="M746.30 45.45H787.20" stroke="#0000ff" stroke-width="1.0"/>
<text x="739.80" y="48.75" text-anchor="end" font-size="12.70">[M/H] = +1.0</text>
<path d="M746.30 56.40H787.20" stroke="#000000" stroke-width="1.0"/>
<text x="739.80" y="59.70" text-anchor="end" font-size="12.70">+0.0</text>
<path d="M746.30 66.95H787.20" stroke="#ff0000" stroke-width="1.0"/>
<text x="739.80" y="70.25" text-anchor="end" font-size="12.70">−1.0</text>
<path d="M746.30 88.50H787.20" stroke="#000000" stroke-width="1.0" stroke-dasharray="1.1 2.2"/>
<text x="738.00" y="91.80" text-anchor="end" font-size="12.70">log<tspan font-style="italic">g</tspan> = 2.5</text>
<path d="M746.30 99.05H787.20" stroke="#000000" stroke-width="1.0" stroke-dasharray="4.8 4.55"/>
<text x="739.80" y="102.35" text-anchor="end" font-size="12.70">3.0</text>
<path d="M746.30 109.65H787.20" stroke="#000000" stroke-width="1.0" stroke-dasharray="5 2.3 1 2.3"/>
<text x="739.20" y="112.95" text-anchor="end" font-size="12.70">3.5</text>
<path d="M746.30 120.35H787.20" stroke="#000000" stroke-width="1.0" stroke-dasharray="7.2 2.4 1 2.5 1 2.5 1 2.15"/>
<text x="739.80" y="123.65" text-anchor="end" font-size="12.70">4.0</text>
<path d="M746.30 130.95H787.20" stroke="#000000" stroke-width="1.0"/>
<text x="739.20" y="134.25" text-anchor="end" font-size="12.70">4.5</text>
</svg></body></html>
